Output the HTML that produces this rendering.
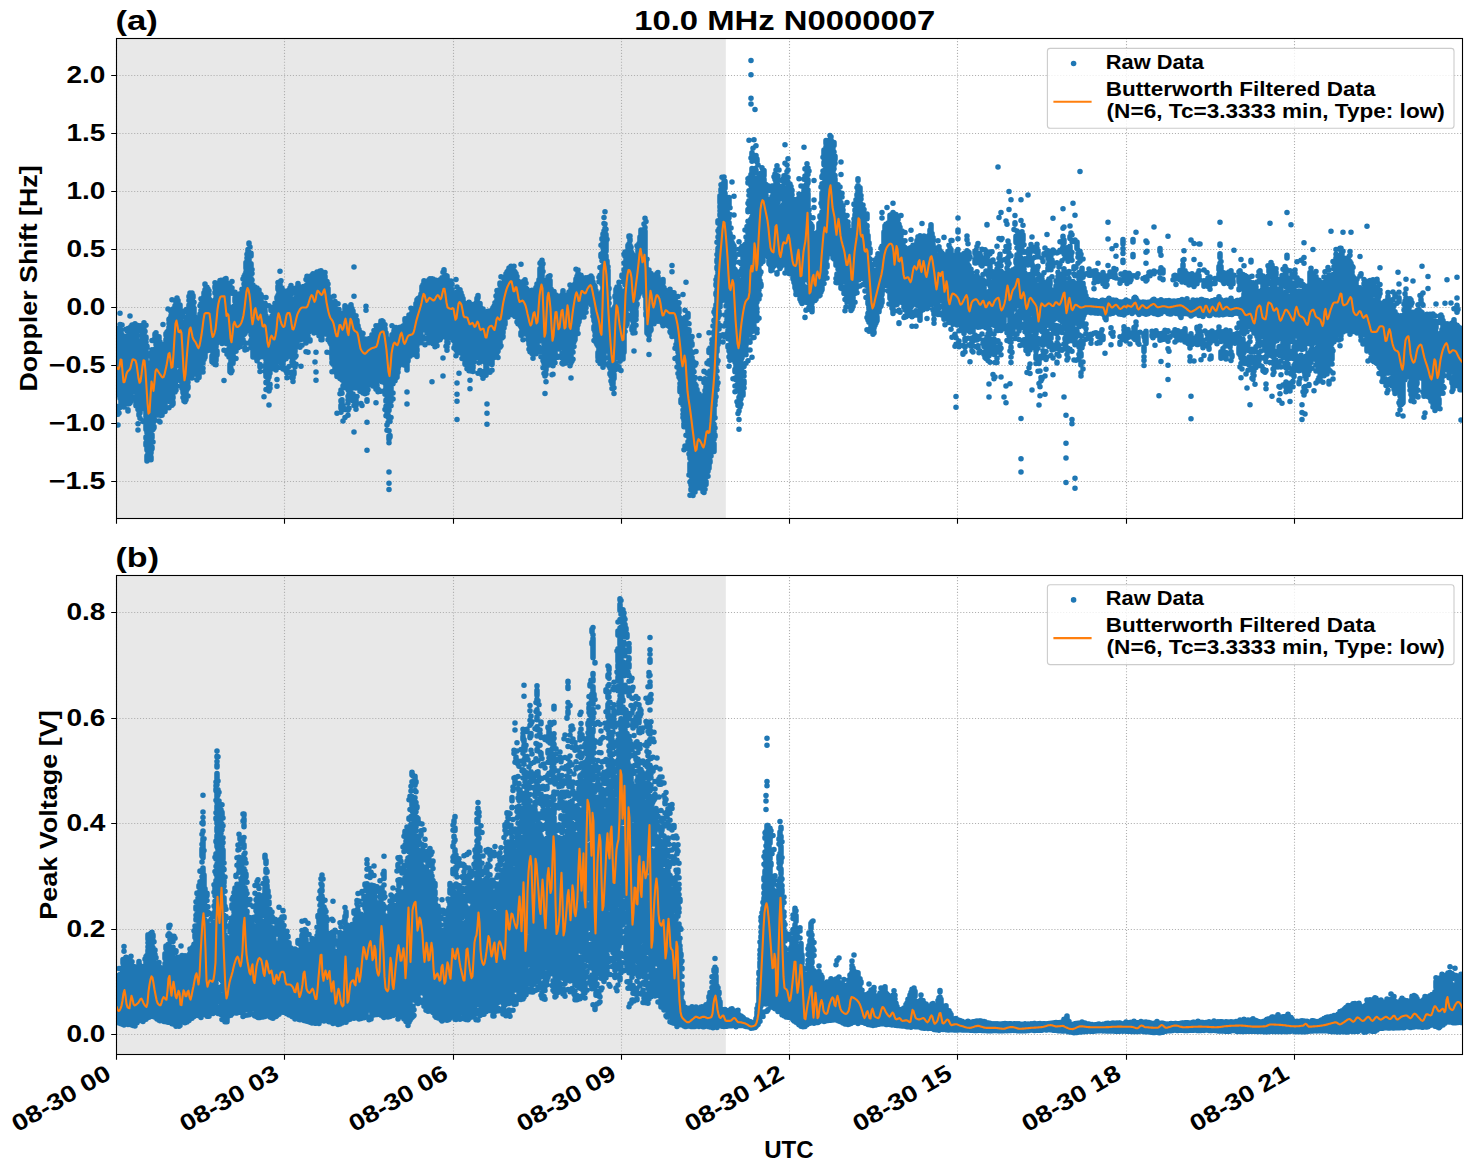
<!DOCTYPE html>
<html><head><meta charset="utf-8"><title>10.0 MHz N0000007</title>
<style>html,body{margin:0;padding:0;background:#fff}svg{display:block}text{font-family:"Liberation Sans",sans-serif;font-weight:bold;fill:#000}</style></head>
<body>
<svg width="1472" height="1172" viewBox="0 0 1472 1172">
<rect width="1472" height="1172" fill="#fff"/>
<defs><clipPath id="c1"><rect x="116.5" y="38.5" width="1346.0" height="480.0"/></clipPath><clipPath id="c2"><rect x="116.5" y="575.5" width="1346.0" height="479.0"/></clipPath></defs>
<rect x="116.5" y="38.5" width="609.3" height="480.0" fill="#e8e8e8"/>
<path d="M116.5 518.5V38.5M284.5 518.5V38.5M453.5 518.5V38.5M621.5 518.5V38.5M789.5 518.5V38.5M957.5 518.5V38.5M1126.5 518.5V38.5M1294.5 518.5V38.5M116.5 75.5H1462.5M116.5 133.5H1462.5M116.5 191.5H1462.5M116.5 249.5H1462.5M116.5 307.5H1462.5M116.5 365.5H1462.5M116.5 423.5H1462.5M116.5 481.5H1462.5" stroke="#b0b0b0" stroke-width="1.1" stroke-dasharray="1.11 1.83" fill="none"/>
<g clip-path="url(#c1)"><path transform="scale(0.25)" d="M464 1464v0M468 1315v14m0 14v14m0 18v17m0 13v135m0 15v9M472 1369v0m0 13v13m0 21v139m0 14v7m0 50v16m0 15v0m0 43v0M476 1325v0m0 16v0m0 14v20m0 16v78m0 14v53m0 30v15m0 47v3m0 21v0M480 1253v0m0 45v0m0 18v5m0 20v5m0 13v91m0 15v47m0 23v29m0 16v0m0 13v0m0 37v0M484 1319v24m0 16v137m0 24v8m0 24v9m0 44v5M488 1300v0m0 39v2m0 15v11m0 20v31m0 13v138m0 40v14M492 1353v38m0 15v163m0 19v8m0 14v7M496 1349v0m0 19v0m0 50v32m0 15v51m0 24v72m0 16v0M500 1365v0m0 13v5m0 24v78m0 14v27m0 13v62M504 1317v0m0 49v193m0 23v33M508 1323v0m0 21v2m0 14v2m0 47v54m0 13v2m0 13v67m0 15v7m0 15v20M512 1314v4m0 45v4m0 36v176m0 14v1m0 22v0m0 23v5M516 1318v18m0 17v202m0 36v0m0 14v10M520 1264v0m0 81v6m0 26v51m0 18v135m0 14v17M524 1306v23m0 42v120m0 15v48m0 30v0m0 21v0M528 1300v24m0 13v148m0 22v0m0 32v4M532 1332v1m0 27v105m0 17v15m0 16v3m0 19v6m0 16v0M536 1304v0m0 19v0m0 24v148m0 13v0m0 43v0m0 16v1M540 1295v0m0 19v0m0 17v142m0 20v44m0 25v0m0 28v0M544 1320v2m0 21v3m0 16v37m0 13v83m0 15v35m0 14v3m0 38v0m0 16v7M548 1301v0m0 21v23m0 13v4m0 14v38m0 13v93m0 15v22m0 19v0m0 23v0M552 1322v0m0 56v202m0 21v4m0 16v0m0 14v3m0 57v0m0 25v0M556 1363v6m0 16v0m0 22v0m0 23v27m0 19v92m0 14v54m0 19v6M560 1303v0m0 63v13m0 19v2m0 24v41m0 13v2m0 15v118m0 26v13m0 21v0M564 1370v23m0 13v69m0 14v94m0 15v0m0 16v0M568 1312v13m0 16v4m0 27v0m0 15v5m0 13v7m0 14v67m0 22v11m0 15v44m0 17v8m0 25v0M572 1300v210m0 17v28m0 18v0m0 13v0m0 18v0m0 80v2M576 1291v12m0 13v126m0 22v3m0 15v13m0 21v0m0 23v9m0 28v0m0 50v0M580 1303v0m0 22v1m0 41v87m0 15v48m0 14v24m0 16v41m0 19v0M584 1301v0m0 47v8m0 13v0m0 33v0m0 13v36m0 17v96m0 18v85m0 32v19m0 30v5m0 18v10M588 1385v5m0 74v27m0 18v5m0 18v7m0 15v0m0 26v89m0 15v22m0 22v3m0 20v49m0 23v21M592 1424v0m0 49v33m0 42v80m0 13v22m0 13v42m0 14v11m0 26v12m0 22v12M596 1512v0m0 14v0m0 14v2m0 22v2m0 16v8m0 14v159m0 72v0M600 1487v0m0 38v16m0 54v143m0 18v51m0 14v15M604 1412v0m0 38v0m0 24v173m0 19v18m0 68v0m0 41v19m0 16v11M608 1362v0m0 37v0m0 29v147m0 26v39m0 14v26m0 26v0m0 33v12m0 17v2m0 18v7M612 1409v37m0 14v7m0 14v40m0 15v119m0 17v3m0 19v3m0 21v0m0 50v0M616 1358v5m0 60v18m0 25v165m0 16v0m0 23v14m0 22v5M620 1336v7m0 55v176m0 14v53m0 40v0M624 1331v0m0 14v0m0 33v0m0 15v5m0 15v9m0 15v96m0 13v0m0 20v19m0 36v0m0 24v0m0 16v0M628 1355v13m0 15v139m0 16v42m0 28v0m0 38v0M632 1355v5m0 27v0m0 31v1m0 13v3m0 15v182m0 14v0m0 13v1M636 1347v11m0 62v0m0 26v155m0 17v10m0 20v0m0 36v0M640 1368v185m0 15v20m0 14v0m0 52v0m0 34v0M644 1376v0m0 54v165m0 18v20m0 29v0M648 1403v0m0 26v32m0 15v143m0 17v12m0 13v0M652 1298v0m0 91v2m0 51v14m0 19v81m0 14v38m0 19v22M656 1398v10m0 13v144m0 21v0m0 46v0M660 1403v39m0 17v139m0 14v6m0 19v9M664 1334v7m0 16v28m0 17v133m0 14v11m0 32v0M668 1328v20m0 17v0m0 29v141m0 17v24m0 13v6M672 1236v0m0 88v0m0 16v2m0 23v158m0 15v0m0 20v14M676 1277v4m0 13v0m0 15v109m0 16v70m0 22v0m0 20v1m0 20v0m0 64v0M680 1273v4m0 18v20m0 14v181m0 16v13m0 24v17m0 19v8M684 1247v0m0 16v2m0 20v0m0 48v11m0 15v1m0 14v17m0 13v140m0 14v7m0 14v7M688 1199v0m0 51v0m0 30v1m0 14v0m0 34v12m0 21v6m0 24v163m0 20v6m0 40v0M692 1236v5m0 53v0m0 19v0m0 23v120m0 13v6m0 13v32m0 15v13m0 13v2m0 24v5m0 16v8M696 1236v0m0 13v0m0 26v0m0 16v0m0 17v173m0 14v10m0 19v0M700 1223v4m0 16v0m0 15v160m0 13v4m0 29v5m0 33v0m0 66v0M704 1207v53m0 15v0m0 13v4m0 16v33m0 22v32m0 61v0m0 36v7m0 16v11m0 34v1M708 1192v99m0 14v2m0 16v23m0 14v17m0 25v29m0 13v19m0 24v9m0 18v0m0 31v0M712 1202v5m0 22v8m0 13v116m0 28v0m0 16v11m0 24v1m0 55v0M716 1226v0m0 15v153m0 22v3M720 1220v117m0 16v0m0 15v24m0 26v0m0 29v9M724 1243v115m0 14v5m0 14v0m0 14v2m0 16v0m0 15v4m0 18v24m0 28v12M728 1259v0m0 40v13m0 14v141m0 24v0m0 14v0m0 18v16m0 14v0M732 1312v0m0 19v0m0 23v66m0 18v103m0 14v16m0 19v0M736 1355v2m0 14v6m0 17v0m0 14v12m0 15v144m0 16v9M740 1244v2m0 78v11m0 18v62m0 15v29m0 14v2m0 14v118M744 1239v0m0 29v0m0 17v0m0 19v20m0 22v14m0 32v0m0 14v22m0 17v10m0 18v59m0 17v50M748 1237v0m0 36v33m0 24v4m0 17v11m0 13v32m0 14v0m0 21v66m0 22v0m0 24v4M752 1240v7m0 57v28m0 14v94m0 13v28m0 28v3m0 17v0m0 15v8m0 32v0M756 1185v2m0 15v0m0 18v5m0 28v99m0 14v48m0 13v6M760 1172v4m0 39v4m0 14v140m0 14v12m0 22v0m0 14v0m0 18v0m0 23v0M764 1185v0m0 27v195m0 43v0m0 42v0m0 19v0M768 1172v0m0 37v183m0 16v15m0 21v0m0 38v15m0 15v0M772 1182v8m0 26v25m0 25v30m0 16v89m0 14v29m0 14v0m0 15v7m0 13v0M776 1209v0m0 24v29m0 14v40m0 13v86m0 13v14m0 14v17m0 18v0M780 1271v17m0 14v15m0 18v80m0 13v19m0 45v0M784 1313v129m0 14v41M788 1287v0m0 24v182m0 27v0M792 1271v6m0 25v38m0 13v1m0 13v18m0 15v60m0 19v30M796 1295v0m0 14v0m0 13v0m0 18v0m0 13v123m0 13v21M800 1223v0m0 33v7m0 20v182m0 18v0M804 1195v0m0 20v0m0 27v2m0 23v42m0 20v114m0 25v3M808 1199v0m0 20v13m0 14v23m0 13v160M812 1191v0m0 14v0m0 27v159m0 39v3m0 20v0m0 20v0m0 15v0M816 1171v6m0 13v152m0 13v21m0 17v10m0 23v12M820 1136v2m0 21v171m0 23v36m0 23v17M824 1147v8m0 22v25m0 14v74m0 13v62M828 1149v29m0 15v58m0 14v15m0 13v27m0 16v17M832 1156v0m0 25v107m0 29v2m0 41v8m0 14v4m0 16v0M836 1163v0m0 14v0m0 17v82m0 16v22m0 16v2m0 43v0M840 1200v135m0 16v0m0 13v16M844 1226v18m0 13v134M848 1219v7m0 22v6m0 14v134m0 22v23M852 1214v11m0 19v0m0 18v169m0 17v2M856 1222v0m0 26v0m0 13v38m0 13v141M860 1131v0m0 15v6m0 17v4m0 27v15m0 28v175m0 40v0M864 1163v7m0 20v3m0 20v0m0 23v152m0 13v12m0 17v12m0 15v2M868 1197v174m0 33v16M872 1143v130m0 16v20m0 15v21M876 1151v63m0 13v64m0 28v16m0 17v12M880 1122v100m0 17v23m0 13v11m0 13v9m0 31v3m0 15v0M884 1121v120m0 14v4m0 13v12m0 36v0M888 1126v66m0 14v10m0 16v35m0 23v0m0 31v0m0 16v0m0 23v0m0 14v0M892 1122v199m0 23v0M896 1122v100m0 27v45m0 21v8m0 42v7m0 29v0m0 121v0M900 1116v107m0 17v55m0 43v0m0 15v11M904 1114v13m0 28v9m0 19v140m0 21v12M908 1132v0m0 26v0m0 15v172m0 17v13m0 27v0m0 15v0M912 1169v163M916 1226v149m0 20v1m0 32v0M920 1142v0m0 117v166m0 32v30M924 1161v0m0 99v20m0 15v37m0 19v109m0 15v16M928 1126v0m0 26v0m0 15v6m0 113v6m0 14v123m0 54v0M932 1239v0m0 15v178m0 13v8M936 1225v171M940 1169v6m0 16v15m0 16v137m0 46v0M944 1193v192m0 17v3m0 29v0M948 1200v174M952 1183v4m0 26v33m0 14v117m0 14v0M956 1186v0m0 31v153m0 17v0M960 1175v0m0 21v0m0 18v7m0 15v151M964 1177v8m0 24v31m0 14v9m0 17v78M968 1157v0m0 13v0m0 13v2m0 14v22m0 13v17m0 14v83M972 1116v0m0 80v144m0 18v2M976 1106v9m0 21v0m0 16v48m0 16v107m0 15v0m0 35v0M980 1098v0m0 42v19m0 14v128m0 19v14m0 59v7M984 1050v23m0 14v156m0 20v16m0 17v8m0 13v0m0 56v0M988 1017v0m0 15v0m0 13v184m0 24v40m0 24v0m0 80v0M992 998v27m0 14v95m0 16v45m0 24v10m0 14v0M996 972v4m0 32v3m0 13v190m0 25v15m0 15v0m0 36v0m0 19v0M1000 988v0m0 24v0m0 75v7m0 20v181m0 20v11m0 43v0M1004 1013v11m0 31v12m0 45v25m0 15v12m0 13v137m0 25v0m0 22v2m0 19v0M1008 1078v0m0 16v0m0 26v0m0 27v0m0 20v153m0 18v54M1012 1140v0m0 40v12m0 15v221M1016 1173v20m0 17v108m0 13v30m0 14v0m0 13v0m0 40v0M1020 1148v4m0 14v23m0 14v106m0 18v0m0 13v17m0 51v0M1024 1153v171m0 19v23M1028 1152v1m0 26v33m0 19v131m0 18v9m0 14v3m0 21v16M1032 1172v0m0 24v0m0 20v167m0 17v5m0 27v0M1036 1160v0m0 18v199m0 15v7M1040 1175v187m0 22v0m0 13v31m0 30v10m0 18v0M1044 1179v0m0 25v160m0 20v0m0 18v6M1048 1187v3m0 20v165m0 13v0m0 32v1M1052 1236v0m0 27v128m0 14v13M1056 1225v0m0 16v113m0 16v14m0 19v25m0 37v0m0 122v0M1060 1213v16m0 13v132m0 14v21m0 19v0m0 57v0M1064 1190v0m0 74v176m0 14v0m0 17v35m0 23v2m0 27v0M1068 1273v0m0 15v94m0 15v81m0 30v0M1072 1313v68m0 13v95m0 15v0m0 14v0m0 39v0M1076 1223v0m0 78v0m0 13v0m0 13v116m0 13v29m0 13v10m0 30v26m0 56v0M1080 1290v162m0 16v0m0 25v0m0 44v3m0 13v0M1084 1230v12m0 29v25m0 14v130M1088 1235v0m0 29v0m0 15v150m0 18v11m0 15v0M1092 1258v0m0 20v138m0 21v22m0 16v0M1096 1235v0m0 20v14m0 13v32m0 13v119m0 24v0M1100 1213v3m0 18v0m0 18v135m0 14v45M1104 1235v0m0 21v171m0 14v23m0 16v0M1108 1189v6m0 16v72m0 16v50m0 13v20m0 17v0m0 49v0m0 70v0m0 27v0M1112 1130v0m0 15v12m0 24v116m0 14v28m0 14v0m0 15v0m0 27v0m0 27v21m0 27v0M1116 1166v154m0 25v0m0 34v0m0 16v0M1120 1085v0m0 50v145m0 15v72M1124 1123v0m0 102v194m0 24v8m0 19v0M1128 1152v0m0 22v34m0 14v112m0 15v52m0 26v0m0 14v3M1132 1162v5m0 30v1m0 18v25m0 15v137m0 22v0m0 25v21m0 13v2M1136 1169v12m0 14v6m0 17v20m0 21v85m0 13v40m0 17v0m0 18v7M1140 1201v204M1144 1199v199m0 27v10m0 49v0M1148 1164v0m0 29v93m0 18v49m0 13v2m0 27v0m0 19v0m0 14v0m0 46v19m0 18v0M1152 1172v159m0 21v17m0 13v7M1156 1162v81m0 28v23m0 14v10m0 13v12m0 18v14m0 14v7m0 70v0M1160 1152v13m0 16v171m0 20v8m0 15v0m0 15v6M1164 1142v22m0 37v115m0 18v72m0 83v0M1168 1174v0m0 23v10m0 14v23m0 14v136m0 27v11m0 16v0m0 50v13M1172 1156v0m0 41v0m0 53v143m0 15v7m0 17v0m0 14v2m0 13v0m0 45v5m0 15v0M1176 1231v6m0 15v25m0 15v77m0 18v44m0 31v0m0 25v9M1180 1206v100m0 15v13m0 14v58m0 23v0m0 33v6M1184 1152v0m0 18v0m0 21v0m0 20v81m0 14v81m0 36v0m0 34v0M1188 1158v0m0 23v199M1192 1134v27m0 20v149m0 27v2M1196 1173v153m0 16v19M1200 1160v151m0 29v15m0 33v1M1204 1161v5m0 20v139m0 28v1m0 111v0M1208 1148v7m0 17v104m0 17v6m0 17v12m0 20v9m0 24v0M1212 1172v135m0 36v6M1216 1146v169m0 13v0M1220 1176v8m0 16v111m0 15v22M1224 1118v0m0 34v118m0 35v13m0 15v3m0 23v13m0 35v0M1228 1105v15m0 18v71m0 13v10m0 13v69m0 15v6m0 24v4M1232 1144v139m0 14v27m0 20v0m0 65v0M1236 1134v125m0 16v19m0 16v0m0 17v0M1240 1105v16m0 40v121m0 29v0m0 48v5M1244 1134v74m0 18v69m0 21v0M1248 1130v130m0 37v0M1252 1095v0m0 43v104m0 15v31m0 27v9M1256 1115v0m0 13v3m0 17v132m0 25v0m0 22v5M1260 1149v1m0 15v132m0 17v0m0 14v2m0 118v0M1264 1102v5m0 21v135m0 27v0m0 20v14m0 85v0m0 79v0m0 33v0M1268 1088v14m0 20v111m0 21v22M1272 1089v110m0 21v5m0 18v17m0 33v7m0 14v15M1276 1096v133m0 13v39m0 20v0m0 19v0m0 23v0M1280 1084v108m0 14v13m0 15v14m0 14v0m0 25v0m0 35v6M1284 1083v13m0 18v163m0 14v8m0 21v0m0 18v0m0 21v0M1288 1106v0m0 13v128m0 13v27m0 51v2m0 15v4M1292 1117v140m0 17v0m0 20v0m0 16v0m0 16v0M1296 1099v150m0 14v34m0 20v0M1300 1090v0m0 15v181m0 32v0m0 14v4M1304 1127v156m0 22v0m0 19v5M1308 1126v0m0 19v111m0 14v25m0 23v18m0 73v0M1312 1136v0m0 18v20m0 25v120m0 40v0M1316 1203v143m0 16v0M1320 1188v19m0 15v148M1324 1210v10m0 15v110m0 16v0m0 16v0m0 32v4M1328 1210v160m0 14v16m0 19v16m0 13v4m0 35v0M1332 1217v5m0 23v143m0 15v0m0 26v2m0 26v0M1336 1185v0m0 36v20m0 13v100m0 19v1m0 15v8m0 24v5m0 22v0M1340 1206v1m0 18v3m0 39v83m0 14v10m0 19v24m0 40v20M1344 1242v142m0 18v1m0 15v20m0 52v0M1348 1274v141m0 16v30m0 15v4m0 19v7m0 147v0M1352 1215v0m0 39v13m0 17v126m0 17v27m0 17v6M1356 1238v2m0 14v117m0 18v47m0 13v18M1360 1261v108m0 13v4m0 34v0m0 18v4m0 14v21m0 37v0m0 61v0M1364 1257v81m0 13v2m0 15v24m0 36v51m0 17v11m0 53v0m0 42v3m0 16v12m0 16v0M1368 1259v113m0 19v17m0 15v14m0 33v3m0 47v0m0 53v0m0 26v28M1372 1254v73m0 14v5m0 14v44m0 23v10m0 29v0m0 24v0m0 54v0m0 78v0m0 62v0M1376 1254v107m0 30v34m0 16v0m0 22v11m0 17v13m0 22v5m0 20v0M1380 1223v69m0 15v35m0 16v43m0 20v3m0 16v0m0 13v20m0 76v0m0 86v3m0 32v0M1384 1244v189m0 25v0m0 34v6M1388 1232v112m0 13v8m0 19v6m0 16v0m0 14v0m0 21v17m0 51v9m0 22v0M1392 1250v5m0 26v154m0 24v3m0 36v14m0 13v13m0 18v3m0 26v0m0 15v0m0 13v0m0 28v0m0 20v0M1396 1259v107m0 20v78m0 14v0m0 15v9m0 19v17m0 34v16m0 45v0M1400 1226v122m0 37v8m0 20v6m0 14v4m0 22v10m0 72v0m0 16v6M1404 1219v92m0 17v0m0 14v1m0 18v0m0 13v0m0 17v23m0 96v0m0 19v0M1408 1234v61m0 15v46m0 21v9m0 16v4m0 15v17m0 47v0m0 20v0m0 24v0m0 20v0m0 38v0M1412 1244v1m0 14v104m0 28v25m0 20v7m0 46v0m0 19v0m0 18v26m0 24v27M1416 1068v0m0 117v0m0 74v79m0 31v15m0 13v9m0 16v7m0 31v0m0 20v0m0 27v0m0 19v0m0 58v4m0 34v0m0 106v0M1420 1266v114m0 16v24m0 14v23m0 15v8m0 125v8M1424 1263v0m0 15v89m0 15v35m0 13v48m0 17v0m0 57v0m0 48v22m0 15v0M1428 1281v42m0 15v0m0 24v11m0 16v24m0 14v0m0 14v6m0 19v20m0 100v0M1432 1303v101m0 13v52m0 16v31m0 24v0M1436 1318v0m0 16v41m0 13v27m0 21v4m0 28v14m0 19v0m0 23v0m0 16v0M1440 1349v136m0 29v6m0 45v0M1444 1352v181m0 21v0m0 60v0M1448 1332v8m0 18v146m0 23v13m0 82v0M1452 1334v0m0 42v0m0 14v34m0 15v77m0 13v43M1456 1355v0m0 14v132m0 18v6m0 22v2M1460 1356v164m0 20v0m0 35v0M1464 1225v0m0 16v0m0 135v132m0 46v0M1468 1359v95m0 18v40m0 16v13m0 31v0m0 27v6m0 84v0m0 112v0M1472 1356v75m0 17v11m0 16v0m0 54v3m0 27v0M1476 1369v140m0 21v10M1480 1354v132m0 21v5M1484 1355v164M1488 1339v67m0 15v8m0 13v20m0 29v6m0 31v7M1492 1349v118m0 19v0m0 23v15m0 20v0M1496 1322v0m0 14v134m0 13v36M1500 1334v0m0 15v0m0 16v109m0 17v14m0 14v0m0 17v0M1504 1303v0m0 33v127m0 16v15m0 33v4m0 13v13m0 54v0M1508 1312v164m0 20v5m0 40v0M1512 1323v154m0 14v0m0 65v11M1516 1302v91m0 13v38m0 34v7M1520 1299v157m0 13v3m0 41v10M1524 1284v112m0 27v0m0 15v0m0 20v2m0 35v2m0 68v0M1528 1283v91m0 15v28m0 33v0m0 20v19m0 38v0M1532 1286v83m0 17v17m0 29v17m0 30v6m0 31v0M1536 1297v66m0 13v46m0 19v0m0 14v7m0 24v0M1540 1299v0m0 15v65m0 28v16m0 23v24m0 30v0m0 17v0m0 16v0m0 28v0m0 16v0m0 61v0M1544 1331v102m0 14v37m0 23v17m0 21v14m0 13v4m0 24v5m0 20v0m0 38v0M1548 1354v9m0 14v126m0 34v0m0 17v8m0 32v9m0 28v0m0 18v1m0 50v0m0 21v0M1552 1382v0m0 20v96m0 13v94m0 31v9m0 14v9m0 22v0M1556 1370v1m0 17v0m0 19v145m0 17v11m0 13v24m0 21v4m0 36v0m0 45v0m0 21v13m0 14v0m0 117v0m0 45v0m0 25v0M1560 1399v0m0 19v9m0 14v139m0 16v0m0 13v0m0 77v0m0 56v6M1564 1390v111m0 21v68m0 15v0m0 18v0m0 47v0M1568 1303v0m0 36v5m0 14v109m0 16v0m0 27v0M1572 1350v126m0 22v0m0 14v0m0 23v0m0 37v0m0 24v0M1576 1323v90m0 18v13m0 15v13m0 14v0M1580 1324v82m0 14v8m0 18v10m0 14v0m0 26v1m0 26v0M1584 1310v0m0 14v2m0 15v94m0 15v0m0 22v19m0 21v0M1588 1323v10m0 14v162M1592 1327v149m0 13v0M1596 1319v112m0 32v0M1600 1309v107m0 16v11M1604 1308v99m0 25v0m0 18v0M1608 1310v111m0 29v0M1612 1304v146M1616 1337v110m0 13v0M1620 1275v8m0 13v144m0 14v6M1624 1293v0m0 22v115m0 14v7M1628 1298v0m0 14v108m0 18v42m0 88v0m0 48v0M1632 1274v10m0 13v118m0 17v12M1636 1260v1m0 23v0m0 16v99m0 28v0M1640 1268v0m0 14v143M1644 1233v0m0 27v1m0 14v6m0 14v105m0 15v3M1648 1248v28m0 20v102m0 21v0M1652 1257v144M1656 1248v130m0 17v0m0 20v3M1660 1244v132m0 16v0M1664 1214v159m0 26v0M1668 1199v135m0 33v14m0 15v8m0 14v8M1672 1194v127m0 23v0M1676 1195v115m0 17v8m0 15v6M1680 1188v100m0 19v21m0 30v0M1684 1176v57m0 23v53m0 20v0m0 42v0M1688 1146v86m0 24v2m0 21v16m0 13v0m0 39v0M1692 1139v104m0 18v50m0 36v2M1696 1123v77m0 17v9m0 15v6m0 32v6m0 71v0M1700 1134v105m0 20v27m0 13v9m0 71v0M1704 1144v150m0 27v0M1708 1146v11m0 23v69m0 18v64m0 25v0M1712 1139v4m0 13v137m0 57v0M1716 1119v7m0 14v110m0 13v3m0 15v28m0 21v6m0 23v12M1720 1115v2m0 14v167m0 23v0m0 29v0M1724 1121v163m0 25v11m0 15v0M1728 1115v18m0 13v108m0 14v0m0 29v5m0 19v1m0 42v0m0 163v0M1732 1116v11m0 19v60m0 13v8m0 14v17m0 19v33m0 15v11m0 39v0M1736 1120v2m0 15v6m0 15v98m0 16v16m0 14v4m0 18v6m0 14v0M1740 1121v0m0 20v66m0 13v66m0 27v0m0 15v3m0 21v0m0 15v0m0 20v0M1744 1121v162m0 14v0m0 34v0M1748 1128v0m0 14v58m0 13v32m0 13v41m0 18v30m0 18v0m0 18v0M1752 1126v189m0 38v0M1756 1122v153m0 33v0M1760 1119v6m0 20v110m0 14v0m0 13v0m0 29v0m0 24v0m0 13v11M1764 1144v81m0 16v7m0 26v4m0 24v11m0 15v2m0 21v0M1768 1111v168m0 13v12M1772 1089v0m0 27v109m0 16v26m0 17v54m0 94v0m0 72v0M1776 1079v7m0 21v65m0 15v72m0 29v25m0 26v0M1780 1103v0m0 13v191m0 39v0M1784 1102v0m0 39v110m0 16v24m0 14v8m0 37v0m0 35v0M1788 1104v13m0 13v0m0 16v165m0 13v22m0 20v4m0 18v0m0 13v0M1792 1131v0m0 13v0m0 21v0m0 15v94m0 13v13m0 13v8m0 16v17m0 18v0M1796 1149v0m0 18v179M1800 1135v2m0 20v143m0 18v2m0 23v5M1804 1124v0m0 18v6m0 23v154m0 19v0M1808 1136v0m0 22v150m0 36v0M1812 1177v125m0 15v25m0 13v5M1816 1178v154m0 13v19m0 27v1M1820 1188v1m0 21v0m0 19v128m0 23v13M1824 1118v0m0 72v178m0 13v18m0 24v0M1828 1148v0m0 21v117m0 14v46m0 30v0m0 15v0m0 14v0m0 127v0m0 45v0m0 28v0m0 73v0M1832 1183v137m0 21v11m0 30v5M1836 1164v4m0 13v66m0 20v78m0 21v14m0 14v1m0 98v0M1840 1159v92m0 25v28m0 33v0m0 24v0m0 28v0m0 22v0M1844 1171v137m0 30v19M1848 1183v79m0 17v0m0 17v13m0 14v4m0 24v13m0 70v0M1852 1194v114m0 13v69m0 33v0M1856 1211v8m0 13v109m0 17v47M1860 1220v138m0 25v1m0 36v0m0 14v0m0 17v6M1864 1220v168M1868 1230v0m0 13v38m0 13v142m0 39v0M1872 1222v3m0 14v127m0 14v0m0 17v0m0 35v0m0 19v0m0 16v0M1876 1209v0m0 15v6m0 14v113m0 25v33m0 18v16m0 13v0m0 16v5M1880 1254v5m0 13v106m0 15v24m0 14v0m0 90v0m0 34v0M1884 1223v147m0 18v16m0 13v0m0 21v0m0 46v0M1888 1218v15m0 17v107m0 14v19m0 27v5M1892 1268v111m0 14v8m0 14v15m0 32v10m0 14v0M1896 1257v81m0 14v49m0 46v0M1900 1228v8m0 16v119m0 17v5m0 15v11m0 15v0M1904 1212v192m0 20v5M1908 1193v17m0 29v109m0 15v13m0 14v3m0 18v11M1912 1182v9m0 24v0m0 27v99m0 38v19m0 13v0m0 13v0m0 69v0M1916 1240v151m0 15v4m0 16v0m0 25v0M1920 1214v13m0 15v0m0 16v70m0 16v66m0 24v0m0 15v0m0 33v0M1924 1236v176m0 13v1m0 18v0M1928 1238v110m0 21v0m0 15v5m0 18v22m0 71v0M1932 1236v84m0 16v77m0 27v0m0 47v10m0 16v0M1936 1253v6m0 14v115m0 14v9m0 17v17m0 49v10M1940 1277v157m0 15v0M1944 1286v98m0 13v104M1948 1293v159m0 23v8m0 133v0m0 37v0m0 44v0M1952 1245v20m0 16v94m0 24v0m0 16v17m0 23v0m0 28v0M1956 1245v160m0 49v0M1960 1244v108m0 13v13m0 77v0m0 34v0M1964 1246v105m0 13v25m0 15v12M1968 1258v124m0 18v4m0 16v38m0 23v0M1972 1231v0m0 19v131m0 14v5M1976 1225v8m0 20v145M1980 1211v1m0 27v0m0 29v121m0 40v0M1984 1184v0m0 25v22m0 14v136m0 24v0M1988 1162v1m0 17v3m0 14v125m0 15v17m0 13v1m0 35v8M1992 1161v0m0 49v176m0 13v6m0 25v0M1996 1169v12m0 13v141m0 13v10M2000 1132v7m0 36v0m0 38v89m0 16v71M2004 1107v0m0 28v10m0 33v152m0 53v0M2008 1135v0m0 23v0m0 17v71m0 13v35m0 16v3m0 20v19M2012 1146v125m0 20v2m0 32v6m0 13v4M2016 1115v0m0 16v128m0 19v0m0 18v0m0 16v0M2020 1115v135m0 17v2m0 16v12M2024 1095v124m0 13v0m0 23v4M2028 1088v124m0 16v0m0 23v0M2032 1083v87m0 14v34m0 50v0M2036 1072v135m0 18v0M2040 1070v121m0 20v0m0 26v0M2044 1065v139m0 50v0M2048 1078v130m0 18v0M2052 1109v119m0 31v1M2056 1065v0m0 18v2m0 32v0m0 14v118M2060 1088v0m0 24v109m0 16v7m0 13v9M2064 1094v137M2068 1106v0m0 14v112m0 18v3m0 35v0M2072 1124v126m0 25v20M2076 1152v1m0 15v124M2080 1151v121m0 14v0m0 15v0M2084 1057v0m0 76v0m0 21v153m0 23v11M2088 1128v133m0 13v46M2092 1149v132m0 13v0m0 13v0m0 26v4m0 22v0M2096 1157v123m0 27v0M2100 1119v13m0 25v138m0 18v17M2104 1133v0m0 20v132m0 18v0m0 13v0M2108 1157v150m0 19v10M2112 1178v16m0 14v0m0 14v102m0 13v8m0 13v0M2116 1163v0m0 22v0m0 46v0m0 16v130m0 20v0M2120 1167v5m0 15v0m0 27v2m0 21v152m0 18v0M2124 1166v22m0 22v0m0 16v131m0 18v16M2128 1161v16m0 15v31m0 23v168M2132 1165v0m0 53v116m0 49v6m0 44v0M2136 1164v0m0 26v118m0 21v17m0 22v5M2140 1183v10m0 15v113m0 13v24m0 13v17M2144 1150v1m0 28v64m0 13v96m0 33v6m0 15v9M2148 1136v0m0 55v20m0 38v161M2152 1146v0m0 15v201m0 39v0M2156 1119v98m0 13v70m0 42v0m0 23v0m0 23v0M2160 1053v0m0 22v126m0 28v13m0 16v11m0 16v0m0 36v0m0 13v0m0 72v0M2164 1048v9m0 21v109m0 26v33m0 18v7m0 23v2m0 13v5m0 113v0M2168 1041v104m0 19v26m0 39v4m0 20v12m0 25v0m0 14v0m0 15v8m0 29v0m0 41v2M2172 1055v0m0 31v0m0 34v50m0 16v132m0 26v0m0 15v0m0 42v5m0 37v0m0 28v0M2176 1153v0m0 15v30m0 15v46m0 13v103m0 14v7m0 15v3m0 23v16m0 41v0M2180 1161v28m0 15v5m0 17v0m0 13v27m0 14v19m0 15v108m0 20v0m0 62v0m0 70v0M2184 1122v0m0 43v0m0 15v0m0 26v85m0 26v50m0 14v2m0 19v6m0 20v3m0 14v0m0 26v9m0 17v0m0 30v0M2188 1140v0m0 15v8m0 15v155m0 15v21m0 14v0m0 14v0m0 23v18m0 15v0M2192 1108v98m0 16v47m0 17v42m0 16v8m0 95v1M2196 1105v112m0 23v12m0 25v0m0 19v0m0 21v9m0 16v0m0 16v17m0 23v0m0 24v7m0 31v0M2200 1103v0m0 19v24m0 15v120m0 17v29m0 19v0m0 15v0M2204 1156v91m0 18v86m0 13v45M2208 1221v10m0 14v0m0 15v86m0 14v97m0 42v0M2212 1220v4m0 18v2m0 15v72m0 20v112m0 34v0M2216 1166v16m0 26v0m0 31v9m0 38v136m0 16v14M2220 1219v119m0 14v17m0 13v36m0 13v0m0 20v0M2224 1180v146m0 19v5m0 20v13m0 45v0M2228 1183v150m0 19v9m0 28v0m0 35v0M2232 1191v0m0 21v0m0 20v99m0 13v20m0 65v0M2236 1209v35m0 14v123m0 14v1M2240 1207v24m0 15v107m0 15v6m0 13v0M2244 1207v0m0 13v137m0 17v10M2248 1179v131m0 13v28m0 31v0m0 32v5m0 13v0m0 21v0M2252 1163v201m0 28v0m0 35v9m0 19v1M2256 1199v163m0 14v22m0 21v9M2260 1242v0m0 29v0m0 13v144m0 25v0M2264 1202v125m0 15v32m0 20v6m0 17v5m0 25v0M2268 1187v164m0 32v13M2272 1179v170m0 14v0m0 18v2m0 29v12M2276 1168v12m0 16v12m0 18v109m0 13v47m0 27v7M2280 1140v0m0 32v0m0 73v180m0 14v6m0 18v0M2284 1156v10m0 16v11m0 19v153m0 15v26m0 16v29m0 61v0M2288 1161v13m0 24v6m0 14v64m0 14v44m0 14v33m0 13v4m0 40v0M2292 1155v129m0 13v53m0 17v9m0 33v0m0 28v0M2296 1149v163m0 23v0m0 32v0m0 19v0M2300 1135v86m0 13v15m0 15v95M2304 1077v0m0 39v160m0 51v0M2308 1105v155m0 19v5m0 23v12M2312 1080v0m0 13v11m0 29v153m0 13v0m0 35v0M2316 1120v0m0 21v0m0 15v131M2320 1107v136m0 20v9M2324 1101v122M2328 1109v8m0 13v101m0 13v4M2332 1132v74m0 13v0m0 15v12m0 14v0M2336 1122v83m0 33v1m0 29v0M2340 1122v0m0 15v98M2344 1111v91m0 13v0m0 16v0m0 18v0M2348 1115v97M2352 1121v88M2356 1109v72m0 19v6M2360 1114v80M2364 1104v85m0 13v3m0 13v0M2368 1110v103M2372 1128v122m0 15v0M2376 1140v116m0 17v10m0 23v12m0 44v0M2380 1145v114m0 17v25m0 18v9m0 15v0m0 17v0M2384 1163v0m0 14v147m0 13v9m0 22v2M2388 1174v13m0 16v133m0 14v5m0 19v4M2392 1192v0m0 22v124m0 13v33m0 26v20m0 13v0M2396 1109v0m0 18v0m0 56v11m0 37v20m0 20v136m0 24v10M2400 1070v0m0 31v0m0 84v0m0 34v56m0 17v7m0 22v85m0 14v6m0 13v2m0 13v0M2404 981v0m0 36v10m0 146v6m0 14v0m0 15v13m0 13v0m0 34v7m0 17v12m0 23v114M2408 954v3m0 21v0m0 65v0m0 24v0m0 16v22m0 19v13m0 29v19m0 13v10m0 15v171m0 25v7M2412 936v2m0 34v20m0 17v11m0 16v9m0 24v5m0 14v107m0 18v30m0 14v0m0 26v7m0 30v20m0 72v11m0 25v5m0 16v0M2416 870v0m0 24v0m0 30v0m0 15v28m0 19v21m0 14v45m0 13v21m0 29v12m0 13v10m0 16v35m0 39v0m0 13v0m0 66v0m0 38v0m0 19v0m0 31v0m0 18v0m0 16v0M2420 847v0m0 49v0m0 17v146m0 16v0m0 14v39m0 13v21m0 21v17m0 13v2m0 16v0m0 15v2m0 15v0m0 17v0m0 21v9m0 24v1m0 17v7m0 73v0M2424 917v0m0 21v67m0 18v85m0 17v52m0 37v19m0 14v29m0 13v4m0 31v0m0 14v10m0 41v0m0 16v0m0 51v0M2428 957v1m0 86v62m0 17v108m0 15v26m0 23v0m0 58v0M2432 1067v0m0 13v206m0 13v0m0 16v5M2436 1153v2m0 37v0m0 21v0m0 26v9m0 13v140m0 29v1m0 32v1M2440 1280v149m0 16v27m0 21v4M2444 1277v14m0 19v134m0 19v19m0 22v0m0 20v0M2448 1262v0m0 34v222m0 13v5m0 18v0M2452 1332v0m0 46v4m0 17v0m0 16v121m0 13v6M2456 1233v14m0 27v8m0 41v64m0 18v79m0 13v17m0 37v0m0 23v0M2460 1184v4m0 38v18m0 21v162m0 25v27M2464 1157v130m0 14v18m0 14v4m0 13v0m0 20v0m0 15v6m0 21v0m0 17v0m0 24v0M2468 1148v70m0 20v55m0 19v0m0 14v10m0 33v6m0 25v0m0 15v0M2472 1150v0m0 13v167m0 18v12m0 39v8M2476 1129v0m0 16v213m0 22v0m0 21v4m0 26v0m0 36v10M2480 1154v0m0 23v0m0 39v153m0 18v41m0 13v4M2484 1178v0m0 14v132m0 13v61m0 33v6m0 45v0M2488 1100v6m0 92v0m0 35v0m0 15v0m0 14v14m0 14v126M2492 1126v0m0 43v0m0 32v11m0 27v10m0 22v13m0 15v137M2496 1017v0m0 35v0m0 27v0m0 35v0m0 62v1m0 14v0m0 15v63m0 16v124M2500 1008v0m0 17v0m0 32v0m0 19v32m0 17v14m0 25v111m0 14v13m0 24v0M2504 1039v97m0 22v54m0 16v35m0 41v0M2508 1010v22m0 15v44m0 13v1m0 13v29m0 14v30m0 17v27m0 46v15M2512 981v10m0 13v92m0 39v14m0 37v17m0 58v1M2516 944v4m0 27v100m0 14v54m0 15v10m0 15v0m0 23v0m0 57v0M2520 944v0m0 13v6m0 18v135m0 14v5m0 32v0M2524 989v0m0 15v131m0 18v34m0 13v0m0 14v2M2528 1013v0m0 22v3m0 16v136m0 19v34m0 27v8m0 31v11M2532 1054v2m0 16v7m0 20v5m0 13v35m0 19v99m0 15v0m0 17v0m0 30v0M2536 1093v0m0 30v20m0 28v28m0 14v102m0 16v0m0 73v0M2540 1081v11m0 15v0m0 14v116m0 22v19m0 53v0M2544 1023v0m0 14v10m0 15v136m0 13v20m0 13v21m0 13v0m0 23v0M2548 983v0m0 39v0m0 23v100m0 13v36m0 21v4M2552 992v17m0 15v119m0 13v13m0 15v5M2556 974v112m0 13v0m0 14v33m0 14v0m0 17v0M2560 948v148m0 15v0m0 17v19M2564 920v174M2568 926v137m0 19v7m0 17v5m0 19v0m0 33v0M2572 928v0m0 16v127m0 18v5m0 18v0m0 39v17M2576 896v0m0 22v136m0 13v10m0 15v21m0 15v0M2580 873v0m0 37v0m0 14v175m0 19v66M2584 886v0m0 158v28m0 13v152m0 15v10M2588 1037v0m0 61v11m0 15v0m0 14v24m0 27v39m0 14v90M2592 1165v4m0 23v145M2596 1080v0m0 68v13m0 15v149m0 15v2m0 17v0m0 59v0M2600 1134v146m0 17v4m0 25v0M2604 1094v147m0 20v7m0 22v8m0 17v5M2608 1109v0m0 13v155m0 18v0M2612 1101v2m0 13v1m0 13v158M2616 1116v10m0 16v138m0 15v0M2620 1110v0m0 23v130M2624 1101v11m0 19v96m0 19v0M2628 1094v119m0 14v0m0 25v6m0 19v0M2632 1090v0m0 17v157m0 21v0M2636 1128v86m0 16v37m0 13v0M2640 1129v4m0 20v111M2644 1130v0m0 17v132M2648 1128v0m0 33v21m0 17v0m0 17v75M2652 1118v14m0 14v9m0 23v20m0 14v39m0 13v39M2656 1151v4m0 20v125M2660 1160v134M2664 1163v114m0 13v0M2668 1186v115M2672 1178v116M2676 1178v127M2680 1157v8m0 18v0m0 20v106m0 18v0M2684 1180v2m0 16v5m0 13v117M2688 1062v0m0 25v0m0 95v136m0 28v0M2692 1171v0m0 21v127M2696 1171v0m0 13v0m0 15v114M2700 1184v0m0 13v120m0 76v0m0 41v0M2704 1190v0m0 18v11m0 14v115m0 30v0M2708 1187v0m0 24v118m0 13v32m0 14v8m0 72v0M2712 1186v0m0 25v0m0 15v137m0 13v16m0 16v0m0 18v0m0 17v4m0 22v0m0 25v0M2716 1211v0m0 25v14m0 17v126m0 13v71m0 17v0m0 14v0M2720 1272v0m0 16v46m0 15v36m0 17v31m0 22v6m0 14v40m0 19v0m0 13v20M2724 1278v14m0 29v14m0 13v141m0 13v24m0 20v12m0 40v13M2728 1320v32m0 17v132m0 14v30m0 16v5m0 14v0m0 13v0M2732 1178v0m0 113v0m0 21v5m0 30v10m0 18v190m0 20v11m0 25v0m0 19v0m0 17v0m0 13v0M2736 1281v3m0 29v7m0 16v75m0 18v140m0 51v4m0 48v10m0 13v12m0 92v0M2740 1241v0m0 29v164m0 15v23m0 20v0m0 15v0m0 17v19m0 21v0m0 16v0m0 35v0m0 21v0m0 18v0m0 130v0M2744 1129v0m0 147v2m0 19v0m0 30v30m0 13v20m0 14v124m0 26v72m0 23v4m0 18v17m0 53v0M2748 1335v0m0 30v0m0 20v7m0 16v7m0 18v14m0 20v15m0 20v106m0 16v5m0 13v14m0 13v9m0 32v0M2752 1254v15m0 24v0m0 26v31m0 23v0m0 20v16m0 26v36m0 18v9m0 25v79m0 14v5m0 15v0m0 18v4m0 19v14m0 14v23m0 39v0M2756 1295v0m0 24v8m0 27v5m0 24v0m0 15v0m0 18v0m0 19v9m0 13v0m0 13v0m0 15v9m0 23v2m0 18v10m0 16v53m0 14v13m0 24v21m0 17v0m0 13v6m0 20v8m0 45v0m0 19v0m0 84v0M2760 1373v0m0 25v0m0 27v28m0 27v8m0 27v0m0 18v3m0 14v9m0 38v104m0 13v19m0 15v50m0 21v15m0 20v36m0 38v0m0 53v0M2764 1362v0m0 99v0m0 25v0m0 19v6m0 17v0m0 21v119m0 16v103m0 32v18m0 47v19m0 20v17m0 16v4M2768 1346v1m0 27v7m0 49v11m0 24v0m0 24v42m0 44v40m0 20v22m0 26v1m0 14v62m0 14v30m0 31v38m0 25v11m0 22v0m0 21v0M2772 1410v0m0 35v0m0 35v0m0 33v25m0 31v26m0 18v0m0 37v200m0 18v52m0 23v0m0 22v17M2776 1487v0m0 32v0m0 32v2m0 32v0m0 20v3m0 16v52m0 13v0m0 20v14m0 15v50m0 13v6m0 14v16m0 13v0m0 16v21m0 24v7m0 14v8M2780 1461v0m0 49v0m0 26v0m0 13v0m0 13v16m0 17v0m0 20v5m0 15v4m0 18v0m0 38v22m0 17v37m0 18v101m0 14v12m0 17v0m0 35v0M2784 1406v0m0 47v0m0 89v0m0 23v6m0 36v23m0 34v1m0 14v0m0 14v96m0 19v127M2788 1558v19m0 16v20m0 46v9m0 14v9m0 24v47m0 16v111m0 13v26m0 16v9M2792 1637v0m0 18v171m0 15v43m0 46v0M2796 1342v0m0 234v0m0 34v5m0 31v50m0 13v128m0 16v0m0 42v22M2800 1514v0m0 73v0m0 29v6m0 60v167m0 17v0m0 15v11m0 22v0m0 24v3M2804 1644v4m0 17v3m0 19v20m0 17v12m0 18v148m0 51v0M2808 1586v0m0 18v0m0 21v0m0 13v3m0 17v0m0 18v62m0 15v49m0 13v72m0 40v0M2812 1629v4m0 23v2m0 21v4m0 14v13m0 15v162m0 16v0m0 15v0m0 20v15m0 14v0M2816 1485v1m0 37v7m0 126v11m0 23v36m0 15v92m0 16v102m0 19v0M2820 1515v1m0 46v0m0 14v3m0 23v0m0 15v8m0 20v154m0 23v21m0 27v1m0 17v42m0 27v0M2824 1535v24m0 64v14m0 25v107m0 13v4m0 19v37m0 18v4m0 15v15m0 32v12M2828 1452v0m0 41v0m0 34v0m0 26v10m0 21v40m0 28v2m0 15v19m0 16v18m0 13v114m0 13v4m0 27v0M2832 1455v0m0 69v5m0 17v0m0 20v0m0 19v11m0 15v24m0 47v42m0 13v83m0 16v6m0 26v0m0 17v0m0 20v0M2836 1331v0m0 67v12m0 33v0m0 13v0m0 58v7m0 51v7m0 32v0m0 22v27m0 14v0m0 15v15m0 17v4m0 17v131M2840 1392v0m0 92v16m0 34v0m0 46v16m0 19v33m0 20v10m0 27v123m0 15v6M2844 1483v11m0 24v9m0 33v12m0 14v15m0 19v15m0 24v31m0 18v94m0 22v0M2848 1359v0m0 14v0m0 17v12m0 18v30m0 14v0m0 29v4m0 26v71m0 13v6m0 19v10m0 13v50m0 14v18m0 16v0m0 18v0m0 31v1M2852 1304v0m0 75v0m0 39v0m0 25v84m0 16v123m0 14v0m0 15v25M2856 1248v0m0 33v2m0 44v10m0 15v0m0 13v0m0 16v7m0 20v2m0 21v33m0 13v0m0 16v15m0 16v34m0 13v24m0 13v9m0 15v35m0 30v10m0 19v3m0 28v0m0 18v31M2860 1236v20m0 32v0m0 14v0m0 13v93m0 16v37m0 13v23m0 25v32m0 19v11m0 13v9m0 14v0m0 51v0m0 41v0m0 28v6M2864 1119v0m0 17v6m0 30v7m0 40v4m0 13v10m0 14v74m0 14v12m0 15v14m0 17v43m0 22v12m0 21v14m0 14v6m0 18v0m0 31v0M2868 969v0m0 49v0m0 21v9m0 20v7m0 31v42m0 13v105m0 26v9m0 13v6m0 19v67m0 33v0m0 15v0m0 30v0m0 27v0m0 31v0m0 16v0M2872 883v9m0 31v0m0 25v0m0 45v35m0 21v24m0 14v5m0 15v164m0 20v0m0 27v0m0 29v31m0 65v0m0 88v0M2876 916v0m0 18v2m0 18v21m0 13v55m0 18v77m0 25v14m0 22v19m0 28v0m0 15v1m0 50v4m0 25v10M2880 783v28m0 13v6m0 13v0m0 13v6m0 16v6m0 24v3m0 18v106m0 22v37m0 17v7m0 16v20m0 55v18m0 31v0m0 44v0M2884 739v0m0 18v9m0 28v135m0 14v19m0 16v87m0 22v9m0 14v24m0 40v0m0 23v0M2888 709v0m0 40v2m0 23v0m0 28v1m0 20v10m0 17v87m0 14v30m0 15v14m0 13v7m0 13v44m0 39v26m0 35v15M2892 772v25m0 16v98m0 27v31m0 19v0m0 13v17m0 13v0m0 15v15m0 13v0m0 25v26m0 214v5m0 24v0M2896 708v0m0 19v9m0 24v12m0 17v73m0 30v14m0 13v40m0 14v12m0 13v16m0 15v0m0 19v0m0 24v0m0 18v0m0 22v0m0 48v6m0 17v0m0 121v0M2900 725v28m0 19v89m0 13v31m0 16v18m0 28v17m0 18v13m0 14v2m0 53v0m0 19v2m0 25v12m0 19v9m0 16v8m0 66v0m0 87v0M2904 807v12m0 13v0m0 16v1m0 18v25m0 13v95m0 18v3m0 22v29m0 15v8m0 16v38m0 13v0m0 18v0m0 44v0m0 68v0M2908 835v54m0 16v49m0 13v15m0 14v2m0 37v43m0 13v0m0 22v6m0 13v0m0 30v48m0 15v0m0 22v0m0 31v0m0 56v11M2912 803v0m0 84v9m0 36v0m0 16v61m0 17v56m0 17v36m0 15v25m0 14v0m0 13v19m0 31v12m0 14v0m0 20v5m0 18v0m0 34v0m0 27v7M2916 790v36m0 45v0m0 19v7m0 18v30m0 19v0m0 27v12m0 19v0m0 24v37m0 19v1m0 14v17m0 15v23m0 25v93m0 13v8m0 73v0m0 19v1m0 23v1m0 37v0M2920 831v0m0 27v0m0 76v1m0 23v0m0 14v39m0 15v0m0 15v0m0 13v0m0 19v28m0 22v15m0 16v2m0 14v65m0 20v33m0 14v0m0 15v0m0 67v8m0 20v0m0 13v0m0 16v0M2924 912v0m0 36v31m0 14v0m0 27v40m0 23v58m0 13v109m0 15v4m0 24v7m0 19v1m0 18v0m0 14v0m0 44v0m0 14v2M2928 728v0m0 221v1m0 19v28m0 16v71m0 19v14m0 30v8m0 13v27m0 32v0m0 20v0m0 26v11m0 21v6m0 13v22m0 42v0m0 21v0m0 16v0M2932 949v0m0 28v10m0 18v88m0 16v26m0 19v29m0 20v22m0 13v56m0 20v20m0 23v0m0 35v0m0 37v0m0 86v0M2936 785v0m0 75v0m0 124v68m0 22v5m0 14v67m0 15v73m0 23v2m0 18v4m0 15v14m0 20v10m0 16v0m0 144v0M2940 1030v0m0 48v0m0 16v0m0 33v30m0 23v3m0 14v96m0 16v48m0 14v0m0 16v0m0 33v10m0 14v5m0 28v10m0 57v0m0 23v0M2944 1130v0m0 53v0m0 26v5m0 33v1m0 13v9m0 16v17m0 13v107m0 15v29m0 52v0M2948 1115v0m0 48v0m0 16v4m0 13v4m0 13v0m0 29v0m0 20v138m0 32v0m0 16v31m0 28v14m0 86v0M2952 1163v0m0 32v2m0 13v0m0 13v0m0 31v31m0 31v31m0 13v91m0 28v50m0 15v10m0 62v6m0 32v0M2956 967v0m0 30v0m0 20v0m0 32v0m0 39v12m0 54v11m0 14v2m0 19v27m0 38v17m0 24v8m0 18v19m0 15v8m0 27v80m0 16v0m0 13v21m0 15v19m0 24v2m0 16v0m0 37v0m0 34v0m0 39v0M2960 1120v1m0 25v21m0 24v7m0 18v10m0 15v0m0 22v0m0 14v0m0 17v76m0 27v58m0 22v10m0 31v22m0 27v0m0 13v0m0 21v27M2964 1055v0m0 73v17m0 50v28m0 13v0m0 13v82m0 23v19m0 14v55m0 17v20m0 14v0m0 30v0m0 27v16m0 29v0m0 22v0M2968 986v29m0 60v0m0 18v4m0 37v0m0 21v21m0 16v123m0 17v48m0 14v0m0 21v16m0 26v6M2972 1027v8m0 22v27m0 13v3m0 29v93m0 21v12m0 25v22m0 23v0m0 27v3m0 18v0m0 17v27m0 44v0m0 75v7m0 26v12M2976 1003v0m0 21v0m0 31v0m0 21v0m0 33v0m0 25v120m0 20v35m0 17v3m0 17v19m0 20v0m0 19v0m0 62v0m0 23v0m0 15v0m0 20v11m0 17v0M2980 920v0m0 58v3m0 35v3m0 18v11m0 18v27m0 31v100m0 16v9m0 20v10m0 19v12m0 14v27m0 15v0m0 13v9m0 18v0M2984 948v0m0 70v0m0 28v5m0 20v11m0 23v13m0 19v100m0 14v34m0 15v0m0 20v0m0 15v10m0 24v12m0 23v2m0 13v0m0 34v0M2988 906v0m0 41v0m0 17v0m0 20v41m0 30v31m0 19v5m0 15v17m0 16v2m0 14v8m0 14v93m0 17v25m0 15v3m0 49v0M2992 715v0m0 14v3m0 81v0m0 25v9m0 38v0m0 18v0m0 26v2m0 14v0m0 37v8m0 24v0m0 13v0m0 16v0m0 20v20m0 13v7m0 14v8m0 18v85m0 14v30m0 17v51m0 103v0M2996 561v0m0 151v10m0 41v0m0 18v0m0 22v0m0 16v0m0 101v0m0 31v12m0 17v14m0 30v29m0 19v0m0 14v12m0 29v130m0 13v0m0 19v33m0 14v4m0 23v0M3000 887v67m0 19v0m0 18v0m0 14v16m0 22v12m0 22v0m0 16v66m0 18v17m0 14v26m0 26v13m0 20v17m0 25v0m0 34v0m0 31v0M3004 242v0m0 57v0m0 94v0m0 23v0m0 216v0m0 66v2m0 43v0m0 35v6m0 14v11m0 28v9m0 30v8m0 18v3m0 18v1m0 21v41m0 17v0m0 20v36m0 21v5m0 13v12m0 21v73m0 19v0M3008 611v20m0 14v0m0 29v15m0 14v44m0 22v11m0 23v10m0 15v0m0 21v0m0 18v16m0 23v14m0 17v38m0 14v0m0 14v13m0 18v10m0 23v1m0 17v18m0 17v0m0 26v30m0 43v2m0 29v0m0 18v0m0 20v0m0 33v5m0 103v0M3012 593v0m0 31v10m0 66v0m0 30v0m0 33v9m0 21v5m0 13v0m0 13v5m0 31v4m0 37v0m0 25v10m0 27v85m0 22v39m0 18v31m0 15v0m0 23v0m0 17v0m0 27v30m0 34v0m0 47v0M3016 559v0m0 151v0m0 48v6m0 30v0m0 32v18m0 17v72m0 18v49m0 29v27m0 34v52m0 43v8m0 50v0m0 16v0m0 43v0m0 48v0M3020 438v0m0 195v0m0 41v0m0 16v0m0 23v0m0 35v27m0 15v0m0 31v15m0 21v6m0 25v0m0 16v22m0 20v99m0 15v11m0 17v15m0 13v16m0 27v5m0 26v0m0 13v22m0 26v21M3024 583v0m0 39v7m0 51v5m0 33v1m0 29v0m0 40v47m0 28v25m0 18v8m0 13v5m0 27v49m0 13v1m0 19v30m0 13v21m0 14v31m0 15v6m0 46v41m0 26v0M3028 636v12m0 69v0m0 68v1m0 14v26m0 34v0m0 28v30m0 17v4m0 16v11m0 19v31m0 19v36m0 13v74m0 13v37m0 26v0m0 14v0m0 16v0m0 18v0m0 35v0m0 14v0M3032 660v0m0 76v0m0 76v0m0 26v67m0 20v87m0 22v23m0 13v85m0 14v8m0 17v0M3036 699v21m0 13v6m0 15v89m0 15v3m0 30v17m0 13v8m0 25v53m0 21v3m0 23v9m0 13v46m0 24v0m0 14v0m0 15v0m0 21v0m0 77v0M3040 704v0m0 37v13m0 14v11m0 26v92m0 22v15m0 16v7m0 14v0m0 28v32m0 14v9m0 31v12m0 26v0m0 58v0M3044 693v87m0 13v121m0 14v15m0 27v0m0 23v0m0 19v0m0 42v0m0 34v0m0 48v10M3048 671v0m0 19v90m0 27v69m0 15v11m0 23v11m0 55v0m0 27v0M3052 694v0m0 15v102m0 23v50m0 28v43m0 25v17m0 25v4m0 14v6M3056 682v21m0 14v150m0 20v48M3060 739v152m0 31v5m0 16v8m0 58v0M3064 738v22m0 22v12m0 15v133m0 25v3m0 20v0m0 28v3M3068 744v0m0 52v7m0 24v140m0 18v12m0 18v6M3072 743v20m0 37v41m0 22v81m0 13v54m0 16v0M3076 834v32m0 17v19m0 15v110m0 13v15M3080 798v0m0 27v0m0 25v210M3084 834v3m0 16v0m0 18v0m0 22v0m0 22v168M3088 744v20m0 22v37m0 29v13m0 18v93m0 23v82M3092 759v11m0 24v23m0 14v1m0 36v84m0 26v0m0 13v76M3096 707v0m0 36v8m0 14v0m0 46v0m0 14v208m0 14v17M3100 696v6m0 13v3m0 33v0m0 13v9m0 13v6m0 15v64m0 18v117M3104 680v0m0 42v8m0 14v9m0 16v94m0 14v74m0 18v15m0 27v0M3108 663v0m0 39v48m0 32v29m0 16v11m0 14v13m0 14v103m0 20v0m0 89v5M3112 679v0m0 25v0m0 36v1m0 36v30m0 20v7m0 21v64m0 13v73m0 28v0M3116 680v0m0 73v9m0 31v0m0 54v24m0 21v9m0 17v29m0 17v99M3120 767v0m0 64v0m0 21v0m0 19v4m0 58v35m0 14v92M3124 721v0m0 26v4m0 43v0m0 32v0m0 35v6m0 30v86m0 13v7m0 17v46M3128 756v0m0 28v6m0 48v0m0 29v47m0 14v24m0 13v95M3132 756v2m0 15v0m0 17v0m0 29v0m0 31v8m0 14v86m0 15v81M3136 703v28m0 18v0m0 16v36m0 17v0m0 20v40m0 21v143M3140 579v0m0 74v0m0 100v0m0 51v0m0 34v15m0 13v7m0 17v142m0 28v0m0 32v0M3144 723v0m0 28v28m0 24v40m0 22v7m0 15v0m0 25v134M3148 660v0m0 26v0m0 21v2m0 17v0m0 26v0m0 29v0m0 18v10m0 14v21m0 31v159m0 43v0M3152 635v0m0 45v0m0 30v0m0 18v0m0 19v10m0 19v22m0 37v39m0 13v125m0 20v8m0 17v7M3156 801v59m0 15v111m0 16v0m0 80v12M3160 736v0m0 34v0m0 18v17m0 26v4m0 18v16m0 13v24m0 13v11m0 23v61m0 15v3m0 21v0m0 28v0M3164 746v0m0 32v3m0 25v123m0 19v141M3168 761v3m0 15v0m0 14v29m0 16v23m0 19v0m0 15v22m0 18v8m0 14v18m0 13v95M3172 848v0m0 14v0m0 17v10m0 20v16m0 20v0m0 21v10m0 15v125M3176 798v6m0 13v0m0 75v10m0 15v117m0 22v74M3180 811v0m0 68v0m0 14v4m0 16v20m0 34v14m0 21v149M3184 854v5m0 40v0m0 34v9m0 14v11m0 13v165m0 14v3m0 13v3M3188 828v22m0 32v0m0 13v84m0 14v116m0 20v12M3192 795v1m0 77v50m0 18v19m0 18v92m0 14v8m0 19v0M3196 715v0m0 61v0m0 27v13m0 28v1m0 20v7m0 15v161m0 15v49m0 13v0m0 44v0M3200 810v0m0 13v44m0 15v38m0 19v28m0 18v21m0 16v0m0 13v0m0 17v124m0 17v4M3204 744v0m0 51v0m0 15v0m0 24v0m0 15v0m0 15v0m0 58v4m0 14v0m0 27v25m0 17v34m0 14v5m0 13v11m0 13v50m0 18v39M3208 893v0m0 95v33m0 14v147m0 32v0M3212 745v0m0 41v0m0 24v0m0 16v0m0 29v0m0 13v0m0 18v94m0 16v40m0 17v56m0 14v3m0 14v0m0 20v14m0 13v0M3216 589v0m0 127v1m0 28v0m0 15v20m0 13v15m0 33v20m0 14v9m0 29v0m0 19v110m0 13v32m0 17v7m0 44v7m0 36v0M3220 675v1m0 28v0m0 68v0m0 38v9m0 17v5m0 16v0m0 20v1m0 21v47m0 19v8m0 18v83m0 22v8m0 14v0m0 29v0m0 30v0m0 92v1M3224 774v7m0 13v14m0 15v53m0 16v26m0 15v95m0 16v14m0 13v11m0 13v0m0 98v16m0 32v0M3228 655v0m0 23v0m0 13v0m0 21v30m0 14v63m0 15v111m0 13v0m0 15v34m0 15v6m0 34v8M3232 672v0m0 25v1m0 22v12m0 28v0m0 14v59m0 15v46m0 15v4m0 19v4m0 16v5m0 23v28m0 16v29m0 32v0m0 18v2M3236 684v0m0 156v0m0 18v16m0 15v3m0 15v31m0 17v0m0 19v51m0 18v14m0 14v9m0 16v32m0 19v64m0 18v0M3240 893v9m0 36v4m0 21v0m0 20v23m0 26v0m0 25v0m0 19v0m0 30v72m0 16v44M3244 897v0m0 39v0m0 18v0m0 38v0m0 41v5m0 23v8m0 15v12m0 23v112M3248 904v10m0 40v4m0 24v0m0 33v6m0 16v14m0 14v54m0 15v79m0 16v18M3252 871v0m0 81v30m0 26v169M3256 722v0m0 78v0m0 30v0m0 103v11m0 22v0m0 15v18m0 16v33m0 17v99m0 14v11M3260 959v1m0 28v0m0 17v0m0 16v34m0 15v9m0 14v109M3264 940v0m0 77v11m0 15v8m0 18v0m0 14v114M3268 952v0m0 28v10m0 13v3m0 14v148M3272 927v0m0 46v8m0 42v146m0 13v0M3276 894v27m0 21v6m0 14v11m0 51v160M3280 863v6m0 47v0m0 25v0m0 13v0m0 22v10m0 17v5m0 32v15m0 19v90m0 17v0M3284 748v0m0 65v0m0 69v0m0 32v3m0 18v3m0 20v160m0 13v37M3288 705v5m0 25v0m0 38v53m0 22v3m0 18v13m0 13v7m0 21v104m0 13v33m0 18v30m0 26v12M3292 629v0m0 55v0m0 14v0m0 38v0m0 16v16m0 14v0m0 25v9m0 16v0m0 19v46m0 18v8m0 32v132m0 13v18M3296 600v32m0 16v11m0 83v2m0 14v27m0 30v12m0 28v39m0 13v11m0 13v92m0 31v16m0 14v0m0 32v0m0 18v0M3300 619v15m0 16v0m0 28v23m0 19v15m0 16v5m0 22v0m0 23v17m0 16v0m0 18v156m0 22v0m0 18v0m0 14v0m0 13v5m0 18v0M3304 562v12m0 13v17m0 44v26m0 19v0m0 32v0m0 38v0m0 17v65m0 13v39m0 13v7m0 13v116m0 23v0m0 21v0M3308 584v5m0 19v9m0 70v0m0 26v20m0 22v44m0 21v0m0 38v9m0 22v101m0 16v27m0 25v10m0 44v0M3312 579v0m0 43v0m0 13v4m0 28v2m0 14v53m0 19v89m0 17v0m0 14v34m0 16v0m0 17v12m0 24v11m0 23v0M3316 561v1m0 29v5m0 18v0m0 16v1m0 13v0m0 22v122m0 13v55m0 13v0m0 16v57m0 24v17m0 20v13M3320 542v0m0 38v16m0 19v2m0 15v162m0 15v15m0 16v10m0 13v9m0 17v0m0 16v0M3324 547v0m0 13v32m0 20v0m0 24v98m0 25v7m0 25v2m0 17v57m0 15v0m0 16v0m0 25v0m0 36v0M3328 574v7m0 13v0m0 23v0m0 18v17m0 14v20m0 25v69m0 15v25m0 17v40m0 23v46m0 14v4M3332 574v8m0 15v0m0 31v38m0 17v33m0 14v124m0 13v7m0 14v17m0 29v17m0 23v0m0 23v0m0 34v1M3336 570v12m0 26v0m0 20v0m0 13v0m0 16v4m0 14v0m0 31v13m0 15v17m0 14v15m0 21v184m0 20v11m0 19v1M3340 625v12m0 15v1m0 49v0m0 13v39m0 19v1m0 45v9m0 17v0m0 16v131m0 20v26M3344 748v0m0 19v0m0 32v45m0 16v135m0 19v7m0 14v26m0 53v0m0 16v0M3348 774v2m0 27v0m0 17v0m0 13v19m0 16v0m0 16v9m0 13v0m0 15v112m0 16v14m0 33v7m0 28v0M3352 739v0m0 14v15m0 23v89m0 15v92m0 22v5m0 21v20m0 21v0M3356 768v7m0 20v0m0 14v22m0 16v57m0 15v52m0 22v0m0 13v59M3360 748v0m0 44v0m0 14v15m0 24v73m0 15v28m0 18v63m0 14v1m0 30v0m0 19v7m0 19v0M3364 648v0m0 50v0m0 74v17m0 22v0m0 17v27m0 28v6m0 13v184m0 16v0m0 24v0m0 20v7M3368 773v0m0 15v0m0 49v0m0 37v0m0 13v2m0 16v92m0 14v105m0 32v7M3372 823v0m0 17v0m0 13v29m0 14v94m0 15v47m0 17v13m0 28v0M3376 862v0m0 16v9m0 20v23m0 14v0m0 15v119m0 14v0m0 35v0m0 45v2M3380 865v11m0 22v44m0 19v85m0 16v35m0 32v0m0 69v0m0 45v0M3384 902v0m0 14v26m0 13v0m0 20v0m0 13v123m0 13v7m0 21v0m0 18v8m0 50v0M3388 810v0m0 52v0m0 56v14m0 13v38m0 13v72m0 13v15m0 13v34m0 21v6m0 17v3m0 19v0M3392 888v0m0 13v4m0 30v15m0 24v14m0 16v70m0 13v13m0 13v17m0 32v3m0 33v7M3396 920v8m0 23v147m0 50v3m0 20v3M3400 941v6m0 15v116m0 26v9m0 51v0M3404 980v49m0 20v66m0 16v64m0 21v2m0 15v9M3408 999v34m0 17v0m0 16v170M3412 992v0m0 31v173m0 24v6M3416 816v2m0 58v0m0 15v25m0 15v81m0 14v69m0 28v33m0 18v0M3420 816v0m0 23v4m0 16v15m0 21v0m0 14v157m0 14v11m0 19v0m0 19v20m0 16v9m0 35v0M3424 799v1m0 24v36m0 16v94m0 13v54m0 15v10m0 25v5m0 15v0m0 24v0m0 17v0m0 13v0M3428 750v0m0 28v4m0 18v13m0 16v119m0 13v16m0 13v14m0 16v0m0 13v21m0 13v6m0 28v0m0 48v0m0 22v0M3432 715v7m0 20v55m0 15v72m0 16v13m0 16v15m0 18v1m0 17v22m0 18v25m0 15v0m0 49v0M3436 749v12m0 26v72m0 14v23m0 13v25m0 14v40m0 15v38m0 40v3m0 24v11M3440 751v16m0 26v0m0 14v62m0 16v75m0 13v30m0 24v16m0 29v6m0 30v0m0 36v0M3444 782v0m0 14v0m0 27v7m0 25v131m0 14v5m0 14v2m0 18v0m0 13v23m0 16v0m0 14v9M3448 833v22m0 16v13m0 17v88m0 20v36m0 24v9M3452 820v0m0 20v37m0 14v172m0 28v10m0 37v0M3456 838v0m0 23v122m0 19v52m0 23v12m0 25v0M3460 896v0m0 14v105m0 13v46m0 15v11m0 21v0m0 13v5m0 25v0M3464 915v141m0 31v0m0 54v0m0 49v0M3468 856v19m0 27v5m0 14v129m0 16v7m0 13v8m0 22v9m0 18v0m0 127v0m0 49v0M3472 942v184m0 79v10m0 38v3m0 15v9M3476 971v6m0 22v5m0 29v172m0 18v15m0 35v0m0 16v0m0 36v0M3480 995v17m0 24v1m0 20v7m0 14v0m0 15v115m0 15v48m0 14v0M3484 1077v30m0 26v93m0 17v74M3488 1058v8m0 26v9m0 25v33m0 15v148M3492 1099v4m0 56v3m0 42v133M3496 1082v0m0 34v2m0 37v0m0 24v133m0 16v4M3500 1040v0m0 43v0m0 19v142m0 16v41M3504 1059v0m0 30v8m0 16v31m0 14v134M3508 1032v18m0 32v170m0 15v16M3512 1015v4m0 24v13m0 14v148M3516 1022v169m0 16v40M3520 1041v130m0 45v0m0 13v0M3524 993v0m0 32v19m0 20v160M3528 850v0m0 22v0m0 113v13m0 15v166m0 19v12M3532 1009v133m0 19v0M3536 928v121m0 13v22m0 38v11M3540 903v157m0 30v0M3544 897v2m0 29v127m0 17v39m0 26v5M3548 830v0m0 68v28m0 13v114m0 39v0m0 23v14M3552 892v12m0 14v86m0 14v15m0 13v63m0 21v0m0 33v1M3556 899v11m0 13v82m0 16v63m0 14v2m0 116v0M3560 861v28m0 14v66m0 18v2m0 19v0m0 21v56m0 14v0m0 14v11m0 16v15m0 13v26M3564 859v146m0 17v69m0 69v10M3568 859v13m0 15v0m0 38v90m0 20v40m0 39v35m0 22v0m0 36v0m0 26v0M3572 813v0m0 37v8m0 24v25m0 22v89m0 14v22m0 19v38m0 14v24m0 27v0m0 40v0m0 15v23M3576 867v20m0 31v0m0 41v0m0 30v172m0 19v11m0 18v0M3580 881v12m0 13v0m0 15v2m0 16v2m0 15v214m0 13v0m0 14v0M3584 858v10m0 15v15m0 19v91m0 13v36m0 19v51m0 19v51M3588 881v113m0 13v14m0 13v0m0 14v2m0 27v26m0 33v10m0 60v12M3592 873v6m0 32v18m0 15v44m0 14v123m0 15v3m0 15v6m0 15v9m0 22v0m0 34v0M3596 897v6m0 29v0m0 16v0m0 13v147m0 26v8m0 14v1m0 27v0m0 57v0m0 50v3M3600 909v0m0 16v11m0 20v160m0 37v3m0 20v0m0 73v0M3604 862v0m0 81v0m0 13v165m0 29v7m0 29v0m0 15v7M3608 924v5m0 34v147m0 26v14m0 60v0M3612 968v166m0 36v0M3616 991v2m0 33v150m0 15v16m0 18v4m0 41v0M3620 930v0m0 33v0m0 27v0m0 23v8m0 23v0m0 20v4m0 13v48m0 14v81m0 15v0m0 26v4M3624 998v0m0 17v46m0 13v130m0 18v14m0 31v0M3628 1020v209m0 20v0M3632 1010v0m0 13v87m0 13v90m0 17v0m0 13v19M3636 1024v0m0 18v133m0 24v0m0 13v0m0 15v0M3640 992v0m0 78v0m0 16v94m0 14v4m0 18v0m0 27v0M3644 921v0m0 37v0m0 32v0m0 33v0m0 29v105m0 16v22m0 17v16m0 19v0M3648 1006v0m0 25v145m0 26v5m0 14v0m0 30v16m0 38v0M3652 981v7m0 36v0m0 13v178m0 48v0M3656 986v33m0 16v129m0 19v10M3660 989v196m0 64v0M3664 982v177m0 34v0m0 50v17m0 45v0M3668 962v20m0 13v14m0 13v142m0 24v14m0 19v0M3672 947v0m0 16v0m0 14v169m0 16v0m0 14v0m0 13v0M3676 952v13m0 17v118m0 13v49m0 17v0m0 29v4m0 49v1M3680 943v0m0 19v170m0 16v6m0 26v0m0 58v43M3684 994v11m0 14v225M3688 894v0m0 98v8m0 13v104m0 13v75m0 30v4M3692 966v152m0 15v24m0 23v4m0 23v0m0 32v0M3696 944v98m0 15v95m0 16v13m0 16v0m0 22v0M3700 976v0m0 13v146m0 14v27m0 16v0m0 15v0m0 16v0M3704 982v0m0 14v1m0 20v0m0 16v154m0 20v14m0 13v0M3708 998v26m0 17v0m0 14v147m0 14v19m0 39v0M3712 952v2m0 20v0m0 16v0m0 17v142m0 16v33m0 18v0m0 16v0M3716 942v0m0 18v197m0 42v1M3720 920v8m0 14v146m0 14v61m0 33v0M3724 899v110m0 24v130m0 30v6m0 16v3M3728 934v16m0 15v90m0 15v36m0 23v52m0 24v1M3732 950v13m0 14v145m0 13v0m0 15v11m0 25v26m0 28v0M3736 990v0m0 14v162m0 23v6m0 18v0m0 23v22m0 19v0m0 16v0M3740 1012v0m0 33v166m0 30v0M3744 1057v2m0 22v141m0 18v3M3748 1059v9m0 15v19m0 13v50m0 13v55m0 15v2M3752 963v0m0 31v0m0 66v121m0 22v0m0 13v0m0 16v0m0 26v0M3756 987v0m0 40v0m0 15v131m0 14v11m0 28v6m0 19v0M3760 1002v0m0 14v1m0 18v0m0 20v130m0 16v0m0 24v1m0 28v0M3764 1008v138m0 32v12m0 69v0M3768 1012v162m0 27v0M3772 1021v129m0 13v22M3776 949v1m0 79v21m0 15v165m0 15v2m0 20v10M3780 1075v137m0 13v18m0 14v0m0 13v0m0 29v0M3784 1019v0m0 13v0m0 25v151M3788 1019v0m0 18v159m0 20v10m0 43v8M3792 1006v0m0 33v0m0 35v123m0 14v21m0 26v0m0 15v4M3796 981v0m0 52v0m0 98v0m0 21v138M3800 992v0m0 51v0m0 13v1m0 26v17m0 27v59m0 18v66m0 13v5M3804 962v0m0 36v12m0 13v12m0 18v7m0 14v0m0 19v5m0 16v136m0 13v10m0 44v0M3808 962v0m0 62v4m0 22v26m0 14v160m0 99v0M3812 1021v0m0 17v3m0 29v0m0 18v15m0 16v131m0 22v0m0 15v10M3816 1034v36m0 14v0m0 13v21m0 14v117M3820 1034v0m0 27v7m0 13v11m0 19v5m0 19v115m0 15v7m0 18v0m0 47v0m0 48v0M3824 1050v0m0 32v11m0 18v102m0 13v50m0 75v0m0 26v0m0 209v0m0 43v0M3828 1004v4m0 18v20m0 14v39m0 17v29m0 16v37m0 13v55m0 27v7M3832 872v0m0 48v8m0 27v0m0 43v0m0 16v19m0 21v0m0 20v0m0 26v188M3836 1019v0m0 20v0m0 27v0m0 15v0m0 21v0m0 17v173m0 31v0m0 41v0m0 15v8M3840 1032v0m0 31v10m0 31v12m0 18v140m0 15v0M3844 1094v170m0 15v4m0 13v7m0 19v0M3848 1050v6m0 21v118m0 14v54M3852 1018v0m0 25v0m0 26v1m0 23v0m0 35v166m0 14v8m0 66v0m0 31v4M3856 1014v2m0 30v25m0 16v132m0 18v6m0 13v13m0 13v0m0 17v0m0 31v4M3860 1012v0m0 15v0m0 16v177m0 16v9m0 48v0m0 15v7m0 39v10m0 22v3m0 19v0M3864 1013v0m0 32v118m0 14v118M3868 944v0m0 15v0m0 44v0m0 16v40m0 14v156m0 19v2m0 14v0M3872 975v0m0 33v3m0 26v0m0 22v0m0 14v33m0 13v7m0 15v18m0 14v95m0 32v0m0 53v0M3876 1010v26m0 28v26m0 25v30m0 14v0m0 14v150m0 57v0M3880 1028v0m0 64v138m0 17v50m0 31v0m0 119v0M3884 1077v0m0 17v0m0 14v0m0 22v23m0 13v96m0 15v3m0 16v13m0 76v0M3888 1092v0m0 30v175m0 26v0m0 29v20m0 31v0M3892 1138v144m0 25v19m0 38v0m0 44v0M3896 1125v140m0 14v0M3900 1005v9m0 24v14m0 54v118m0 13v0m0 19v17m0 67v20M3904 1001v0m0 17v16m0 17v1m0 54v0m0 14v99m0 21v0m0 59v0m0 53v0m0 34v0M3908 986v0m0 44v0m0 57v0m0 16v139m0 20v0m0 20v23m0 40v0m0 15v0M3912 974v0m0 43v14m0 102v121m0 15v8m0 32v0m0 48v0m0 26v9M3916 1152v126m0 13v1m0 55v1m0 63v0M3920 1014v0m0 35v0m0 65v0m0 28v24m0 13v114m0 15v0m0 96v0M3924 1026v0m0 34v0m0 93v141M3928 997v0m0 45v22m0 65v0m0 14v123m0 16v0m0 54v0M3932 1098v0m0 21v147m0 95v0m0 13v0M3936 1126v132m0 49v0m0 79v0m0 24v8M3940 999v0m0 169v0m0 18v101m0 143v0M3944 1014v0m0 15v7m0 18v0m0 30v0m0 44v0m0 47v98m0 15v0m0 23v0m0 81v25m0 17v0M3948 898v2m0 193v0m0 92v103m0 59v27m0 25v5m0 25v3M3952 1023v0m0 18v0m0 13v0m0 33v13m0 71v98m0 19v0m0 48v0m0 41v16m0 49v0M3956 1008v8m0 35v0m0 46v15m0 18v6m0 30v95m0 14v10m0 15v2m0 19v72m0 18v12m0 113v0m0 52v0M3960 1015v0m0 49v8m0 16v9m0 45v1m0 20v100m0 14v7m0 37v9m0 32v7m0 80v0M3964 1141v18m0 14v96m0 27v3m0 61v11M3968 1007v0m0 36v5m0 38v0m0 22v0m0 22v0m0 32v0m0 20v114M3972 1040v2m0 52v0m0 38v0m0 33v120m0 93v20m0 14v0m0 86v0M3976 1122v35m0 21v107m0 16v0m0 35v0m0 20v0m0 62v0m0 97v0M3980 1113v13m0 19v114m0 145v13m0 33v0m0 58v0M3984 1124v1m0 15v0m0 14v116m0 15v0m0 20v0m0 18v0m0 46v0m0 21v8M3988 985v0m0 72v0m0 19v160m0 24v0m0 17v0m0 117v0m0 40v0m0 16v0M3992 668v0m0 436v0m0 19v112m0 87v0m0 41v0m0 44v0M3996 870v0m0 84v0m0 79v0m0 30v0m0 52v126m0 20v12m0 28v5M4000 1017v6m0 24v0m0 45v0m0 86v112m0 13v0m0 73v0m0 23v0M4004 850v0m0 109v0m0 80v6m0 18v0m0 22v8m0 19v0m0 41v6m0 16v147m0 71v0m0 26v0m0 89v0M4008 954v0m0 167v0m0 23v0m0 22v141M4012 1174v133M4016 1093v19m0 31v15m0 14v116m0 300v0M4020 1005v0m0 33v0m0 62v0m0 25v130m0 49v11M4024 884v0m0 102v0m0 106v11m0 15v127m0 60v7m0 232v0m0 67v0M4028 897v0m0 95v0m0 56v0m0 24v0m0 31v99m0 14v0m0 115v0m0 31v0M4032 964v0m0 40v0m0 26v2m0 13v14m0 22v108m0 14v10M4036 766v0m0 72v0m0 141v0m0 13v0m0 20v3m0 39v0m0 40v5m0 14v149m0 38v0m0 44v0M4040 1112v0m0 14v161m0 15v49m0 17v0m0 36v0m0 131v0M4044 799v0m0 224v0m0 103v122m0 15v12m0 94v0m0 19v3m0 37v0m0 22v0M4048 1098v148m0 163v1M4052 1079v3m0 19v11m0 16v105m0 91v0M4056 918v0m0 168v15m0 15v93m0 15v0m0 42v0m0 14v0m0 30v0M4060 862v0m0 29v6m0 178v0m0 14v9m0 13v88m0 22v0m0 14v0m0 60v0m0 41v0m0 18v0M4064 945v25m0 69v12m0 26v105m0 34v4m0 67v0M4068 924v0m0 67v0m0 28v12m0 23v11m0 20v87m0 27v0m0 14v0m0 47v0m0 77v0M4072 935v0m0 100v124m0 28v0m0 62v0m0 22v0m0 29v10M4076 939v0m0 37v0m0 28v0m0 39v22m0 20v100m0 139v0m0 34v0M4080 938v25m0 18v0m0 22v0m0 17v0m0 34v0m0 29v142m0 51v0m0 16v21m0 69v0M4084 799v0m0 83v0m0 67v10m0 24v0m0 18v4m0 28v0m0 108v105m0 57v4m0 367v0m0 161v0m0 53v0M4088 927v0m0 33v4m0 23v0m0 59v14m0 15v0m0 14v0m0 43v130M4092 901v0m0 38v22m0 43v0m0 36v0m0 51v0m0 13v126m0 20v0m0 59v0m0 59v0M4096 979v0m0 30v0m0 35v0m0 13v4m0 15v2m0 14v21m0 14v76m0 21v26m0 47v0m0 62v0m0 22v0M4100 1035v0m0 58v8m0 20v153m0 53v0M4104 1160v0m0 21v133m0 50v0m0 35v3M4108 1035v0m0 21v0m0 103v0m0 18v37m0 14v94m0 14v0m0 17v0m0 14v14m0 109v0M4112 780v0m0 223v11m0 19v3m0 24v0m0 43v8m0 16v158m0 15v2m0 45v0m0 59v9M4116 996v0m0 103v7m0 18v125m0 52v21m0 13v0m0 136v0M4120 1012v0m0 16v0m0 14v0m0 58v0m0 14v136m0 31v0m0 20v2m0 19v0m0 45v0m0 32v1m0 56v0m0 38v0M4124 978v0m0 59v0m0 60v150m0 34v0m0 22v10m0 40v0m0 22v7M4128 948v0m0 40v0m0 52v0m0 16v0m0 59v0m0 26v113m0 21v2m0 29v0m0 18v0m0 23v13m0 29v0m0 171v0M4132 989v0m0 78v0m0 14v21m0 17v0m0 16v0m0 14v101m0 23v20m0 84v0m0 13v0M4136 1004v0m0 63v0m0 52v124m0 25v3M4140 1005v0m0 24v0m0 102v148m0 51v0M4144 1140v127m0 36v12m0 13v8m0 18v51m0 15v14m0 20v0M4148 977v0m0 15v0m0 75v13m0 41v0m0 28v0m0 15v118m0 15v13m0 67v5m0 15v0m0 29v8M4152 1003v24m0 38v2m0 29v0m0 18v0m0 34v1m0 22v0m0 18v28m0 14v88m0 35v0m0 38v0m0 56v0m0 37v0M4156 1145v0m0 19v0m0 38v0m0 17v96m0 55v4m0 63v17m0 80v0m0 86v0M4160 1156v8m0 35v30m0 14v58m0 13v6m0 46v0m0 118v0m0 63v0m0 36v0M4164 1135v0m0 15v7m0 13v116m0 80v1m0 58v0m0 85v0m0 13v0M4168 1033v0m0 70v0m0 14v22m0 13v116m0 16v3m0 21v0m0 18v0m0 105v0m0 84v0M4172 1046v0m0 82v0m0 15v115m0 21v0m0 19v0m0 25v0m0 29v0m0 16v0m0 13v0m0 22v0m0 17v0M4176 1015v2m0 74v0m0 41v15m0 14v0m0 13v100m0 67v9M4180 992v0m0 22v5m0 135v0m0 23v72m0 19v15m0 23v0m0 19v0m0 51v0m0 49v4m0 75v0m0 73v0M4184 1151v86m0 17v25m0 50v0m0 17v0m0 18v11m0 31v0m0 32v0m0 39v0M4188 938v0m0 216v0m0 16v131m0 25v0m0 36v14m0 52v0M4192 1003v12m0 19v0m0 25v0m0 13v7m0 45v12m0 24v99M4196 1012v0m0 37v0m0 18v0m0 49v160m0 110v0M4200 1123v16m0 14v106m0 28v0m0 53v0m0 18v0M4204 1022v0m0 13v11m0 33v0m0 81v102m0 25v12m0 14v0m0 35v6m0 19v0m0 49v0M4208 1040v1m0 66v0m0 56v0m0 13v90m0 19v2m0 92v0m0 21v0M4212 873v0m0 127v0m0 13v0m0 37v0m0 15v0m0 103v108m0 35v0m0 22v0m0 99v0m0 67v0M4216 1004v0m0 174v100m0 29v0m0 22v0m0 68v0M4220 1159v0m0 14v85m0 17v0m0 26v0m0 30v0M4224 1123v0m0 20v125M4228 1012v0m0 39v0m0 77v116m0 26v0m0 33v16m0 17v0m0 35v22m0 24v0m0 32v3M4232 1089v0m0 17v0m0 26v15m0 15v6m0 13v83m0 43v13m0 33v0m0 24v0m0 41v0M4236 1008v0m0 60v0m0 53v8m0 13v2m0 19v96m0 14v0m0 32v0m0 77v0m0 42v0M4240 967v0m0 34v0m0 56v0m0 44v2m0 34v12m0 14v103m0 14v0m0 120v0M4244 1006v0m0 131v120m0 13v0m0 43v0m0 85v0M4248 1043v0m0 76v118m0 49v0m0 44v0m0 71v0M4252 835v0m0 78v0m0 32v4m0 16v9m0 13v18m0 90v140M4256 908v0m0 52v12m0 20v1m0 16v6m0 60v148m0 73v0m0 80v0m0 212v0M4260 993v0m0 18v0m0 21v0m0 100v112m0 18v27m0 13v11m0 40v4m0 26v0M4264 1164v133m0 48v0m0 27v0m0 14v10m0 265v0m0 112v0m0 59v0m0 98v0M4268 991v0m0 22v7m0 162v2m0 13v118m0 17v5m0 19v0m0 37v2m0 23v0m0 22v0M4272 1045v0m0 51v0m0 59v13m0 14v98m0 17v9m0 17v7m0 30v0m0 33v11m0 28v0M4276 1006v6m0 21v5m0 48v4m0 24v0m0 22v126m0 49v0m0 37v0m0 16v0m0 37v2M4280 904v0m0 42v8m0 31v11m0 20v0m0 109v129m0 15v7m0 77v0m0 44v0M4284 932v0m0 88v11m0 105v9m0 16v119m0 59v0M4288 939v0m0 27v0m0 44v0m0 31v0m0 137v132m0 39v0m0 14v0m0 42v0m0 273v0m0 17v0M4292 813v0m0 153v0m0 160v10m0 14v0m0 22v21m0 17v82m0 15v0m0 20v3m0 17v0M4296 1067v9m0 21v0m0 49v0m0 15v131m0 54v6m0 88v0M4300 861v0m0 99v0m0 143v0m0 35v0m0 14v100m0 13v0m0 13v15m0 47v0m0 17v1m0 15v6m0 534v0m0 40v0M4304 1070v0m0 64v0m0 23v119m0 44v0m0 13v0m0 15v0m0 93v0M4308 968v26m0 159v0m0 18v104m0 51v0m0 45v0M4312 1013v0m0 16v0m0 24v0m0 86v6m0 20v111M4316 1090v26m0 22v8m0 13v148m0 32v2m0 47v0m0 29v0m0 17v0M4320 686v0m0 319v0m0 35v5m0 80v0m0 23v15m0 15v107m0 17v0m0 77v0m0 24v2M4324 1017v0m0 142v0m0 13v127m0 64v6m0 45v11m0 25v10m0 31v0m0 13v0M4328 1073v14m0 74v124m0 13v2m0 45v0m0 46v0M4332 1036v0m0 67v6m0 24v33m0 13v94m0 31v0m0 63v11m0 70v0m0 28v0M4336 1099v0m0 53v109M4340 1167v85M4344 1183v58m0 55v0m0 19v0m0 18v1m0 23v0M4348 1094v0m0 106v48M4352 1197v50m0 100v0M4356 1076v0m0 21v4m0 105v42M4360 1201v41M4364 1101v0m0 105v45m0 86v0m0 21v0m0 15v0M4368 1091v0m0 112v47m0 87v1M4372 1201v49M4376 1084v0m0 14v4m0 30v0m0 23v0m0 49v43m0 86v0M4380 1085v0m0 13v0m0 16v6m0 86v46M4384 1083v0m0 15v0m0 15v6m0 84v49m0 79v0M4388 1206v41m0 87v0m0 39v0M4392 1053v0m0 45v28m0 83v44m0 91v2M4396 1207v42m0 119v0M4400 1121v1m0 85v42m0 122v0M4404 1121v0m0 90v42m0 77v2M4408 1201v51m0 67v0m0 30v11M4412 1090v24m0 21v0m0 66v50m0 94v13M4416 1107v0m0 95v58M4420 1111v8m0 21v5m0 63v0m0 18v46m0 141v0M4424 1112v34m0 65v68M4428 1104v15m0 21v0m0 72v45M4432 889v0m0 67v0m0 106v0m0 136v54M4436 1193v53M4440 1088v0m0 18v0m0 92v58M4444 1204v38m0 69v0m0 22v0m0 46v0M4448 995v0m0 212v45m0 85v0M4452 1200v53m0 76v0m0 16v0M4456 1074v1m0 17v17m0 97v44M4460 1083v0m0 15v11m0 95v38M4464 982v0m0 43v0m0 52v0m0 35v0m0 89v46M4468 1204v32M4472 1207v44M4476 1207v49M4480 1119v0m0 14v0m0 78v43m0 93v0m0 22v8M4484 1096v0m0 112v0m0 13v36M4488 1098v0m0 25v0m0 87v44M4492 958v18m0 18v2m0 16v2m0 27v9m0 161v33m0 113v0M4496 1105v0m0 101v54m0 47v0m0 13v0m0 16v17M4500 1090v30m0 85v43M4504 1092v22m0 86v46m0 118v0M4508 1134v0m0 76v41m0 80v0M4512 1109v0m0 14v0m0 81v44m0 70v0m0 14v0m0 18v0M4516 1093v0m0 16v0m0 97v39M4520 1098v29m0 85v35m0 84v0m0 16v0m0 29v0M4524 1119v0m0 95v34m0 91v6M4528 1208v46m0 80v11M4532 958v10m0 50v9m0 179v42M4536 1103v0m0 90v55m0 62v6m0 15v23M4540 1189v58m0 68v2m0 17v0m0 21v3M4544 929v0m0 264v54m0 41v0m0 14v0m0 28v25M4548 1109v0m0 92v45M4552 1095v0m0 117v39m0 96v25M4556 1208v50m0 119v0M4560 1218v33m0 78v0M4564 1213v39M4568 1209v38M4572 1114v0m0 94v41M4576 1209v45m0 85v8m0 41v18m0 21v0m0 15v0m0 20v0M4580 1110v0m0 99v38m0 85v0m0 18v15M4584 964v0m0 45v0m0 44v0m0 71v0m0 94v39m0 68v49M4588 970v0m0 35v0m0 114v0m0 98v39M4592 1105v0m0 104v46M4596 1090v0m0 126v34M4600 1088v15m0 105v43M4604 1207v34M4608 1203v46m0 76v0m0 14v6M4612 1199v47m0 98v7M4616 908v0m0 176v11m0 102v57m0 82v0M4620 1087v0m0 115v51m0 76v14m0 38v0M4624 1203v35m0 13v4m0 68v18M4628 1206v51M4632 1204v54M4636 1211v46m0 326v0M4640 994v12m0 78v8m0 20v0m0 94v45m0 84v26M4644 1021v0m0 50v0m0 18v0m0 110v55m0 85v2m0 19v0m0 86v0M4648 1203v44M4652 1079v13m0 25v2m0 84v37m0 92v0M4656 1204v40m0 105v8M4660 1205v41m0 75v10m0 14v6M4664 1203v35M4668 1205v42m0 101v0M4672 945v0m0 265v44m0 69v3m0 39v0m0 30v0m0 66v0m0 57v0M4676 1202v53m0 150v0M4680 1205v51m0 91v2M4684 1205v51M4688 1205v48M4692 1119v0m0 92v39m0 81v0M4696 1103v0m0 101v43M4700 1101v0m0 14v2m0 89v44m0 69v23m0 26v0M4704 1116v0m0 22v0m0 67v49m0 85v1M4708 1204v49m0 83v25M4712 1203v43m0 77v11m0 18v0M4716 1203v50m0 95v0M4720 1082v37m0 83v60M4724 1096v6m0 105v63m0 69v21M4728 1128v0m0 70v56m0 73v0m0 29v0M4732 1041v0m0 17v8m0 25v21m0 92v50M4736 1003v0m0 35v0m0 85v0m0 81v50m0 72v0m0 15v17M4740 1083v0m0 117v54m0 61v53M4744 1092v39m0 69v52M4748 1195v57m0 112v0M4752 1121v0m0 94v41m0 93v7m0 18v0M4756 1098v1m0 16v10m0 13v2m0 75v41m0 89v8m0 20v0M4760 1126v7m0 80v44m0 106v0m0 18v11m0 35v0m0 17v0M4764 960v0m0 255v49m0 71v7m0 25v0m0 218v0m0 90v0M4768 1095v39m0 81v46m0 97v7m0 13v0M4772 1113v0m0 14v0m0 73v56m0 105v10M4776 974v0m0 64v0m0 108v0m0 58v53m0 187v0M4780 1204v50M4784 1103v21m0 82v48m0 96v0M4788 1099v36m0 66v52m0 56v6m0 29v17m0 15v2M4792 1093v0m0 119v42m0 61v11m0 13v10m0 29v0M4796 976v0m0 107v0m0 19v7m0 97v56m0 56v0m0 31v2m0 18v0M4800 976v0m0 82v0m0 62v0m0 91v29m0 65v0m0 20v24m0 20v0M4804 1198v55m0 88v7m0 17v3m0 71v0M4808 1198v58M4812 1213v53m0 95v30M4816 1080v0m0 43v0m0 13v9m0 71v41m0 120v0m0 45v0M4820 1202v54m0 68v0M4824 1204v32M4828 1090v0m0 113v40m0 92v0m0 22v0M4832 1112v0m0 34v0m0 72v34m0 88v19m0 16v11M4836 1114v28m0 78v42m0 69v46m0 15v5M4840 1108v5m0 15v13m0 16v0m0 53v0m0 13v39m0 88v0m0 22v0m0 64v0M4844 1215v40m0 84v0m0 85v10M4848 1203v44m0 77v0m0 15v19M4852 1209v40m0 81v0m0 20v13M4856 1133v1m0 75v46M4860 1114v0m0 14v6m0 65v53m0 93v14M4864 1216v43m0 72v0m0 16v9M4868 1206v50m0 89v0m0 30v0M4872 1111v0m0 87v56m0 79v12M4876 1066v13m0 17v9m0 82v73m0 48v0m0 13v17M4880 889v0m0 87v5m0 34v15m0 23v0m0 26v20m0 18v1m0 83v56m0 92v0M4884 1046v0m0 20v52m0 81v54m0 78v0m0 21v0m0 14v0m0 41v26M4888 1208v49m0 83v0M4892 1090v1m0 13v22m0 88v45m0 68v0m0 35v0m0 32v0M4896 1092v22m0 20v0m0 77v47m0 107v0M4900 1203v52m0 78v34m0 18v0M4904 1094v0m0 21v2m0 84v55m0 64v19m0 27v2m0 42v26M4908 1115v13m0 73v47M4912 1097v11m0 17v0m0 81v47m0 162v0M4916 1088v0m0 25v3m0 19v0m0 69v0m0 14v39M4920 1100v1m0 16v4m0 93v43m0 66v66M4924 1083v2m0 20v4m0 15v0m0 24v0m0 45v64m0 80v19m0 14v4m0 33v0m0 35v0M4928 1106v0m0 105v47m0 162v7M4932 1109v0m0 14v12m0 70v45M4936 1001v0m0 100v0m0 118v33m0 101v0M4940 1208v45m0 84v18m0 13v5M4944 1212v34m0 91v4M4948 1202v49m0 60v0m0 23v10m0 14v13M4952 1202v52m0 78v11m0 13v0M4956 1087v2m0 18v21m0 27v4m0 47v49m0 38v0m0 61v1m0 13v1m0 21v24M4960 1083v0m0 17v24m0 16v1m0 13v0m0 48v55m0 49v0m0 27v1m0 19v38m0 14v14m0 49v0M4964 1038v0m0 58v0m0 15v12m0 28v0m0 48v69m0 88v17m0 15v10m0 33v0m0 23v0m0 57v0M4968 1121v0m0 87v68m0 46v4m0 36v0m0 31v0m0 16v0m0 37v7m0 23v0M4972 1098v2m0 36v0m0 58v92m0 71v6m0 45v10m0 21v0M4976 1063v0m0 41v23m0 34v0m0 14v119m0 42v0m0 43v0m0 17v14m0 23v0M4980 1102v0m0 67v0m0 21v116m0 132v16M4984 1105v0m0 16v0m0 27v24m0 38v104m0 182v0M4988 1121v47m0 17v22m0 19v71m0 30v0m0 49v0m0 15v0m0 49v0m0 112v0M4992 1135v0m0 13v0m0 36v0m0 17v98m0 80v0m0 14v0m0 88v0M4996 1192v99m0 14v0m0 91v7m0 25v0m0 13v19M5000 1108v0m0 21v11m0 33v0m0 13v9m0 17v71m0 65v0m0 18v0m0 81v0m0 172v0M5004 1041v7m0 87v19m0 15v23m0 35v71m0 109v0m0 20v0m0 17v0m0 34v0M5008 1105v0m0 31v0m0 25v0m0 50v107m0 79v8m0 108v0M5012 1131v48m0 13v0m0 22v97m0 162v0m0 23v0m0 21v0M5016 1136v56m0 19v0m0 18v1m0 18v84m0 67v9m0 28v0m0 17v0m0 31v0m0 18v0M5020 1160v0m0 52v8m0 17v83m0 78v0m0 32v5m0 102v0M5024 1132v0m0 16v0m0 30v11m0 17v102m0 19v0m0 60v0m0 19v0m0 45v0m0 19v0M5028 1128v1m0 35v151m0 21v10m0 38v0M5032 1104v0m0 64v115m0 13v12m0 20v30m0 15v11m0 43v7M5036 1087v0m0 86v113m0 13v9m0 33v13m0 14v0m0 15v0m0 29v0m0 16v0m0 14v0m0 15v0M5040 1083v44m0 38v90m0 21v1m0 20v0m0 17v0m0 64v0m0 51v0M5044 1116v0m0 49v114m0 33v0m0 17v16m0 23v0m0 36v0m0 60v0M5048 1185v12m0 17v131m0 121v0M5052 1104v0m0 16v0m0 19v22m0 15v10m0 25v5m0 14v113m0 31v7m0 51v0m0 49v2M5056 1183v11m0 15v120m0 39v4m0 58v0m0 48v8M5060 1132v0m0 21v0m0 25v4m0 38v21m0 17v94m0 13v0m0 21v15m0 88v0M5064 1144v0m0 38v0m0 23v133m0 52v0m0 41v0m0 16v0m0 34v2m0 53v0m0 19v0M5068 1174v107m0 19v14m0 25v13m0 34v0m0 33v0M5072 1063v0m0 42v12m0 17v0m0 27v128m0 33v31m0 13v24m0 15v10M5076 1067v21m0 15v4m0 50v54m0 15v67m0 32v1m0 52v17m0 14v7M5080 893v0m0 270v91m0 14v0m0 38v37m0 27v0m0 51v0m0 29v0M5084 1050v0m0 29v0m0 16v0m0 79v130m0 28v12m0 13v0m0 18v0m0 35v0M5088 1060v10m0 18v18m0 20v0m0 13v0m0 16v3m0 19v130m0 13v15m0 19v0m0 53v0m0 17v0m0 161v0M5092 1086v1m0 81v116m0 16v28m0 50v10m0 60v0m0 28v0m0 22v0M5096 1093v0m0 28v0m0 13v0m0 38v5m0 16v65m0 13v3m0 15v25m0 19v0m0 23v13m0 34v0m0 14v0m0 14v0m0 28v0m0 14v0m0 16v0M5100 1090v39m0 16v6m0 14v122m0 14v21m0 20v0m0 73v0m0 29v0M5104 1075v0m0 13v11m0 25v5m0 29v143m0 35v0m0 74v0m0 31v0M5108 1175v119m0 17v15m0 37v0m0 53v0M5112 1117v10m0 40v0m0 32v140m0 65v0m0 64v0M5116 1119v12m0 55v147m0 21v0m0 33v3m0 14v0m0 16v0m0 30v7m0 89v0m0 55v0M5120 1156v0m0 37v1m0 13v117m0 15v10m0 36v8m0 30v0m0 126v0m0 26v0M5124 1138v7m0 16v13m0 18v163m0 29v18m0 15v0m0 28v0m0 23v0m0 31v0M5128 1102v0m0 77v7m0 27v124m0 13v0m0 46v0m0 217v0M5132 1077v0m0 43v0m0 17v3m0 48v1m0 14v120m0 48v0m0 56v0m0 113v0M5136 1111v0m0 80v107m0 17v0m0 31v0m0 13v0m0 23v0m0 20v0m0 19v8M5140 1066v0m0 30v22m0 17v0m0 54v116m0 13v15m0 78v0m0 43v0M5144 1075v43m0 31v0m0 20v4m0 19v117m0 17v13m0 51v0m0 27v1m0 38v16m0 56v22m0 17v0M5148 850v0m0 171v11m0 167v125m0 18v6m0 18v5m0 13v0m0 16v10m0 28v0m0 35v0m0 18v0M5152 1155v0m0 35v78m0 20v31m0 16v0m0 20v73m0 28v12m0 74v0M5156 1117v0m0 70v122m0 22v0m0 29v0m0 45v0m0 19v5m0 120v0M5160 1083v0m0 30v49m0 22v0m0 22v117m0 17v14m0 66v0m0 13v0m0 100v0m0 31v0m0 42v0M5164 899v0m0 304v5m0 14v100m0 18v25m0 57v6m0 68v0M5168 1099v0m0 35v0m0 17v10m0 18v8m0 21v0m0 23v122m0 13v0m0 109v12M5172 1155v0m0 14v8m0 49v141m0 36v6m0 25v0m0 91v2m0 20v0M5176 1156v11m0 47v114m0 17v0m0 43v0m0 21v20m0 33v0m0 40v4M5180 1080v0m0 14v0m0 16v0m0 21v5m0 30v0m0 29v122m0 17v0m0 35v15m0 17v34m0 21v0m0 17v9M5184 1188v105m0 15v14m0 121v0m0 23v0M5188 1047v0m0 64v1m0 30v0m0 48v129m0 17v0M5192 1118v0m0 22v0m0 37v9m0 13v133m0 13v0m0 34v0m0 14v3m0 51v8M5196 1122v3m0 15v0m0 24v143m0 15v6m0 26v0m0 19v0m0 52v0m0 45v0m0 13v0m0 45v7M5200 1126v6m0 33v12m0 21v129m0 22v0m0 117v11m0 37v0M5204 1041v0m0 83v0m0 16v2m0 32v14m0 17v123m0 66v0m0 27v2m0 16v0m0 25v0m0 14v0M5208 1177v5m0 18v99m0 13v11m0 39v0m0 21v15m0 50v0m0 171v0m0 31v0m0 28v0M5212 1138v4m0 38v5m0 26v120m0 236v0M5216 971v0m0 59v0m0 23v0m0 108v0m0 42v2m0 13v123m0 25v0m0 74v28m0 17v1m0 63v0m0 31v0M5220 1176v37m0 15v98m0 14v9m0 30v0m0 16v0m0 41v3m0 32v0m0 23v10m0 42v0m0 22v0m0 88v0M5224 1145v0m0 34v0m0 42v133m0 71v0m0 16v0m0 30v2m0 35v8m0 47v0M5228 1163v0m0 53v132m0 78v35M5232 1147v0m0 34v0m0 23v170m0 39v2m0 24v2m0 36v9m0 13v0M5236 1151v1m0 28v144m0 13v32m0 60v0m0 34v0m0 22v0m0 53v4M5240 1090v63m0 17v12m0 19v135m0 18v3m0 56v0m0 15v0m0 49v0M5244 1073v0m0 16v0m0 19v7m0 13v61m0 13v83m0 19v14m0 24v0m0 19v16m0 23v0m0 14v0m0 36v0M5248 1093v0m0 22v25m0 37v115m0 13v0m0 33v13m0 20v6m0 15v0m0 20v5m0 56v0M5252 998v0m0 175v113m0 24v0m0 16v0m0 19v1m0 28v0m0 63v0M5256 1093v0m0 24v9m0 25v2m0 33v118m0 21v0m0 32v0m0 206v0M5260 1196v114m0 14v3m0 16v28m0 29v0m0 15v6M5264 1086v0m0 20v0m0 14v12m0 16v6m0 17v16m0 31v126m0 15v0m0 101v0m0 24v0m0 48v0M5268 1149v0m0 14v0m0 34v0m0 15v119m0 23v0m0 39v4m0 19v2m0 26v0M5272 1132v8m0 14v4m0 37v8m0 17v146m0 22v0m0 17v0m0 18v0m0 15v42m0 40v0M5276 1121v0m0 16v0m0 23v23m0 14v139m0 14v17m0 19v7m0 18v12m0 25v0m0 62v0m0 14v0M5280 1127v0m0 16v0m0 70v130m0 20v0m0 88v0m0 30v12m0 22v0M5284 1215v9m0 15v103m0 22v0m0 18v7m0 13v0m0 21v5m0 29v5m0 14v0m0 19v0M5288 1170v18m0 19v0m0 16v8m0 23v112m0 43v0m0 15v0M5292 1146v0m0 37v21m0 13v29m0 13v111m0 77v8m0 22v4m0 48v0M5296 1108v0m0 22v0m0 17v12m0 13v16m0 19v129m0 16v0m0 36v50m0 21v2m0 15v0m0 27v0M5300 1087v0m0 72v159m0 15v77m0 20v13m0 17v0M5304 1143v0m0 16v216m0 31v0m0 23v15m0 14v0m0 31v8M5308 1123v8m0 18v41m0 15v118m0 16v23m0 14v0m0 19v0m0 17v0m0 15v19m0 18v32M5312 1070v0m0 72v16m0 14v10m0 28v5m0 17v112m0 14v14m0 19v6m0 14v20m0 17v2m0 22v2M5316 1080v0m0 20v6m0 25v53m0 14v192m0 21v3m0 34v8m0 69v11M5320 1102v0m0 49v38m0 14v121m0 28v7m0 38v25m0 17v0m0 44v0M5324 925v0m0 196v11m0 20v129m0 17v82m0 40v0M5328 1108v8m0 17v0m0 14v227m0 22v41m0 19v0M5332 1046v0m0 52v203m0 23v11m0 68v0m0 89v0m0 24v0M5336 1046v0m0 20v9m0 34v168m0 17v0m0 25v32m0 16v0M5340 1098v0m0 14v0m0 18v0m0 17v143m0 15v15m0 22v14M5344 998v0m0 19v0m0 14v0m0 49v203m0 15v35m0 22v0M5348 1029v0m0 13v18m0 17v29m0 13v69m0 17v65m0 14v12M5352 1058v0m0 30v0m0 17v11m0 38v121m0 38v19M5356 1023v0m0 33v10m0 28v30m0 14v103m0 15v0m0 24v0m0 18v3m0 16v0m0 20v1m0 22v0M5360 993v3m0 46v233m0 48v13m0 47v0M5364 993v10m0 26v43m0 18v17m0 16v6m0 14v8m0 16v98m0 35v0m0 18v8m0 17v0m0 13v0M5368 1017v0m0 21v9m0 14v242M5372 929v0m0 76v0m0 56v11m0 32v12m0 13v22m0 23v154M5376 1032v0m0 23v0m0 26v10m0 31v0m0 18v21m0 15v117m0 22v10M5380 1083v0m0 32v6m0 13v158m0 16v6M5384 1044v9m0 33v2m0 14v0m0 14v9m0 17v116m0 17v32m0 16v0M5388 1046v7m0 31v195m0 14v0M5392 1035v10m0 21v15m0 17v0m0 20v133m0 14v35M5396 1026v0m0 52v0m0 22v0m0 14v12m0 17v137m0 19v0M5400 1006v0m0 15v0m0 25v0m0 39v15m0 18v17m0 17v100m0 64v0m0 21v0M5404 929v0m0 124v3m0 19v39m0 13v127m0 19v0m0 15v0m0 35v0M5408 1064v1m0 19v8m0 15v26m0 19v93m0 33v0M5412 1069v1m0 36v28m0 16v137m0 14v19M5416 1134v1m0 17v161m0 13v0M5420 1128v2m0 29v155M5424 1116v41m0 13v7m0 16v126M5428 1117v0m0 37v156m0 13v9M5432 1172v5m0 22v116M5436 1166v132m0 19v9M5440 1026v0m0 78v0m0 47v17m0 14v136M5444 1095v4m0 77v0m0 15v126m0 26v3m0 15v0M5448 1157v0m0 43v113m0 14v13m0 22v0M5452 1164v5m0 19v146m0 31v11M5456 1118v0m0 16v1m0 26v25m0 19v129M5460 1151v152m0 13v18M5464 1125v6m0 19v33m0 15v88m0 13v21m0 14v0m0 24v0M5468 905v0m0 241v0m0 13v203m0 28v14M5472 1125v0m0 21v6m0 21v40m0 17v38m0 14v88m0 14v11m0 49v0M5476 1126v0m0 32v0m0 17v14m0 25v135M5480 1122v18m0 33v25m0 15v27m0 18v121m0 25v0M5484 1125v0m0 15v12m0 19v6m0 15v0m0 30v148m0 18v25m0 19v0M5488 1177v0m0 62v12m0 15v18m0 23v110m0 16v0M5492 1119v34m0 56v30m0 26v48m0 18v113M5496 1167v0m0 37v0m0 21v35m0 13v32m0 16v66m0 13v22m0 14v11M5500 1166v12m0 20v14m0 14v161m0 13v7m0 20v0m0 18v1M5504 1197v0m0 34v0m0 15v48m0 18v95m0 23v21M5508 1117v11m0 21v6m0 16v0m0 16v1m0 24v209m0 33v0M5512 1172v1m0 20v10m0 30v93m0 15v21m0 13v16m0 19v29M5516 1161v0m0 24v1m0 34v7m0 18v196m0 25v0m0 28v0M5520 1071v0m0 67v0m0 23v0m0 13v0m0 49v0m0 18v107m0 14v37m0 15v11m0 37v10M5524 1223v4m0 15v180m0 14v0m0 20v0M5528 1213v0m0 23v151m0 20v8m0 13v4m0 29v8m0 16v0m0 13v0m0 28v0M5532 1220v0m0 17v150m0 22v13m0 22v0m0 44v0m0 25v0M5536 1215v0m0 19v163m0 16v0m0 17v20M5540 1205v5m0 19v0m0 20v16m0 19v176m0 28v6m0 20v14M5544 1261v180m0 17v8m0 19v1m0 56v0M5548 1202v0m0 18v4m0 20v111m0 22v47m0 20v2m0 27v6m0 13v0m0 37v0m0 42v0M5552 1170v0m0 15v16m0 20v30m0 17v138m0 14v29m0 17v12m0 46v16m0 21v0M5556 1201v10m0 14v8m0 20v58m0 15v62m0 16v2m0 17v0m0 15v0m0 20v4m0 30v0m0 31v0M5560 1203v13m0 14v13m0 14v88m0 16v42m0 27v7m0 13v0m0 31v0m0 35v0M5564 1239v134m0 20v53m0 23v0m0 16v0m0 29v0M5568 1217v0m0 21v138m0 13v50m0 26v18m0 36v0m0 17v7M5572 1168v0m0 30v0m0 31v54m0 17v74m0 13v59m0 22v0m0 14v0m0 14v5M5576 1222v0m0 27v7m0 38v164m0 19v12m0 18v6m0 45v0M5580 1177v10m0 60v11m0 35v30m0 15v127m0 17v13m0 19v5m0 36v0m0 13v6M5584 1272v191m0 15v10m0 18v5m0 21v1m0 24v0M5588 1213v0m0 47v0m0 13v0m0 16v198m0 33v0m0 30v11M5592 1089v0m0 217v6m0 16v145m0 13v0m0 29v12m0 18v5m0 107v0M5596 1136v0m0 33v0m0 22v15m0 106v42m0 16v2m0 13v115m0 13v19m0 23v11m0 45v0M5600 1277v9m0 77v54m0 14v112m0 15v11m0 15v0m0 18v0m0 16v2m0 19v0M5604 1263v0m0 14v16m0 41v40m0 13v162m0 14v9m0 16v2m0 29v0M5608 1292v0m0 17v0m0 17v1m0 18v50m0 17v61m0 13v111m0 19v0M5612 1298v0m0 71v5m0 24v0m0 13v17m0 13v3m0 17v12m0 13v125m0 53v0M5616 1217v0m0 23v0m0 26v10m0 22v31m0 14v114m0 13v20m0 15v0M5620 1175v0m0 29v5m0 24v126m0 25v36m0 14v60m0 18v7M5624 1117v0m0 39v0m0 35v0m0 14v1m0 35v178m0 34v14m0 16v0m0 19v4M5628 1217v41m0 15v101m0 13v7m0 13v36m0 30v11M5632 1195v20m0 24v137m0 16v40m0 29v0m0 45v0M5636 1228v6m0 14v3m0 27v139m0 18v31m0 41v0M5640 1195v0m0 74v0m0 25v17m0 16v29m0 14v134m0 29v11m0 17v0M5644 1200v7m0 14v0m0 52v0m0 45v167m0 15v10m0 14v0m0 14v2m0 25v0m0 13v0m0 25v0M5648 1211v0m0 59v0m0 41v142m0 14v135M5652 1124v0m0 125v22m0 18v0m0 55v165m0 34v17m0 13v3m0 13v0M5656 1250v0m0 60v6m0 16v14m0 24v135m0 17v14m0 16v1m0 21v7m0 26v0M5660 1270v0m0 47v0m0 32v24m0 14v48m0 13v69m0 15v2m0 21v0m0 27v0M5664 1306v0m0 13v174m0 17v16m0 18v10m0 24v0M5668 1242v7m0 20v1m0 22v71m0 13v52m0 17v11m0 18v12m0 19v7m0 16v7M5672 1219v0m0 22v3m0 19v1m0 13v14m0 13v124m0 17v0m0 14v19m0 17v2m0 64v0m0 25v2M5676 1238v12m0 41v24m0 17v141m0 14v3m0 13v0M5680 1182v0m0 70v3m0 20v71m0 19v30m0 16v35m0 13v17m0 21v5M5684 1183v0m0 15v4m0 45v0m0 39v167m0 15v15m0 14v0m0 15v0M5688 1065v0m0 150v0m0 35v12m0 23v13m0 16v129m0 16v9m0 16v6M5692 1172v0m0 48v1m0 48v0m0 23v0m0 22v119m0 14v46m0 17v4m0 54v0M5696 1292v0m0 22v16m0 13v18m0 15v92m0 14v25m0 15v63m0 84v0M5700 1278v3m0 34v5m0 27v54m0 22v107m0 28v0m0 16v9m0 69v0M5704 1271v0m0 22v6m0 17v0m0 42v52m0 20v88m0 18v5M5708 1257v0m0 27v0m0 60v0m0 26v38m0 16v116m0 20v0m0 14v11M5712 1106v0m0 48v0m0 124v2m0 25v0m0 22v0m0 14v54m0 22v102m0 19v10m0 30v8M5716 1286v0m0 18v0m0 15v0m0 59v3m0 13v0m0 17v156M5720 1257v24m0 20v0m0 13v0m0 34v33m0 41v0m0 21v16m0 20v11m0 16v67m0 17v2M5724 1258v18m0 41v16m0 13v0m0 16v72m0 19v1m0 14v2m0 16v102m0 14v3M5728 1306v10m0 14v0m0 36v24m0 17v13m0 15v58m0 16v59m0 22v0M5732 1256v0m0 55v0m0 21v0m0 38v182m0 62v0m0 13v1M5736 1287v13m0 24v25m0 30v128m0 14v70M5740 1263v1m0 20v2m0 18v0m0 15v0m0 17v15m0 13v69m0 17v118m0 48v7m0 19v0M5744 1216v0m0 84v12m0 17v0m0 21v44m0 15v125m0 15v9m0 16v0m0 24v0M5748 1393v6m0 22v198M5752 1377v7m0 19v0m0 18v23m0 14v127m0 28v0m0 15v0M5756 1285v0m0 52v0m0 31v21m0 18v17m0 15v102m0 16v21m0 19v19M5760 1263v3m0 20v4m0 53v0m0 17v29m0 17v101m0 14v8m0 24v0m0 17v0m0 65v0M5764 1260v0m0 76v11m0 14v160m0 28v14M5768 1268v0m0 15v8m0 27v119m0 19v16m0 14v24m0 14v1m0 43v0M5772 1282v1m0 13v102m0 13v37m0 18v1m0 27v0m0 51v3m0 25v0M5776 1301v0m0 15v125m0 22v0m0 15v0m0 25v0m0 47v0M5780 1213v0m0 85v11m0 18v107m0 14v26M5784 1315v130m0 15v3M5788 1119v0m0 176v0m0 15v109m0 17v15M5792 1312v169M5796 1317v0m0 18v10m0 13v122m0 16v0m0 15v0M5800 1296v19m0 13v121m0 17v23M5804 1212v0m0 86v0m0 44v0m0 16v128M5808 1299v1m0 15v0m0 23v0m0 15v128m0 42v9m0 34v0M5812 1289v33m0 13v141m0 45v37M5816 1235v0m0 44v27m0 15v0m0 20v128m0 13v0m0 24v0m0 24v0M5820 1313v1m0 28v179m0 18v0M5824 1318v0m0 16v154m0 13v14M5828 1109v0m0 83v0m0 29v8m0 14v6m0 52v0m0 23v0m0 25v13m0 19v131m0 19v0M5832 1238v0m0 68v11m0 34v9m0 16v66m0 13v44m0 26v19M5836 1334v2m0 16v30m0 16v104m0 32v0M5840 1328v0m0 17v117m0 13v66m0 17v1M5844 1313v5m0 17v7m0 13v24m0 18v4m0 13v79m0 187v0M5848 1358v0m0 18v140m0 13v0m0 30v0M5852 1404v0m0 39v12m0 33v0m0 14v0m0 15v0" stroke="#1f77b4" stroke-width="22.24" stroke-linecap="round" fill="none"/>
<polyline points="116.5,366.8 117.5,368.7 118.5,369.1 119.5,366.5 120.5,359.6 121.5,359.8 122.5,371.4 123.5,382.1 124.5,382.1 125.5,378.2 126.5,373.8 127.5,371.5 128.5,370.6 129.5,369.8 130.5,367.7 131.5,363.2 132.5,359.6 133.5,359.4 134.5,359.9 135.5,360.6 136.5,363.9 137.5,370.9 138.5,378.3 139.5,382.8 140.5,381.3 141.5,374.5 142.5,366.2 143.5,360.2 144.5,360.9 145.5,371.4 146.5,387.2 147.5,403.0 148.5,413.6 149.5,412.6 150.5,396.4 151.5,381.6 152.5,385.6 153.5,390.9 154.5,381.8 155.5,371.2 156.5,369.3 157.5,370.4 158.5,372.0 159.5,373.5 160.5,374.9 161.5,376.4 162.5,377.4 163.5,377.1 164.5,374.4 165.5,370.1 166.5,365.8 167.5,359.8 168.5,353.9 169.5,352.9 170.5,360.0 171.5,367.8 172.5,367.0 173.5,354.4 174.5,337.3 175.5,323.5 176.5,320.6 177.5,325.9 178.5,331.8 179.5,332.2 180.5,330.3 181.5,333.2 182.5,350.0 183.5,369.8 184.5,380.3 185.5,374.3 186.5,360.4 187.5,348.3 188.5,337.8 189.5,329.2 190.5,327.5 191.5,331.6 192.5,336.8 193.5,339.4 194.5,340.8 195.5,342.1 196.5,344.2 197.5,346.7 198.5,348.1 199.5,345.9 200.5,340.5 201.5,334.8 202.5,327.6 203.5,319.6 204.5,314.0 205.5,313.1 206.5,313.1 207.5,313.1 208.5,313.1 209.5,313.7 210.5,321.1 211.5,331.3 212.5,336.9 213.5,335.9 214.5,333.1 215.5,329.3 216.5,320.4 217.5,309.5 218.5,303.2 219.5,299.2 220.5,296.7 221.5,296.4 222.5,296.4 223.5,296.4 224.5,296.4 225.5,305.1 226.5,315.9 227.5,313.8 228.5,315.2 229.5,326.1 230.5,338.2 231.5,342.3 232.5,334.4 233.5,324.1 234.5,321.8 235.5,324.3 236.5,326.8 237.5,327.0 238.5,326.5 239.5,325.6 240.5,324.4 241.5,322.4 242.5,319.2 243.5,315.2 244.5,308.3 245.5,299.3 246.5,291.5 247.5,288.0 248.5,290.0 249.5,294.8 250.5,303.1 251.5,316.4 252.5,324.3 253.5,319.3 254.5,309.9 255.5,308.1 256.5,313.0 257.5,318.6 258.5,319.8 259.5,316.6 260.5,314.6 261.5,319.5 262.5,326.1 263.5,326.6 264.5,324.6 265.5,326.0 266.5,333.6 267.5,342.3 268.5,346.7 269.5,343.6 270.5,337.9 271.5,335.6 272.5,337.1 273.5,339.2 274.5,339.4 275.5,335.7 276.5,329.6 277.5,318.2 278.5,313.2 279.5,315.8 280.5,320.3 281.5,323.9 282.5,325.8 283.5,327.0 284.5,326.1 285.5,320.8 286.5,315.1 287.5,313.1 288.5,313.1 289.5,313.1 290.5,316.6 291.5,323.7 292.5,329.3 293.5,329.4 294.5,326.5 295.5,322.3 296.5,317.8 297.5,314.1 298.5,312.0 299.5,310.2 300.5,308.7 301.5,307.7 302.5,307.5 303.5,307.5 304.5,307.5 305.5,307.5 306.5,307.5 307.5,306.1 308.5,303.3 309.5,300.0 310.5,297.0 311.5,295.2 312.5,295.7 313.5,299.1 314.5,301.8 315.5,299.8 316.5,294.1 317.5,290.8 318.5,291.3 319.5,292.7 320.5,294.1 321.5,294.9 322.5,293.9 323.5,291.0 324.5,289.4 325.5,294.5 326.5,302.1 327.5,307.3 328.5,312.0 329.5,315.7 330.5,318.1 331.5,319.5 332.5,320.8 333.5,323.3 334.5,327.8 335.5,332.7 336.5,336.2 337.5,336.2 338.5,330.7 339.5,325.0 340.5,325.0 341.5,327.7 342.5,329.9 343.5,327.7 344.5,322.0 345.5,318.7 346.5,323.7 347.5,332.2 348.5,335.1 349.5,326.2 350.5,318.8 351.5,320.7 352.5,325.1 353.5,329.1 354.5,330.6 355.5,331.3 356.5,331.9 357.5,333.2 358.5,337.6 359.5,343.6 360.5,348.5 361.5,350.5 362.5,351.9 363.5,353.0 364.5,353.6 365.5,353.6 366.5,352.6 367.5,351.3 368.5,350.4 369.5,349.7 370.5,349.0 371.5,348.4 372.5,348.0 373.5,347.7 374.5,347.4 375.5,347.1 376.5,346.5 377.5,343.7 378.5,339.3 379.5,335.1 380.5,332.7 381.5,332.0 382.5,331.5 383.5,331.5 384.5,335.5 385.5,342.6 386.5,350.1 387.5,361.2 388.5,371.8 389.5,376.1 390.5,366.6 391.5,353.6 392.5,348.1 393.5,344.1 394.5,342.5 395.5,343.4 396.5,344.8 397.5,345.2 398.5,342.7 399.5,338.5 400.5,334.5 401.5,332.7 402.5,336.1 403.5,341.8 404.5,343.9 405.5,342.3 406.5,339.7 407.5,337.0 408.5,335.5 409.5,335.1 410.5,334.9 411.5,334.6 412.5,334.2 413.5,332.7 414.5,329.1 415.5,324.6 416.5,320.1 417.5,316.6 418.5,313.3 419.5,310.1 420.5,306.8 421.5,302.9 422.5,297.7 423.5,293.9 424.5,294.7 425.5,298.8 426.5,301.9 427.5,301.0 428.5,298.9 429.5,297.8 430.5,298.2 431.5,299.1 432.5,300.0 433.5,300.5 434.5,300.0 435.5,298.3 436.5,296.3 437.5,295.1 438.5,295.5 439.5,297.6 440.5,299.1 441.5,297.4 442.5,292.7 443.5,288.7 444.5,288.9 445.5,294.8 446.5,302.5 447.5,307.4 448.5,308.0 449.5,308.5 450.5,308.8 451.5,308.9 452.5,308.1 453.5,308.6 454.5,314.5 455.5,319.7 456.5,318.1 457.5,310.9 458.5,303.8 459.5,302.0 460.5,303.1 461.5,305.0 462.5,309.9 463.5,315.6 464.5,317.3 465.5,317.3 466.5,317.3 467.5,317.9 468.5,321.2 469.5,324.1 470.5,324.1 471.5,323.4 472.5,322.9 473.5,324.5 474.5,326.9 475.5,326.3 476.5,323.5 477.5,321.6 478.5,323.5 479.5,327.8 480.5,329.9 481.5,329.5 482.5,328.8 483.5,328.8 484.5,332.8 485.5,337.4 486.5,337.5 487.5,332.6 488.5,327.8 489.5,326.6 490.5,326.0 491.5,325.7 492.5,326.7 493.5,328.9 494.5,329.9 495.5,325.8 496.5,319.4 497.5,317.4 498.5,318.6 499.5,319.9 500.5,319.4 501.5,314.3 502.5,307.1 503.5,301.4 504.5,297.1 505.5,293.0 506.5,289.4 507.5,286.7 508.5,284.6 509.5,282.6 510.5,281.3 511.5,281.3 512.5,285.9 513.5,291.2 514.5,291.3 515.5,287.4 516.5,287.4 517.5,292.4 518.5,298.5 519.5,301.9 520.5,301.6 521.5,300.9 522.5,300.6 523.5,301.4 524.5,303.2 525.5,305.5 526.5,309.3 527.5,313.9 528.5,318.0 529.5,322.5 530.5,325.5 531.5,324.2 532.5,318.6 533.5,313.2 534.5,312.2 535.5,317.6 536.5,323.4 537.5,321.9 538.5,309.0 539.5,295.6 540.5,289.0 541.5,284.5 542.5,288.3 543.5,314.0 544.5,336.6 545.5,333.1 546.5,314.8 547.5,296.8 548.5,292.7 549.5,299.1 550.5,308.6 551.5,326.6 552.5,340.8 553.5,336.1 554.5,323.2 555.5,312.2 556.5,312.0 557.5,321.3 558.5,329.3 559.5,327.5 560.5,319.2 561.5,311.0 562.5,309.8 563.5,318.9 564.5,328.5 565.5,327.4 566.5,315.3 567.5,305.3 568.5,311.3 569.5,326.9 570.5,328.9 571.5,322.4 572.5,313.7 573.5,306.7 574.5,300.7 575.5,295.2 576.5,292.3 577.5,295.0 578.5,300.9 579.5,300.8 580.5,295.4 581.5,291.0 582.5,291.1 583.5,292.3 584.5,293.3 585.5,293.3 586.5,291.2 587.5,288.7 588.5,287.1 589.5,285.9 590.5,285.2 591.5,286.7 592.5,291.3 593.5,296.4 594.5,301.3 595.5,306.5 596.5,311.2 597.5,315.1 598.5,318.9 599.5,324.1 600.5,332.1 601.5,334.8 602.5,307.7 603.5,271.0 604.5,261.8 605.5,267.0 606.5,275.2 607.5,291.7 608.5,313.0 609.5,328.7 610.5,342.4 611.5,354.4 612.5,362.1 613.5,361.4 614.5,343.9 615.5,320.3 616.5,305.4 617.5,307.5 618.5,316.1 619.5,324.2 620.5,330.2 621.5,336.1 622.5,340.2 623.5,339.4 624.5,319.6 625.5,295.0 626.5,282.8 627.5,274.5 628.5,270.0 629.5,270.3 630.5,272.5 631.5,277.8 632.5,292.7 633.5,301.9 634.5,296.7 635.5,287.8 636.5,280.4 637.5,272.8 638.5,263.8 639.5,253.7 640.5,248.8 641.5,254.5 642.5,262.3 643.5,260.1 644.5,254.7 645.5,267.8 646.5,303.4 647.5,324.3 648.5,316.2 649.5,300.5 650.5,290.8 651.5,294.9 652.5,303.5 653.5,307.5 654.5,304.3 655.5,298.9 656.5,295.2 657.5,295.4 658.5,296.9 659.5,299.0 660.5,303.5 661.5,310.3 662.5,315.4 663.5,315.3 664.5,312.6 665.5,310.4 666.5,310.6 667.5,311.4 668.5,312.4 669.5,313.1 670.5,313.1 671.5,313.1 672.5,313.1 673.5,313.1 674.5,313.4 675.5,315.7 676.5,319.8 677.5,324.5 678.5,331.2 679.5,340.0 680.5,349.0 681.5,360.2 682.5,366.3 683.5,361.6 684.5,355.5 685.5,360.4 686.5,376.5 687.5,391.2 688.5,399.0 689.5,405.4 690.5,412.3 691.5,420.4 692.5,428.7 693.5,436.3 694.5,444.8 695.5,450.9 696.5,449.7 697.5,441.8 698.5,439.2 699.5,440.1 700.5,441.6 701.5,443.6 702.5,446.2 703.5,447.5 704.5,444.3 705.5,437.8 706.5,432.0 707.5,431.0 708.5,432.9 709.5,432.3 710.5,421.9 711.5,407.6 712.5,396.0 713.5,385.2 714.5,372.1 715.5,351.2 716.5,324.9 717.5,301.8 718.5,280.6 719.5,265.0 720.5,252.7 721.5,241.7 722.5,229.9 723.5,221.8 724.5,222.6 725.5,231.6 726.5,243.5 727.5,257.0 728.5,274.6 729.5,288.1 730.5,290.1 731.5,285.0 732.5,280.1 733.5,283.6 734.5,300.9 735.5,319.3 736.5,331.9 737.5,343.3 738.5,348.1 739.5,342.5 740.5,331.5 741.5,322.8 742.5,316.2 743.5,310.2 744.5,305.2 745.5,301.9 746.5,300.3 747.5,299.3 748.5,297.9 749.5,292.4 750.5,271.0 751.5,265.8 752.5,271.5 753.5,264.0 754.5,243.3 755.5,249.5 756.5,270.1 757.5,263.8 758.5,240.9 759.5,223.8 760.5,209.3 761.5,203.0 762.5,200.2 763.5,201.3 764.5,205.9 765.5,210.9 766.5,215.5 767.5,220.7 768.5,228.4 769.5,239.0 770.5,247.7 771.5,250.6 772.5,251.8 773.5,252.3 774.5,242.3 775.5,226.7 776.5,225.2 777.5,234.6 778.5,244.9 779.5,253.9 780.5,257.0 781.5,252.3 782.5,245.6 783.5,242.3 784.5,242.8 785.5,243.5 786.5,242.6 787.5,237.8 788.5,234.9 789.5,239.0 790.5,246.7 791.5,253.6 792.5,260.9 793.5,264.8 794.5,265.6 795.5,266.0 796.5,263.9 797.5,254.9 798.5,249.9 799.5,261.1 800.5,276.3 801.5,275.7 802.5,263.1 803.5,251.7 804.5,245.9 805.5,240.5 806.5,228.4 807.5,212.9 808.5,244.5 809.5,293.4 810.5,292.0 811.5,284.8 812.5,277.5 813.5,274.9 814.5,283.5 815.5,285.7 816.5,274.7 817.5,271.5 818.5,275.3 819.5,278.4 820.5,272.2 821.5,257.5 822.5,245.5 823.5,233.8 824.5,227.4 825.5,229.5 826.5,232.3 827.5,219.1 828.5,200.5 829.5,189.2 830.5,185.3 831.5,195.1 832.5,207.0 833.5,212.2 834.5,217.0 835.5,227.0 836.5,234.8 837.5,225.8 838.5,218.9 839.5,225.9 840.5,235.4 841.5,240.7 842.5,244.6 843.5,248.1 844.5,252.2 845.5,258.6 846.5,264.9 847.5,264.9 848.5,258.9 849.5,254.8 850.5,264.3 851.5,279.3 852.5,279.8 853.5,266.0 854.5,252.3 855.5,244.9 856.5,238.5 857.5,229.5 858.5,218.2 859.5,219.7 860.5,234.3 861.5,236.7 862.5,234.9 863.5,241.3 864.5,250.7 865.5,251.6 866.5,249.1 867.5,251.0 868.5,263.9 869.5,277.8 870.5,290.9 871.5,303.3 872.5,308.4 873.5,306.4 874.5,302.3 875.5,297.8 876.5,294.0 877.5,290.0 878.5,285.9 879.5,281.9 880.5,278.2 881.5,274.2 882.5,268.5 883.5,260.5 884.5,254.4 885.5,250.7 886.5,248.0 887.5,246.4 888.5,245.0 889.5,244.0 890.5,243.6 891.5,244.0 892.5,245.7 893.5,251.7 894.5,264.6 895.5,256.2 896.5,246.0 897.5,249.1 898.5,260.8 899.5,261.4 900.5,258.6 901.5,257.5 902.5,264.3 903.5,274.4 904.5,278.5 905.5,278.2 906.5,277.7 907.5,277.3 908.5,277.6 909.5,280.3 910.5,282.2 911.5,279.7 912.5,273.7 913.5,267.9 914.5,266.1 915.5,267.8 916.5,269.6 917.5,267.8 918.5,262.1 919.5,260.2 920.5,268.0 921.5,271.9 922.5,265.9 923.5,261.0 924.5,265.7 925.5,274.1 926.5,277.0 927.5,272.3 928.5,266.0 929.5,261.4 930.5,257.3 931.5,256.2 932.5,260.3 933.5,267.2 934.5,274.1 935.5,283.0 936.5,289.4 937.5,283.9 938.5,272.9 939.5,273.8 940.5,276.0 941.5,272.8 942.5,271.8 943.5,282.1 944.5,291.8 945.5,288.2 946.5,281.3 947.5,286.7 948.5,300.2 949.5,304.3 950.5,300.5 951.5,295.5 952.5,293.6 953.5,293.8 954.5,294.3 955.5,295.1 956.5,296.1 957.5,297.2 958.5,299.0 959.5,302.3 960.5,304.6 961.5,304.2 962.5,302.5 963.5,300.6 964.5,298.6 965.5,296.5 966.5,295.1 967.5,298.1 968.5,308.6 969.5,311.3 970.5,307.4 971.5,302.9 972.5,301.3 973.5,300.3 974.5,299.6 975.5,299.2 976.5,299.3 977.5,300.6 978.5,302.5 979.5,304.2 980.5,304.7 981.5,303.1 982.5,301.1 983.5,300.9 984.5,304.0 985.5,307.1 986.5,307.1 987.5,305.0 988.5,302.7 989.5,302.0 990.5,303.7 991.5,305.7 992.5,305.9 993.5,303.7 994.5,301.1 995.5,299.8 996.5,298.8 997.5,298.0 998.5,297.8 999.5,301.4 1000.5,307.8 1001.5,310.3 1002.5,309.1 1003.5,306.7 1004.5,303.5 1005.5,299.0 1006.5,291.1 1007.5,285.5 1008.5,290.3 1009.5,300.1 1010.5,299.0 1011.5,294.5 1012.5,290.8 1013.5,289.1 1014.5,287.9 1015.5,286.1 1016.5,282.5 1017.5,279.0 1018.5,279.3 1019.5,288.7 1020.5,298.0 1021.5,298.3 1022.5,294.9 1023.5,292.3 1024.5,295.5 1025.5,304.1 1026.5,308.9 1027.5,306.9 1028.5,302.5 1029.5,298.7 1030.5,297.8 1031.5,298.8 1032.5,300.4 1033.5,302.0 1034.5,303.2 1035.5,304.6 1036.5,306.6 1037.5,312.9 1038.5,321.5 1039.5,316.5 1040.5,307.2 1041.5,303.4 1042.5,304.1 1043.5,305.3 1044.5,306.1 1045.5,305.9 1046.5,305.0 1047.5,304.1 1048.5,303.4 1049.5,303.5 1050.5,304.3 1051.5,305.3 1052.5,306.0 1053.5,305.9 1054.5,304.0 1055.5,302.2 1056.5,302.2 1057.5,303.3 1058.5,304.4 1059.5,304.7 1060.5,303.0 1061.5,300.5 1062.5,297.1 1063.5,293.4 1064.5,292.7 1065.5,304.1 1066.5,313.1 1067.5,308.8 1068.5,300.9 1069.5,297.9 1070.5,302.6 1071.5,308.8 1072.5,310.1 1073.5,308.3 1074.5,305.9 1075.5,304.7 1076.5,305.0 1077.5,305.6 1078.5,306.3 1079.5,307.0 1080.5,307.5 1081.5,307.5 1082.5,307.3 1083.5,307.0 1084.5,306.6 1085.5,306.3 1086.5,306.2 1087.5,306.2 1088.5,306.2 1089.5,306.2 1090.5,306.3 1091.5,306.4 1092.5,306.5 1093.5,306.6 1094.5,306.7 1095.5,306.8 1096.5,306.9 1097.5,307.0 1098.5,307.0 1099.5,307.1 1100.5,307.2 1101.5,307.2 1102.5,307.4 1103.5,307.6 1104.5,310.7 1105.5,314.4 1106.5,312.3 1107.5,306.6 1108.5,303.4 1109.5,304.2 1110.5,306.0 1111.5,307.4 1112.5,307.4 1113.5,306.6 1114.5,305.6 1115.5,304.9 1116.5,304.9 1117.5,305.9 1118.5,307.4 1119.5,308.6 1120.5,308.9 1121.5,308.4 1122.5,307.4 1123.5,306.5 1124.5,306.2 1125.5,306.7 1126.5,307.4 1127.5,305.4 1128.5,305.7 1129.5,306.2 1130.5,306.6 1131.5,306.7 1132.5,305.8 1133.5,304.3 1134.5,303.0 1135.5,302.6 1136.5,304.9 1137.5,308.4 1138.5,309.5 1139.5,308.6 1140.5,307.1 1141.5,305.8 1142.5,305.3 1143.5,305.8 1144.5,306.7 1145.5,307.7 1146.5,308.1 1147.5,307.9 1148.5,307.2 1149.5,306.3 1150.5,305.5 1151.5,304.9 1152.5,304.3 1153.5,303.9 1154.5,304.3 1155.5,305.4 1156.5,306.5 1157.5,307.2 1158.5,307.2 1159.5,307.0 1160.5,306.8 1161.5,306.5 1162.5,306.2 1163.5,306.2 1164.5,306.3 1165.5,306.5 1166.5,306.8 1167.5,307.1 1168.5,307.3 1169.5,307.3 1170.5,307.1 1171.5,306.9 1172.5,306.7 1173.5,306.4 1174.5,306.2 1175.5,306.0 1176.5,305.8 1177.5,305.6 1178.5,305.5 1179.5,305.4 1180.5,305.3 1181.5,305.6 1182.5,306.0 1183.5,306.6 1184.5,307.3 1185.5,308.0 1186.5,308.7 1187.5,309.6 1188.5,310.5 1189.5,311.3 1190.5,311.7 1191.5,311.7 1192.5,311.3 1193.5,310.8 1194.5,310.2 1195.5,309.6 1196.5,308.9 1197.5,308.2 1198.5,307.4 1199.5,306.9 1200.5,306.8 1201.5,308.9 1202.5,311.6 1203.5,312.0 1204.5,308.9 1205.5,305.8 1206.5,305.8 1207.5,308.1 1208.5,310.9 1209.5,312.3 1210.5,310.9 1211.5,308.0 1212.5,306.7 1213.5,307.7 1214.5,309.4 1215.5,310.7 1216.5,310.4 1217.5,307.4 1218.5,303.9 1219.5,302.6 1220.5,304.4 1221.5,307.4 1222.5,309.4 1223.5,309.2 1224.5,308.2 1225.5,307.1 1226.5,306.7 1227.5,307.2 1228.5,308.2 1229.5,309.1 1230.5,309.5 1231.5,309.4 1232.5,309.1 1233.5,308.8 1234.5,308.4 1235.5,308.2 1236.5,308.1 1237.5,308.2 1238.5,308.4 1239.5,308.7 1240.5,309.0 1241.5,309.4 1242.5,310.2 1243.5,311.9 1244.5,313.7 1245.5,315.0 1246.5,315.1 1247.5,314.7 1248.5,314.2 1249.5,313.8 1250.5,313.9 1251.5,316.1 1252.5,319.5 1253.5,322.5 1254.5,323.4 1255.5,318.3 1256.5,310.8 1257.5,307.5 1258.5,306.2 1259.5,305.4 1260.5,306.6 1261.5,312.4 1262.5,317.5 1263.5,318.5 1264.5,319.1 1265.5,319.3 1266.5,314.7 1267.5,306.1 1268.5,302.5 1269.5,302.8 1270.5,303.4 1271.5,304.5 1272.5,307.6 1273.5,310.5 1274.5,310.6 1275.5,309.3 1276.5,308.2 1277.5,309.6 1278.5,314.2 1279.5,318.9 1280.5,320.7 1281.5,319.3 1282.5,316.7 1283.5,314.4 1284.5,311.8 1285.5,309.8 1286.5,309.7 1287.5,310.8 1288.5,312.4 1289.5,314.0 1290.5,315.9 1291.5,318.1 1292.5,319.9 1293.5,320.7 1294.5,316.8 1295.5,309.7 1296.5,306.8 1297.5,309.6 1298.5,313.6 1299.5,315.5 1300.5,316.3 1301.5,316.8 1302.5,317.3 1303.5,318.1 1304.5,319.8 1305.5,322.1 1306.5,324.1 1307.5,324.9 1308.5,321.7 1309.5,315.6 1310.5,312.0 1311.5,310.6 1312.5,309.7 1313.5,309.8 1314.5,312.6 1315.5,315.8 1316.5,317.1 1317.5,317.7 1318.5,318.2 1319.5,318.8 1320.5,320.0 1321.5,323.2 1322.5,326.0 1323.5,323.2 1324.5,311.9 1325.5,308.9 1326.5,315.4 1327.5,319.3 1328.5,317.4 1329.5,313.8 1330.5,310.2 1331.5,307.5 1332.5,304.8 1333.5,302.9 1334.5,302.5 1335.5,302.5 1336.5,302.5 1337.5,302.5 1338.5,300.6 1339.5,296.8 1340.5,293.5 1341.5,294.1 1342.5,302.8 1343.5,305.3 1344.5,305.1 1345.5,304.6 1346.5,304.1 1347.5,302.9 1348.5,300.8 1349.5,298.6 1350.5,297.1 1351.5,298.6 1352.5,305.6 1353.5,311.8 1354.5,313.6 1355.5,314.7 1356.5,315.1 1357.5,314.2 1358.5,312.4 1359.5,311.1 1360.5,311.5 1361.5,313.9 1362.5,316.6 1363.5,317.9 1364.5,317.1 1365.5,315.7 1366.5,315.2 1367.5,317.6 1368.5,321.4 1369.5,324.9 1370.5,328.8 1371.5,331.6 1372.5,331.9 1373.5,331.9 1374.5,331.9 1375.5,331.9 1376.5,331.8 1377.5,330.5 1378.5,328.5 1379.5,326.8 1380.5,326.3 1381.5,326.3 1382.5,326.3 1383.5,327.2 1384.5,334.1 1385.5,340.9 1386.5,340.8 1387.5,336.5 1388.5,331.6 1389.5,329.1 1390.5,332.3 1391.5,338.8 1392.5,343.7 1393.5,346.9 1394.5,349.3 1395.5,350.4 1396.5,350.8 1397.5,351.2 1398.5,352.6 1399.5,356.8 1400.5,362.2 1401.5,367.1 1402.5,369.6 1403.5,364.0 1404.5,349.7 1405.5,340.3 1406.5,338.0 1407.5,336.5 1408.5,336.4 1409.5,343.7 1410.5,353.7 1411.5,358.4 1412.5,361.1 1413.5,362.6 1414.5,361.9 1415.5,358.2 1416.5,353.1 1417.5,348.7 1418.5,346.7 1419.5,345.4 1420.5,344.6 1421.5,345.4 1422.5,349.2 1423.5,354.1 1424.5,358.0 1425.5,361.2 1426.5,364.2 1427.5,367.2 1428.5,370.5 1429.5,374.6 1430.5,378.0 1431.5,379.5 1432.5,375.1 1433.5,366.1 1434.5,359.2 1435.5,361.1 1436.5,370.8 1437.5,377.9 1438.5,375.1 1439.5,366.9 1440.5,359.7 1441.5,355.0 1442.5,351.0 1443.5,348.1 1444.5,345.8 1445.5,344.0 1446.5,343.1 1447.5,345.4 1448.5,350.4 1449.5,352.9 1450.5,352.3 1451.5,351.2 1452.5,350.3 1453.5,350.2 1454.5,350.6 1455.5,351.2 1456.5,352.4 1457.5,354.6 1458.5,356.8 1459.5,358.4 1460.5,359.9 1461.5,361.2 1462.5,362.4" fill="none" stroke="#ff7f0e" stroke-width="2.1" stroke-linejoin="round"/></g>
<path d="M116.5 518.5v5.3M284.5 518.5v5.3M453.5 518.5v5.3M621.5 518.5v5.3M789.5 518.5v5.3M957.5 518.5v5.3M1126.5 518.5v5.3M1294.5 518.5v5.3M116.5 75.5h-5.3M116.5 133.5h-5.3M116.5 191.5h-5.3M116.5 249.5h-5.3M116.5 307.5h-5.3M116.5 365.5h-5.3M116.5 423.5h-5.3M116.5 481.5h-5.3" stroke="#000" stroke-width="1.1" fill="none"/>
<rect x="116.5" y="38.5" width="1346.0" height="480.0" fill="none" stroke="#000" stroke-width="1.1"/>
<text x="105.4" y="83.1" font-size="23.4" text-anchor="end" textLength="39.0" lengthAdjust="spacingAndGlyphs">2.0</text>
<text x="105.4" y="141.1" font-size="23.4" text-anchor="end" textLength="39.0" lengthAdjust="spacingAndGlyphs">1.5</text>
<text x="105.4" y="199.1" font-size="23.4" text-anchor="end" textLength="39.0" lengthAdjust="spacingAndGlyphs">1.0</text>
<text x="105.4" y="257.1" font-size="23.4" text-anchor="end" textLength="39.0" lengthAdjust="spacingAndGlyphs">0.5</text>
<text x="105.4" y="315.1" font-size="23.4" text-anchor="end" textLength="39.0" lengthAdjust="spacingAndGlyphs">0.0</text>
<text x="105.4" y="373.1" font-size="23.4" text-anchor="end" textLength="56.6" lengthAdjust="spacingAndGlyphs">−0.5</text>
<text x="105.4" y="431.1" font-size="23.4" text-anchor="end" textLength="56.6" lengthAdjust="spacingAndGlyphs">−1.0</text>
<text x="105.4" y="489.1" font-size="23.4" text-anchor="end" textLength="56.6" lengthAdjust="spacingAndGlyphs">−1.5</text>
<text transform="translate(37.3,278.5) rotate(-90)" font-size="23.4" text-anchor="middle" textLength="226.2" lengthAdjust="spacingAndGlyphs">Doppler Shift [Hz]</text>
<text x="115.5" y="29.9" font-size="28.2" textLength="42.4" lengthAdjust="spacingAndGlyphs">(a)</text>
<rect x="116.5" y="575.5" width="609.3" height="479.0" fill="#e8e8e8"/>
<path d="M116.5 1054.5V575.5M284.5 1054.5V575.5M453.5 1054.5V575.5M621.5 1054.5V575.5M789.5 1054.5V575.5M957.5 1054.5V575.5M1126.5 1054.5V575.5M1294.5 1054.5V575.5M116.5 1034.5H1462.5M116.5 929.5H1462.5M116.5 823.5H1462.5M116.5 718.5H1462.5M116.5 612.5H1462.5" stroke="#b0b0b0" stroke-width="1.1" stroke-dasharray="1.11 1.83" fill="none"/>
<g clip-path="url(#c2)"><path transform="scale(0.25)" d="M464 3952v0M468 3912v26m0 30v107M472 3908v8m0 44v39m0 14v69M476 3874v0m0 27v0m0 26v3m0 16v36m0 18v92M480 3898v0m0 20v0m0 15v9m0 22v116M484 3930v9m0 21v0m0 17v118M488 3872v5m0 23v32m0 13v6m0 17v120M492 3838v15m0 19v32m0 13v138m0 25v18M496 3786v0m0 19v0m0 44v9m0 16v50m0 13v92m0 16v9m0 17v0m0 29v0M500 3838v0m0 14v20m0 22v1m0 13v42m0 13v0m0 15v108M504 3829v22m0 27v16m0 23v34m0 18v118M508 3843v19m0 23v12m0 18v177M512 3922v0m0 23v45m0 15v79m0 14v0M516 3857v0m0 30v0m0 17v0m0 21v45m0 13v97m0 15v0M520 3836v0m0 42v0m0 14v0m0 20v31m0 14v40m0 13v71m0 16v0M524 3825v0m0 45v0m0 20v7m0 23v141m0 13v25M528 3847v0m0 25v210M532 3873v5m0 28v36m0 15v145M536 3866v4m0 53v0m0 18v161M540 3909v23m0 27v49m0 13v83M544 3877v0m0 44v144m0 15v0M548 3873v52m0 16v135m0 15v0M552 3882v11m0 34v147M556 3846v21m0 25v41m0 17v45m0 14v45m0 19v6M560 3893v14m0 21v135m0 16v3M564 3891v31m0 17v127M568 3866v39m0 18v17m0 17v28m0 14v60m0 17v0M572 3876v0m0 15v0m0 34v22m0 19v9m0 15v96M576 3875v69m0 16v105M580 3836v1m0 56v0m0 15v0m0 19v144M584 3826v6m0 16v7m0 29v3m0 14v10m0 15v151M588 3821v47m0 22v20m0 30v54m0 17v54M592 3739v18m0 14v0m0 16v1m0 13v8m0 15v7m0 20v81m0 13v3m0 16v106M596 3743v11m0 45v0m0 31v3m0 13v19m0 15v140m0 27v0m0 22v0M600 3736v11m0 35v0m0 16v0m0 24v3m0 18v11m0 17v37m0 15v130M604 3733v0m0 16v38m0 17v122m0 13v6m0 13v43m0 16v2m0 18v4M608 3729v4m0 18v7m0 16v8m0 15v25m0 13v68m0 23v74m0 20v45M612 3740v8m0 13v0m0 30v203m0 24v6m0 33v0M616 3767v0m0 32v0m0 25v3m0 28v15m0 15v36m0 29v117M620 3800v1m0 17v1m0 30v0m0 14v28m0 17v136m0 19v6M624 3830v1m0 23v8m0 35v1m0 14v148M628 3896v0m0 17v9m0 18v136M632 3861v1m0 31v0m0 33v151M636 3850v0m0 16v0m0 35v11m0 24v0m0 15v130M640 3882v0m0 13v29m0 15v8m0 13v123M644 3895v0m0 26v141m0 18v0M648 3886v10m0 13v162M652 3871v3m0 21v164m0 15v0M656 3874v0m0 21v31m0 14v146M660 3815v19m0 20v0m0 17v192M664 3784v11m0 45v4m0 49v20m0 23v140M668 3804v0m0 17v11m0 15v0m0 17v8m0 16v17m0 13v24m0 16v113m0 17v0M672 3741v2m0 35v180m0 13v18m0 13v17m0 14v0m0 19v9m0 28v0M676 3703v8m0 24v0m0 41v3m0 18v5m0 17v20m0 13v67m0 16v54m0 17v43m0 34v0M680 3701v0m0 38v2m0 15v2m0 33v12m0 18v117m0 14v70m0 16v18m0 33v0M684 3746v0m0 43v14m0 15v4m0 20v42m0 27v139m0 15v0M688 3792v13m0 29v126m0 13v56m0 29v13m0 24v0M692 3766v0m0 23v0m0 23v0m0 17v54m0 24v150m0 39v0M696 3745v0m0 93v0m0 18v17m0 13v196M700 3753v0m0 58v0m0 23v124m0 15v125M704 3803v4m0 39v0m0 14v0m0 13v0m0 19v169m0 18v4m0 15v7M708 3870v111m0 13v92m0 14v1M712 3829v8m0 29v0m0 26v90m0 13v38m0 22v28M716 3836v0m0 22v0m0 37v152m0 29v29M720 3830v0m0 31v0m0 14v9m0 15v1m0 21v74m0 17v72m0 18v0M724 3784v0m0 60v21m0 21v0m0 35v24m0 16v122M728 3822v0m0 21v0m0 28v0m0 24v13m0 17v140m0 14v0M732 3843v0m0 20v26m0 21v148m0 19v9M736 3859v176m0 13v8M740 3823v4m0 35v95m0 16v75m0 14v7m0 22v0M744 3844v0m0 14v10m0 15v0m0 13v144m0 17v3M748 3842v0m0 32v6m0 21v45m0 14v128M752 3828v0m0 18v22m0 22v187M756 3819v0m0 35v0m0 16v4m0 16v30m0 19v0m0 13v130M760 3796v0m0 17v19m0 13v0m0 26v83m0 13v6m0 15v76M764 3839v18m0 15v188M768 3841v0m0 15v63m0 14v1m0 15v85m0 14v4m0 18v3M772 3787v8m0 17v11m0 17v3m0 13v4m0 18v26m0 14v117m0 25v4M776 3723v0m0 54v14m0 25v66m0 13v0m0 13v109m0 15v3m0 30v1M780 3704v0m0 34v12m0 28v7m0 22v0m0 20v32m0 13v24m0 18v8m0 14v126M784 3607v0m0 20v10m0 24v0m0 14v5m0 24v8m0 18v19m0 13v12m0 27v20m0 13v65m0 21v49m0 16v8m0 14v15m0 18v0m0 21v0M788 3572v2m0 56v0m0 25v3m0 45v1m0 17v49m0 27v6m0 19v36m0 16v0m0 18v0m0 15v0m0 21v88m0 21v22M792 3592v0m0 60v0m0 22v0m0 58v0m0 15v13m0 21v2m0 16v18m0 22v15m0 13v13m0 14v32m0 15v107m0 14v0M796 3542v7m0 70v4m0 38v0m0 26v1m0 18v0m0 26v11m0 15v0m0 36v8m0 15v6m0 26v162m0 23v0m0 27v0M800 3484v1m0 42v0m0 14v7m0 18v10m0 59v2m0 16v23m0 21v0m0 19v0m0 16v3m0 17v10m0 15v62m0 18v66m0 19v18m0 15v3m0 26v5m0 41v0M804 3528v0m0 17v0m0 28v0m0 14v1m0 16v23m0 16v38m0 24v16m0 22v3m0 18v36m0 13v47m0 13v26m0 13v14m0 21v6m0 19v0m0 25v0m0 28v0m0 25v0m0 20v0M808 3292v0m0 45v0m0 40v0m0 18v29m0 24v0m0 59v0m0 25v12m0 33v29m0 22v10m0 18v0m0 15v34m0 19v39m0 13v19m0 23v55m0 23v0m0 17v0m0 14v3m0 38v0m0 28v1m0 15v12m0 37v0M812 3181v0m0 67v0m0 22v0m0 19v7m0 28v2m0 29v76m0 41v36m0 17v6m0 13v17m0 28v3m0 23v0m0 18v11m0 13v22m0 25v26m0 19v25m0 30v5m0 34v9m0 14v34m0 17v7m0 114v0M816 3355v0m0 47v0m0 98v65m0 23v1m0 18v18m0 15v20m0 18v46m0 13v15m0 15v6m0 16v40m0 13v81m0 54v0m0 48v0M820 3555v22m0 26v0m0 18v7m0 23v9m0 20v9m0 18v119m0 15v10m0 17v13m0 13v25m0 18v3m0 17v13m0 18v0m0 17v0m0 38v0M824 3634v4m0 20v1m0 30v0m0 21v40m0 14v0m0 15v20m0 14v24m0 23v9m0 23v3m0 14v41m0 17v28m0 27v0m0 24v0M828 3573v10m0 19v0m0 53v3m0 29v0m0 13v0m0 14v7m0 33v0m0 19v5m0 19v22m0 19v13m0 15v0m0 18v10m0 17v84m0 25v45M832 3627v0m0 21v0m0 69v4m0 34v0m0 15v4m0 15v3m0 22v23m0 37v17m0 22v0m0 13v76m0 13v33M836 3653v0m0 50v0m0 41v50m0 16v10m0 26v100m0 14v53m0 21v7m0 19v5M840 3715v10m0 29v0m0 36v50m0 36v116m0 17v28M844 3677v0m0 23v0m0 39v8m0 44v2m0 14v71m0 14v110m0 18v32M848 3660v0m0 44v12m0 18v13m0 25v0m0 15v0m0 26v0m0 16v7m0 24v0m0 14v54m0 13v45m0 13v5m0 14v13m0 16v3M852 3738v22m0 13v0m0 24v0m0 18v60m0 13v139m0 26v1M856 3539v0m0 30v0m0 55v0m0 26v9m0 32v6m0 13v4m0 14v36m0 14v2m0 19v26m0 17v30m0 14v11m0 14v46m0 17v0m0 13v0m0 19v0m0 22v0M860 3429v0m0 57v0m0 62v14m0 21v0m0 22v0m0 13v0m0 15v0m0 24v10m0 26v0m0 22v21m0 16v11m0 18v14m0 17v34m0 13v6m0 17v97m0 17v0m0 19v0m0 34v0M864 3128v0m0 15v0m0 13v7m0 38v0m0 50v0m0 21v4m0 88v3m0 48v21m0 29v0m0 18v13m0 26v7m0 26v2m0 14v7m0 24v0m0 30v10m0 55v0m0 18v0m0 18v0m0 24v12m0 19v0m0 14v3m0 20v37m0 14v7m0 18v17m0 15v0m0 21v9m0 14v22m0 19v0m0 18v11M868 3004v0m0 21v3m0 18v0m0 14v8m0 26v32m0 13v0m0 27v24m0 16v3m0 15v13m0 31v26m0 17v14m0 17v12m0 16v17m0 34v0m0 17v0m0 18v1m0 37v12m0 21v5m0 13v17m0 16v7m0 17v12m0 14v0m0 18v67m0 24v21m0 42v17m0 44v0m0 21v0m0 83v0m0 22v0M872 3027v0m0 97v0m0 35v4m0 16v0m0 68v24m0 30v13m0 26v13m0 28v19m0 30v44m0 20v0m0 14v23m0 18v0m0 34v12m0 39v0m0 27v24m0 24v2m0 17v12m0 14v0m0 13v1m0 42v29m0 27v10m0 27v1m0 61v13m0 76v0M876 3169v0m0 35v0m0 23v9m0 51v12m0 17v8m0 17v14m0 32v0m0 30v12m0 21v15m0 20v0m0 15v11m0 15v15m0 13v8m0 22v21m0 13v1m0 16v0m0 33v0m0 15v16m0 45v1m0 18v22m0 15v8m0 35v22m0 22v6m0 76v0m0 59v3m0 21v0M880 3227v0m0 67v0m0 84v0m0 14v0m0 35v39m0 14v29m0 35v19m0 25v8m0 16v11m0 21v35m0 59v0m0 30v49m0 23v0m0 19v0m0 16v0m0 30v0m0 44v0m0 31v7m0 17v0m0 46v0M884 3221v0m0 18v0m0 19v21m0 13v9m0 32v0m0 34v7m0 22v0m0 13v6m0 26v0m0 17v16m0 16v39m0 16v12m0 18v12m0 58v1m0 35v0m0 35v26m0 18v15m0 15v18m0 16v5m0 22v10m0 18v0m0 21v1m0 18v0m0 37v4m0 37v12m0 49v0M888 3219v0m0 30v15m0 32v3m0 20v0m0 35v3m0 27v3m0 18v0m0 17v100m0 13v0m0 23v9m0 13v6m0 16v2m0 30v18m0 63v88m0 32v17m0 30v0m0 17v24m0 24v10m0 31v9m0 23v5m0 35v0m0 18v0M892 3272v0m0 31v0m0 48v0m0 19v1m0 29v37m0 17v0m0 18v3m0 28v0m0 40v10m0 16v0m0 37v26m0 28v3m0 17v25m0 16v14m0 13v4m0 18v7m0 14v13m0 14v60m0 26v15m0 18v4m0 46v0m0 48v11M896 3452v0m0 25v2m0 42v11m0 13v0m0 46v46m0 24v64m0 18v46m0 13v4m0 14v18m0 14v0m0 13v13m0 16v10m0 13v0m0 15v30m0 19v26m0 48v0M900 3508v0m0 57v0m0 60v5m0 49v4m0 16v8m0 33v28m0 21v4m0 14v0m0 16v105m0 36v60m0 14v4m0 16v29M904 3637v0m0 29v7m0 30v0m0 59v3m0 18v20m0 14v16m0 17v6m0 15v69m0 24v86m0 13v24M908 3704v0m0 53v1m0 35v12m0 21v0m0 41v5m0 21v39m0 14v10m0 14v0m0 18v99M912 3752v0m0 25v0m0 19v2m0 13v0m0 16v17m0 26v11m0 14v150M916 3757v0m0 15v23m0 18v55m0 15v150m0 15v14M920 3714v14m0 23v27m0 25v19m0 19v19m0 14v153m0 35v0M924 3673v1m0 16v18m0 50v0m0 23v26m0 19v41m0 13v29m0 16v82m0 16v12m0 23v3M928 3597v0m0 22v14m0 53v0m0 38v0m0 16v0m0 23v9m0 20v24m0 33v68m0 15v60m0 13v0m0 25v0m0 17v8M932 3589v6m0 78v0m0 17v7m0 27v2m0 19v0m0 29v64m0 19v6m0 13v56m0 15v52m0 43v8M936 3570v0m0 19v0m0 22v0m0 14v0m0 22v0m0 13v0m0 32v0m0 22v0m0 16v19m0 16v9m0 26v0m0 18v17m0 18v84m0 14v18m0 17v12m0 22v3M940 3552v7m0 78v0m0 20v0m0 26v0m0 15v0m0 20v13m0 14v58m0 19v136m0 30v4m0 18v0m0 34v0M944 3501v5m0 99v0m0 18v0m0 19v0m0 59v20m0 15v1m0 21v40m0 18v52m0 24v41m0 13v18m0 29v0m0 22v0m0 19v0m0 13v5M948 3431v0m0 30v0m0 76v0m0 33v0m0 13v11m0 30v0m0 37v38m0 19v0m0 19v18m0 17v7m0 21v121m0 56v3m0 13v10m0 44v5M952 3380v0m0 20v0m0 139v0m0 61v0m0 39v21m0 28v3m0 16v32m0 20v88m0 20v50m0 15v45m0 14v26m0 33v0M956 3337v0m0 58v3m0 31v0m0 21v8m0 15v0m0 14v2m0 51v14m0 31v8m0 15v0m0 33v46m0 24v2m0 14v4m0 32v25m0 17v15m0 41v25m0 17v57m0 22v0m0 13v0m0 38v0M960 3351v6m0 19v0m0 67v5m0 15v0m0 72v0m0 23v7m0 46v4m0 29v0m0 15v4m0 17v13m0 36v0m0 13v36m0 16v25m0 31v0m0 38v0m0 13v29m0 15v26m0 14v21m0 24v0m0 19v0M964 3434v0m0 50v0m0 32v0m0 24v0m0 33v9m0 19v0m0 20v9m0 60v0m0 22v0m0 24v54m0 18v3m0 18v0m0 15v21m0 13v35m0 22v26m0 16v8m0 13v8M968 3438v0m0 21v0m0 51v0m0 26v21m0 42v18m0 16v0m0 20v16m0 17v8m0 21v8m0 20v27m0 17v12m0 13v0m0 14v11m0 15v103m0 21v16m0 26v0M972 3256v0m0 28v0m0 79v0m0 135v0m0 39v0m0 32v21m0 33v0m0 26v35m0 14v0m0 32v17m0 22v2m0 13v2m0 19v12m0 13v3m0 13v67m0 13v12m0 16v25m0 14v7m0 32v17m0 17v0M976 3256v5m0 15v10m0 15v6m0 43v0m0 29v11m0 28v2m0 14v10m0 31v19m0 25v11m0 20v34m0 18v50m0 16v36m0 36v21m0 18v11m0 13v43m0 24v22m0 16v10m0 23v30M980 3412v0m0 25v0m0 47v0m0 17v0m0 22v0m0 28v19m0 29v1m0 14v0m0 21v0m0 27v34m0 22v15m0 21v4m0 19v7m0 18v38m0 15v0m0 16v2m0 18v40m0 21v1m0 19v6m0 62v0M984 3452v0m0 44v11m0 18v0m0 37v0m0 17v0m0 29v14m0 26v15m0 16v9m0 13v55m0 16v23m0 18v11m0 14v13m0 27v11m0 14v40m0 13v0m0 19v3m0 25v25m0 33v0M988 3529v0m0 45v0m0 71v4m0 15v8m0 44v41m0 15v51m0 14v4m0 33v32m0 13v4m0 14v22m0 19v41M992 3598v0m0 16v0m0 53v3m0 42v15m0 19v0m0 16v4m0 14v48m0 15v23m0 15v105m0 21v0m0 53v0M996 3681v12m0 40v61m0 18v11m0 14v16m0 18v97m0 24v9m0 15v2m0 41v0M1000 3598v0m0 20v0m0 52v3m0 24v17m0 17v0m0 22v35m0 17v15m0 20v0m0 17v11m0 16v9m0 13v73m0 13v43m0 13v2M1004 3696v5m0 34v27m0 20v60m0 15v125m0 14v0m0 24v0M1008 3689v0m0 40v0m0 24v22m0 15v8m0 13v161m0 13v17M1012 3626v0m0 82v1m0 16v0m0 28v0m0 17v68m0 20v5m0 13v98m0 15v25M1016 3627v0m0 42v0m0 80v37m0 22v19m0 15v10m0 22v25m0 22v2m0 13v98m0 21v6M1020 3542v0m0 31v0m0 51v0m0 95v8m0 13v46m0 30v22m0 19v86m0 13v47m0 23v7m0 29v2M1024 3599v0m0 44v0m0 38v0m0 22v0m0 47v9m0 25v1m0 20v70m0 30v14m0 13v63m0 23v22m0 15v0M1028 3526v1m0 66v2m0 18v10m0 31v0m0 29v0m0 25v0m0 40v31m0 18v9m0 19v9m0 15v6m0 16v3m0 17v12m0 20v4m0 14v43m0 22v38m0 23v0M1032 3519v0m0 24v0m0 42v0m0 16v3m0 16v0m0 15v12m0 16v17m0 18v102m0 17v0m0 41v4m0 15v11m0 28v4m0 22v0m0 16v0m0 13v1m0 28v0m0 16v1m0 37v16M1036 3554v0m0 25v14m0 70v0m0 14v13m0 18v3m0 28v65m0 27v20m0 13v31m0 17v46m0 13v2m0 14v5m0 24v12m0 16v0m0 17v8M1040 3616v0m0 42v0m0 33v25m0 37v38m0 14v8m0 16v14m0 23v4m0 14v9m0 17v52m0 14v26m0 27v0m0 41v0M1044 3594v0m0 16v3m0 44v0m0 24v0m0 13v21m0 31v0m0 15v26m0 13v85m0 17v72m0 30v0m0 25v0m0 13v0m0 13v0M1048 3590v0m0 39v9m0 23v2m0 24v22m0 17v38m0 21v103m0 16v31m0 20v38m0 17v0m0 27v12M1052 3534v0m0 61v0m0 38v0m0 20v2m0 30v2m0 27v0m0 22v0m0 18v4m0 22v32m0 20v15m0 24v7m0 16v53m0 13v54m0 18v4m0 32v0M1056 3579v0m0 24v11m0 24v8m0 52v0m0 17v33m0 14v0m0 23v0m0 25v0m0 37v8m0 13v0m0 20v0m0 13v138m0 16v0M1060 3421v11m0 83v0m0 35v18m0 29v0m0 104v12m0 15v14m0 15v2m0 17v9m0 16v22m0 19v10m0 19v0m0 16v10m0 13v53m0 15v14m0 15v21m0 16v22M1064 3442v12m0 23v12m0 23v0m0 30v27m0 25v9m0 13v50m0 31v31m0 17v7m0 22v12m0 19v11m0 17v18m0 20v0m0 24v22m0 24v12m0 17v0m0 15v6m0 36v2m0 22v0M1068 3485v4m0 34v4m0 15v11m0 23v0m0 59v0m0 29v22m0 18v3m0 13v46m0 20v13m0 22v23m0 19v58m0 16v31m0 20v0m0 18v3m0 16v12m0 25v0M1072 3563v8m0 70v12m0 19v0m0 47v0m0 25v12m0 14v57m0 24v125m0 27v0m0 13v9M1076 3586v1m0 20v9m0 32v8m0 19v22m0 21v0m0 16v1m0 20v13m0 16v15m0 14v2m0 22v0m0 13v33m0 18v26m0 18v42m0 17v9M1080 3638v0m0 42v5m0 37v0m0 17v0m0 42v17m0 17v0m0 16v20m0 15v25m0 13v107m0 15v0m0 16v9m0 16v1M1084 3686v2m0 47v0m0 42v6m0 32v68m0 14v114m0 13v19m0 27v0M1088 3648v0m0 18v22m0 23v11m0 15v64m0 17v29m0 14v41m0 25v61m0 36v0m0 34v14M1092 3722v0m0 26v1m0 48v113m0 13v106m0 44v0M1096 3717v0m0 27v0m0 14v0m0 20v0m0 33v4m0 43v12m0 25v130m0 18v25M1100 3677v0m0 43v4m0 51v8m0 15v69m0 15v20m0 23v75m0 14v36m0 17v0M1104 3713v0m0 22v2m0 55v29m0 18v26m0 14v29m0 13v111m0 20v14M1108 3693v17m0 21v0m0 42v26m0 25v83m0 13v114m0 28v0M1112 3804v0m0 21v189m0 13v19M1116 3629v0m0 51v9m0 45v0m0 41v164m0 15v57m0 15v0m0 19v12M1120 3699v25m0 19v0m0 14v0m0 22v19m0 17v66m0 13v100m0 42v0M1124 3692v0m0 13v79m0 14v0m0 13v43m0 16v112m0 17v3m0 13v0m0 30v0M1128 3668v3m0 20v0m0 46v5m0 16v124m0 15v5m0 18v30m0 16v23m0 14v2m0 16v0M1132 3642v1m0 30v0m0 39v18m0 25v0m0 26v11m0 13v35m0 15v16m0 19v0m0 17v142M1136 3667v5m0 30v0m0 43v39m0 28v41m0 19v20m0 16v11m0 16v93M1140 3757v3m0 21v51m0 14v160m0 18v0m0 25v0M1144 3753v53m0 15v5m0 21v127m0 14v51m0 13v0M1148 3725v0m0 17v6m0 26v0m0 13v9m0 14v0m0 14v231M1152 3745v3m0 32v4m0 40v26m0 15v0m0 13v163M1156 3771v14m0 23v3m0 23v0m0 17v14m0 14v117m0 15v9m0 23v0m0 17v0M1160 3803v1m0 14v48m0 14v57m0 14v39m0 13v25m0 22v9M1164 3792v11m0 19v1m0 30v0m0 14v27m0 20v15m0 13v120M1168 3816v0m0 14v0m0 18v13m0 19v51m0 13v1m0 17v45m0 13v46M1172 3843v6m0 21v12m0 15v156m0 15v0M1176 3798v0m0 41v1m0 30v144m0 13v6M1180 3796v3m0 28v7m0 17v65m0 14v1m0 17v5m0 15v108M1184 3799v0m0 13v27m0 17v2m0 13v170m0 17v0M1188 3817v127m0 15v65m0 13v12M1192 3762v11m0 44v68m0 13v146m0 15v1M1196 3826v47m0 19v186M1200 3800v0m0 20v0m0 40v19m0 49v38m0 13v85m0 15v0M1204 3782v0m0 31v8m0 19v136m0 13v58M1208 3685v0m0 37v0m0 19v12m0 30v0m0 13v2m0 14v19m0 21v91m0 16v108M1212 3737v0m0 32v0m0 16v0m0 27v0m0 15v17m0 14v146m0 16v0m0 50v0M1216 3740v0m0 54v0m0 13v67m0 20v29m0 18v24m0 14v71m0 18v0m0 14v0M1220 3682v0m0 36v0m0 13v0m0 16v0m0 15v0m0 13v6m0 13v21m0 13v49m0 17v26m0 17v88m0 14v30M1224 3722v10m0 25v18m0 16v0m0 13v18m0 13v17m0 17v10m0 19v74m0 13v41m0 14v17m0 27v0M1228 3793v27m0 14v14m0 15v5m0 20v152m0 19v0m0 17v9M1232 3693v0m0 94v10m0 15v8m0 13v42m0 18v42m0 27v78m0 13v10m0 23v0M1236 3738v0m0 79v2m0 31v0m0 37v0m0 29v152m0 14v5M1240 3783v0m0 17v8m0 14v0m0 15v12m0 17v208m0 15v0M1244 3775v3m0 17v0m0 15v38m0 30v14m0 15v14m0 21v118m0 21v0M1248 3754v4m0 36v0m0 16v32m0 13v210m0 27v0M1252 3758v0m0 72v0m0 23v0m0 36v196M1256 3758v0m0 13v0m0 47v0m0 13v17m0 14v11m0 14v149m0 15v12M1260 3796v0m0 21v0m0 15v3m0 20v11m0 14v0m0 34v0m0 15v147m0 17v0M1264 3788v16m0 21v24m0 19v0m0 24v46m0 13v33m0 17v61m0 31v0M1268 3709v0m0 34v0m0 16v11m0 15v2m0 48v6m0 14v8m0 15v0m0 13v39m0 14v7m0 24v98m0 19v0M1272 3662v7m0 59v0m0 19v0m0 16v0m0 18v178m0 13v50m0 19v12M1276 3593v2m0 79v17m0 15v8m0 13v27m0 20v0m0 30v0m0 18v0m0 15v1m0 16v11m0 18v0m0 15v0m0 16v129m0 20v7m0 17v7M1280 3565v0m0 56v0m0 21v50m0 38v16m0 27v8m0 18v41m0 15v16m0 14v76m0 14v6m0 38v17m0 13v0m0 25v0M1284 3515v0m0 20v0m0 25v0m0 21v0m0 13v0m0 16v0m0 42v42m0 14v14m0 25v83m0 21v88m0 13v23m0 14v18m0 39v0m0 36v0M1288 3500v0m0 40v4m0 16v4m0 20v50m0 24v62m0 20v7m0 18v16m0 18v10m0 18v26m0 15v0m0 17v5m0 14v6m0 14v23m0 15v1m0 13v13m0 13v7m0 20v19M1292 3516v0m0 125v0m0 20v0m0 32v0m0 49v9m0 18v31m0 27v64m0 19v17m0 13v98m0 13v11M1296 3628v0m0 26v0m0 18v0m0 68v12m0 33v14m0 15v33m0 13v32m0 20v91m0 13v53m0 15v0M1300 3601v0m0 37v0m0 55v25m0 14v4m0 19v9m0 17v0m0 20v16m0 18v74m0 17v69m0 32v6m0 16v11M1304 3646v0m0 21v0m0 31v18m0 29v0m0 13v37m0 18v112m0 15v70m0 20v10m0 42v0M1308 3675v9m0 46v10m0 24v0m0 21v5m0 19v0m0 36v153m0 13v14m0 20v0m0 13v9m0 16v0M1312 3749v0m0 28v0m0 16v0m0 25v174m0 16v4m0 22v0m0 28v7M1316 3744v93m0 13v74m0 21v2m0 16v16m0 22v22m0 51v13M1320 3737v4m0 17v0m0 20v37m0 19v205m0 48v0M1324 3739v11m0 28v17m0 13v0m0 20v222m0 38v0M1328 3677v0m0 53v4m0 19v0m0 14v9m0 24v19m0 19v2m0 14v102m0 14v70m0 13v0m0 28v0M1332 3605v0m0 77v0m0 66v0m0 37v8m0 21v38m0 14v23m0 15v119m0 16v11m0 19v0m0 25v0M1336 3732v0m0 14v2m0 26v0m0 43v0m0 13v15m0 15v25m0 15v106m0 14v44m0 18v0M1340 3721v0m0 41v15m0 35v14m0 39v0m0 29v3m0 28v145m0 13v9M1344 3728v0m0 79v3m0 54v37m0 22v53m0 19v63m0 13v21M1348 3848v0m0 35v166m0 17v4m0 16v0M1352 3773v0m0 32v5m0 24v12m0 17v23m0 14v178m0 20v0M1356 3770v1m0 17v0m0 15v19m0 44v93m0 17v36m0 13v48M1360 3691v0m0 39v35m0 55v10m0 17v8m0 17v24m0 17v0m0 21v162M1364 3707v0m0 50v0m0 15v0m0 85v81m0 15v0m0 16v93m0 31v0M1368 3750v0m0 57v0m0 58v0m0 20v13m0 15v7m0 24v14m0 16v118M1372 3737v0m0 32v0m0 33v0m0 46v0m0 15v0m0 14v9m0 16v0m0 16v0m0 16v6m0 16v13m0 20v99M1376 3684v0m0 69v0m0 17v21m0 15v0m0 18v25m0 37v0m0 17v25m0 15v134M1380 3630v0m0 35v26m0 19v0m0 20v0m0 15v25m0 13v29m0 15v32m0 13v11m0 24v59m0 14v44m0 44v2M1384 3647v19m0 45v7m0 18v16m0 13v64m0 23v132m0 14v27m0 19v11m0 34v0M1388 3700v12m0 54v0m0 35v0m0 16v12m0 13v10m0 32v15m0 19v135M1392 3742v0m0 48v0m0 68v0m0 19v9m0 19v79m0 13v56m0 27v0M1396 3730v0m0 13v5m0 38v0m0 27v5m0 20v11m0 43v15m0 16v9m0 19v127M1400 3729v0m0 33v0m0 19v0m0 31v12m0 20v18m0 13v0m0 13v189M1404 3717v18m0 39v0m0 33v0m0 21v1m0 20v10m0 23v9m0 16v23m0 19v99M1408 3698v7m0 39v0m0 18v0m0 27v0m0 17v8m0 22v5m0 13v168m0 34v0M1412 3727v0m0 43v12m0 15v0m0 17v16m0 24v14m0 14v72m0 13v53m0 19v25M1416 3644v9m0 43v0m0 45v40m0 22v39m0 19v3m0 25v114m0 14v43m0 13v0M1420 3678v0m0 21v0m0 23v0m0 37v0m0 15v71m0 23v21m0 14v30m0 13v95m0 24v0M1424 3654v6m0 37v4m0 44v13m0 21v10m0 14v7m0 20v2m0 16v17m0 15v45m0 30v94m0 22v0M1428 3602v0m0 13v0m0 25v0m0 76v4m0 28v21m0 16v23m0 15v157m0 15v2m0 16v33m0 23v1M1432 3574v0m0 29v4m0 18v0m0 17v0m0 32v0m0 14v11m0 31v1m0 13v1m0 17v7m0 13v13m0 14v14m0 16v119m0 14v50m0 46v0M1436 3604v2m0 57v8m0 15v0m0 18v10m0 14v35m0 24v6m0 24v17m0 15v0m0 41v10m0 16v110m0 27v4m0 19v0M1440 3664v0m0 19v12m0 91v0m0 17v20m0 18v56m0 13v44m0 16v73M1444 3657v0m0 25v5m0 15v0m0 19v0m0 15v0m0 14v10m0 13v106m0 19v100m0 43v33M1448 3566v7m0 94v30m0 26v12m0 13v1m0 13v83m0 18v49m0 17v11m0 15v41m0 17v12m0 35v10M1452 3619v0m0 41v0m0 19v1m0 19v0m0 14v6m0 23v2m0 23v5m0 16v149m0 17v7m0 18v5m0 15v9m0 54v0M1456 3586v11m0 67v31m0 14v4m0 16v34m0 13v44m0 15v29m0 17v29m0 15v13m0 13v0m0 15v12m0 13v5m0 28v2m0 21v0m0 24v0M1460 3536v5m0 50v1m0 21v20m0 36v27m0 18v0m0 14v52m0 13v4m0 16v1m0 29v0m0 13v54m0 15v34m0 47v0m0 62v0M1464 3555v0m0 33v0m0 41v13m0 19v0m0 17v6m0 14v3m0 13v56m0 23v15m0 15v12m0 15v0m0 14v0m0 15v73m0 18v30m0 19v3m0 30v11M1468 3439v0m0 16v0m0 22v0m0 28v0m0 30v29m0 82v0m0 35v49m0 18v4m0 13v10m0 34v7m0 23v0m0 17v68m0 17v21m0 20v11m0 18v0m0 13v5m0 38v0M1472 3551v0m0 29v17m0 25v0m0 14v18m0 28v0m0 13v0m0 25v31m0 16v12m0 16v31m0 13v80m0 15v29m0 15v12m0 80v0M1476 3473v0m0 103v0m0 37v0m0 23v9m0 22v11m0 29v0m0 16v15m0 14v35m0 14v20m0 23v0m0 20v53m0 14v0m0 21v16m0 14v0m0 19v0m0 22v17m0 31v8M1480 3510v0m0 34v0m0 25v0m0 27v13m0 16v6m0 28v12m0 17v23m0 17v28m0 13v85m0 21v32m0 28v0m0 14v0m0 27v11M1484 3489v16m0 36v12m0 16v20m0 21v7m0 18v34m0 27v4m0 23v0m0 14v35m0 31v8m0 23v26m0 14v13m0 23v3m0 20v0m0 16v21m0 31v0m0 23v0m0 18v0m0 30v4M1488 3541v0m0 40v0m0 23v0m0 30v6m0 58v0m0 24v26m0 15v3m0 13v16m0 21v95m0 17v66m0 15v8m0 35v9M1492 3595v11m0 24v0m0 32v0m0 31v0m0 15v12m0 21v8m0 16v69m0 17v120m0 23v13m0 33v0m0 20v0M1496 3464v0m0 38v0m0 41v34m0 37v17m0 29v0m0 23v0m0 35v2m0 13v76m0 21v5m0 13v18m0 16v41m0 14v46m0 17v19m0 32v9M1500 3556v12m0 17v0m0 16v0m0 24v34m0 15v49m0 16v30m0 13v0m0 21v6m0 13v144m0 16v0m0 21v0M1504 3615v5m0 16v0m0 24v10m0 35v0m0 15v36m0 24v72m0 14v7m0 19v44m0 19v41m0 14v0m0 17v7M1508 3547v0m0 14v0m0 87v14m0 26v19m0 16v50m0 21v9m0 21v29m0 14v21m0 17v121m0 32v0M1512 3694v22m0 50v0m0 14v12m0 14v32m0 13v0m0 13v1m0 13v135m0 25v6M1516 3556v4m0 52v0m0 14v0m0 19v0m0 22v2m0 22v0m0 13v35m0 13v22m0 13v20m0 14v31m0 13v19m0 15v26m0 13v29m0 17v4m0 18v22M1520 3523v0m0 48v0m0 17v0m0 44v20m0 14v7m0 32v31m0 14v21m0 15v18m0 20v10m0 13v66m0 14v35m0 31v6m0 17v7m0 13v0M1524 3564v0m0 33v5m0 15v21m0 15v46m0 13v54m0 19v10m0 14v36m0 16v26m0 15v27m0 64v0m0 67v1M1528 3551v20m0 53v0m0 35v116m0 15v0m0 14v16m0 27v0m0 14v14m0 18v7m0 24v27m0 25v12m0 31v0m0 37v1M1532 3496v0m0 97v0m0 24v11m0 13v87m0 21v48m0 22v0m0 16v77m0 34v0m0 29v18m0 22v13m0 37v1M1536 3425v0m0 60v29m0 26v0m0 31v0m0 21v0m0 32v12m0 33v7m0 22v7m0 32v0m0 13v16m0 30v88m0 13v38m0 13v25m0 15v28m0 13v0m0 13v1m0 26v1M1540 3587v0m0 76v10m0 49v0m0 29v0m0 35v41m0 13v5m0 19v7m0 19v9m0 13v130m0 14v12M1544 3631v0m0 56v0m0 28v0m0 30v17m0 21v71m0 30v29m0 23v131M1548 3754v0m0 36v10m0 13v31m0 24v8m0 14v156m0 18v0M1552 3726v0m0 26v5m0 20v0m0 18v21m0 19v27m0 15v141m0 21v15m0 14v0M1556 3633v2m0 50v18m0 31v36m0 20v2m0 14v2m0 30v39m0 17v11m0 15v39m0 17v71m0 20v0M1560 3604v0m0 21v35m0 15v10m0 29v4m0 15v0m0 53v4m0 19v49m0 13v8m0 14v14m0 14v8m0 13v82m0 42v0M1564 3580v0m0 23v5m0 34v0m0 29v0m0 35v18m0 28v40m0 23v4m0 14v98m0 23v18m0 14v13m0 30v0m0 34v0M1568 3585v0m0 25v0m0 23v20m0 23v0m0 40v9m0 15v17m0 19v14m0 13v22m0 22v21m0 13v23m0 15v53m0 13v23m0 14v15M1572 3552v0m0 40v0m0 44v0m0 24v0m0 23v10m0 16v0m0 25v0m0 26v0m0 21v5m0 23v20m0 33v41m0 21v111m0 13v14M1576 3598v0m0 23v0m0 81v20m0 18v0m0 13v8m0 19v7m0 22v11m0 19v183M1580 3589v0m0 34v6m0 24v0m0 30v0m0 15v14m0 22v5m0 25v8m0 14v122m0 13v40m0 15v3m0 13v4m0 21v0M1584 3621v12m0 41v10m0 15v0m0 16v17m0 28v28m0 13v143m0 27v15m0 57v0M1588 3484v0m0 98v10m0 81v21m0 18v0m0 26v1m0 16v11m0 13v55m0 18v25m0 17v39m0 15v40m0 15v5m0 24v0m0 19v0M1592 3431v0m0 27v7m0 56v1m0 38v0m0 19v0m0 24v0m0 46v6m0 24v12m0 21v38m0 19v0m0 20v6m0 17v5m0 26v20m0 14v61m0 28v0m0 17v19m0 22v38m0 14v0M1596 3437v0m0 82v25m0 18v9m0 52v0m0 24v0m0 35v5m0 17v1m0 34v48m0 32v95m0 18v32m0 18v15m0 17v6m0 14v0m0 30v0M1600 3430v0m0 44v0m0 45v0m0 48v0m0 28v11m0 13v0m0 17v64m0 17v20m0 18v15m0 14v74m0 22v7m0 13v45m0 21v15m0 87v0M1604 3445v1m0 76v0m0 74v5m0 24v14m0 34v0m0 45v46m0 23v1m0 13v50m0 14v10m0 14v2m0 17v83m0 15v48M1608 3492v0m0 31v6m0 53v0m0 13v0m0 23v70m0 15v26m0 13v42m0 16v28m0 18v4m0 24v103m0 62v0M1612 3388v0m0 85v0m0 14v0m0 44v0m0 38v10m0 58v3m0 16v0m0 24v0m0 15v25m0 17v4m0 22v28m0 21v102m0 15v41m0 24v16m0 20v9m0 25v0M1616 3345v0m0 61v0m0 57v18m0 45v0m0 71v7m0 17v57m0 15v32m0 14v4m0 14v15m0 23v0m0 18v43m0 16v0m0 23v9m0 28v0m0 27v0m0 25v40m0 52v0M1620 3325v19m0 36v0m0 14v1m0 68v0m0 30v0m0 18v0m0 13v0m0 13v0m0 27v22m0 44v0m0 21v10m0 29v10m0 30v0m0 20v2m0 18v0m0 40v34m0 26v152m0 22v0M1624 3364v1m0 177v7m0 20v0m0 14v3m0 15v6m0 32v0m0 20v10m0 44v0m0 13v10m0 23v10m0 28v0m0 19v31m0 19v11m0 27v22m0 13v19m0 20v32m0 18v6m0 26v1m0 13v12M1628 3308v0m0 72v0m0 64v3m0 14v0m0 38v0m0 25v0m0 47v25m0 38v3m0 37v32m0 25v15m0 15v0m0 23v13m0 18v16m0 15v7m0 15v28m0 15v15m0 14v48m0 13v31m0 52v0M1632 3309v1m0 73v0m0 20v0m0 29v0m0 31v0m0 30v7m0 24v22m0 25v0m0 13v4m0 19v1m0 16v12m0 16v3m0 19v2m0 16v4m0 35v33m0 24v0m0 21v26m0 16v16m0 21v0m0 26v14m0 20v0m0 38v10m0 19v0m0 14v1m0 16v16m0 40v0M1636 3199v0m0 73v5m0 37v7m0 20v0m0 13v12m0 17v24m0 23v22m0 13v1m0 16v38m0 16v0m0 13v9m0 17v4m0 50v31m0 19v5m0 13v35m0 45v20m0 14v18m0 25v2m0 31v0m0 20v10m0 21v0m0 38v0m0 29v11m0 23v0m0 50v0M1640 3185v0m0 53v0m0 90v12m0 34v7m0 99v0m0 17v0m0 22v0m0 65v0m0 48v0m0 31v2m0 14v19m0 17v0m0 23v6m0 24v28m0 15v27m0 13v103m0 13v2m0 32v8m0 18v3m0 24v0m0 25v2M1644 3145v0m0 19v0m0 73v0m0 29v0m0 31v0m0 50v0m0 21v11m0 21v32m0 29v0m0 13v3m0 24v19m0 17v0m0 45v0m0 14v38m0 35v0m0 19v9m0 19v0m0 15v5m0 25v0m0 13v0m0 23v14m0 24v14m0 26v0m0 20v0m0 35v0m0 48v0m0 23v0m0 57v16M1648 3089v11m0 27v1m0 58v1m0 19v17m0 20v0m0 33v0m0 45v2m0 19v0m0 28v0m0 28v0m0 25v0m0 57v0m0 19v8m0 16v4m0 23v22m0 17v35m0 22v9m0 15v9m0 15v5m0 24v0m0 18v30m0 27v8m0 41v0m0 28v8m0 15v41m0 85v0m0 15v0m0 31v0M1652 3104v0m0 90v0m0 21v0m0 16v0m0 16v5m0 64v12m0 39v0m0 40v2m0 25v0m0 13v16m0 20v8m0 23v29m0 13v22m0 13v0m0 13v7m0 69v0m0 13v46m0 22v0m0 30v18m0 13v30m0 38v9m0 18v0m0 13v0m0 28v0m0 16v0m0 21v0m0 31v0m0 31v9M1656 3283v0m0 17v7m0 71v0m0 30v4m0 13v11m0 23v0m0 31v2m0 13v5m0 22v18m0 18v7m0 16v22m0 20v12m0 22v2m0 27v9m0 13v30m0 16v0m0 26v19m0 29v0m0 18v10m0 14v8m0 17v0m0 28v11m0 31v0m0 15v10m0 39v0m0 23v0M1660 3105v10m0 15v11m0 21v0m0 29v0m0 15v0m0 14v0m0 28v0m0 13v19m0 63v22m0 13v0m0 19v4m0 27v25m0 20v4m0 14v0m0 14v0m0 26v8m0 14v37m0 15v9m0 14v0m0 19v1m0 34v7m0 28v1m0 32v44m0 13v2m0 14v0m0 21v0m0 15v7m0 15v5m0 73v0M1664 3126v4m0 37v0m0 43v0m0 37v0m0 21v14m0 26v0m0 15v0m0 20v0m0 21v3m0 35v0m0 13v1m0 20v0m0 55v25m0 23v24m0 33v0m0 19v21m0 21v21m0 16v4m0 23v26m0 28v1m0 19v34m0 16v7m0 16v1m0 35v0m0 23v0m0 21v0M1668 3226v5m0 39v0m0 83v0m0 42v3m0 22v8m0 43v0m0 39v0m0 23v7m0 15v23m0 55v0m0 14v0m0 15v3m0 17v0m0 15v16m0 15v0m0 16v2m0 13v33m0 20v9m0 19v11m0 19v0m0 21v32m0 13v1m0 74v1M1672 3274v12m0 93v0m0 21v0m0 14v0m0 49v0m0 52v20m0 16v20m0 17v0m0 26v41m0 29v29m0 23v0m0 16v24m0 22v70m0 16v13m0 37v10m0 21v0m0 16v0m0 20v13M1676 3291v3m0 57v0m0 16v7m0 64v9m0 21v0m0 18v0m0 28v27m0 21v63m0 29v5m0 15v10m0 23v0m0 20v41m0 24v0m0 22v16m0 18v16m0 23v0m0 84v0m0 25v10M1680 3373v1m0 71v0m0 20v13m0 14v15m0 33v5m0 18v41m0 13v11m0 17v10m0 19v9m0 15v51m0 18v31m0 14v17m0 13v0m0 19v0m0 14v0m0 16v0m0 18v0m0 25v4m0 70v0M1684 3323v0m0 13v5m0 63v3m0 29v0m0 13v3m0 30v0m0 19v9m0 17v22m0 19v17m0 28v0m0 17v59m0 22v0m0 20v23m0 20v17m0 37v15m0 21v24m0 15v6m0 15v4m0 15v10m0 49v0M1688 3296v0m0 82v0m0 28v0m0 14v0m0 43v18m0 13v6m0 13v0m0 16v30m0 19v54m0 20v0m0 20v7m0 28v38m0 18v77m0 21v0m0 17v0m0 14v15m0 21v0m0 22v7m0 14v0M1692 3389v0m0 26v0m0 18v7m0 28v12m0 54v0m0 30v0m0 19v0m0 31v47m0 24v5m0 15v0m0 15v28m0 17v61m0 17v45m0 13v18m0 24v0m0 14v4m0 51v0M1696 3319v0m0 119v0m0 89v12m0 18v10m0 32v0m0 25v0m0 17v11m0 22v43m0 37v35m0 21v35m0 14v36m0 17v0m0 14v3m0 15v12m0 69v0M1700 3357v0m0 25v0m0 109v0m0 32v0m0 26v15m0 26v8m0 50v2m0 23v4m0 35v7m0 16v4m0 17v22m0 15v4m0 22v75m0 19v20m0 13v11m0 22v0m0 15v12M1704 3407v0m0 18v16m0 98v0m0 13v19m0 29v2m0 39v8m0 15v30m0 15v0m0 14v45m0 14v40m0 20v100m0 61v0m0 38v0M1708 3467v0m0 16v0m0 25v0m0 35v9m0 16v10m0 18v14m0 22v0m0 20v0m0 26v8m0 29v0m0 15v45m0 13v99m0 14v10m0 14v16m0 24v0m0 18v0M1712 3455v0m0 52v0m0 115v10m0 51v0m0 33v48m0 25v20m0 15v12m0 13v3m0 14v114m0 15v7m0 16v12m0 15v0M1716 3401v10m0 18v0m0 13v2m0 44v52m0 21v6m0 30v0m0 17v21m0 45v23m0 38v7m0 14v59m0 16v42m0 21v30m0 16v2m0 15v10m0 13v1m0 25v1m0 22v0M1720 3394v0m0 114v0m0 33v0m0 39v0m0 27v0m0 31v32m0 26v0m0 13v65m0 13v49m0 19v34m0 18v33m0 20v1m0 34v0m0 26v23M1724 3418v0m0 34v10m0 30v0m0 35v0m0 35v10m0 38v4m0 15v0m0 17v0m0 21v6m0 17v145m0 15v30m0 27v0m0 17v0m0 19v0m0 18v0m0 14v0m0 23v12m0 34v0M1728 3408v0m0 50v1m0 45v0m0 19v0m0 25v0m0 34v28m0 50v7m0 24v80m0 17v3m0 25v25m0 15v0m0 16v34m0 14v0m0 28v0m0 33v46m0 13v6M1732 3444v2m0 28v0m0 48v1m0 87v0m0 35v0m0 30v105m0 15v47m0 14v25m0 17v45m0 15v4m0 15v2m0 15v34m0 21v1M1736 3556v4m0 21v0m0 37v0m0 34v0m0 22v0m0 24v0m0 19v0m0 14v0m0 29v0m0 15v0m0 15v19m0 14v0m0 14v128m0 35v0m0 14v0m0 36v1M1740 3534v12m0 20v11m0 23v30m0 17v12m0 43v24m0 20v27m0 14v1m0 18v0m0 13v27m0 15v71m0 17v1m0 24v2m0 16v12m0 26v0m0 23v11M1744 3596v0m0 29v8m0 14v11m0 14v0m0 13v41m0 23v50m0 28v0m0 16v20m0 21v51m0 15v32m0 16v1m0 14v0m0 22v11m0 21v2M1748 3689v0m0 51v0m0 19v61m0 22v44m0 15v0m0 17v81m0 13v36m0 22v0M1752 3625v7m0 32v35m0 69v0m0 22v0m0 15v4m0 19v0m0 18v0m0 16v37m0 15v124m0 20v0m0 14v0M1756 3672v0m0 20v0m0 24v18m0 27v0m0 23v23m0 13v31m0 17v40m0 14v69m0 15v19m0 13v0m0 34v0M1760 3640v0m0 105v0m0 20v5m0 13v0m0 30v8m0 20v20m0 24v160m0 24v5M1764 3644v2m0 21v8m0 25v0m0 21v0m0 21v19m0 16v91m0 13v17m0 14v10m0 24v56m0 20v11m0 44v2M1768 3599v0m0 137v4m0 15v23m0 16v86m0 14v49m0 22v32m0 20v10m0 41v0m0 16v0M1772 3641v0m0 82v22m0 13v2m0 17v10m0 14v117m0 13v29m0 20v33m0 17v25M1776 3753v6m0 31v9m0 15v47m0 17v82m0 19v47m0 19v6m0 28v0M1780 3655v0m0 23v0m0 40v0m0 24v0m0 44v41m0 16v1m0 13v38m0 15v7m0 20v87m0 22v8M1784 3655v0m0 30v17m0 44v9m0 36v26m0 14v18m0 15v130m0 27v8m0 16v11m0 15v3M1788 3771v0m0 22v86m0 17v0m0 16v105m0 13v26m0 14v11M1792 3596v0m0 45v19m0 22v21m0 17v41m0 18v2m0 17v8m0 15v20m0 16v84m0 17v30m0 22v0m0 31v0m0 39v0M1796 3605v0m0 27v0m0 46v0m0 13v1m0 22v5m0 18v0m0 21v24m0 20v0m0 18v136m0 13v5m0 17v13m0 21v0m0 25v0m0 28v0M1800 3534v9m0 14v15m0 43v8m0 14v0m0 23v14m0 17v3m0 14v14m0 18v9m0 18v27m0 13v0m0 16v72m0 18v70m0 16v13m0 30v10m0 19v0M1804 3562v1m0 39v0m0 18v0m0 76v12m0 30v10m0 22v14m0 14v14m0 31v12m0 19v2m0 13v0m0 13v116m0 29v10M1808 3650v11m0 14v0m0 45v6m0 13v34m0 15v57m0 16v0m0 18v53m0 16v3m0 16v18m0 33v0m0 13v16M1812 3300v0m0 21v0m0 62v4m0 42v0m0 15v0m0 33v18m0 50v3m0 16v0m0 15v19m0 24v17m0 14v30m0 14v0m0 15v5m0 13v32m0 13v0m0 18v0m0 24v9m0 17v11m0 21v0m0 24v18m0 13v15m0 20v0m0 28v0M1816 3283v8m0 54v4m0 19v0m0 55v0m0 65v8m0 73v16m0 40v7m0 18v2m0 21v3m0 32v25m0 23v8m0 22v26m0 13v30m0 18v19m0 21v10m0 15v17m0 20v17m0 20v0m0 35v13M1820 3266v3m0 43v10m0 37v2m0 38v8m0 72v10m0 82v60m0 17v0m0 14v0m0 13v0m0 33v2m0 15v0m0 19v14m0 16v0m0 18v15m0 19v29m0 16v7m0 21v2m0 13v71m0 41v6m0 28v0m0 17v0M1824 3420v0m0 20v7m0 22v11m0 17v0m0 39v11m0 45v5m0 37v9m0 41v91m0 14v36m0 50v53m0 19v31m0 24v9m0 67v0M1828 3445v0m0 18v8m0 37v0m0 31v10m0 37v5m0 16v4m0 17v25m0 19v47m0 17v20m0 17v40m0 30v31m0 14v8m0 15v3m0 33v9m0 25v0m0 56v0M1832 3593v0m0 46v0m0 36v0m0 16v128m0 48v65m0 13v20m0 13v4m0 29v12m0 44v0M1836 3435v0m0 107v0m0 24v0m0 66v0m0 13v15m0 16v0m0 19v6m0 29v3m0 16v115m0 20v23m0 23v30m0 16v15m0 31v0m0 22v10M1840 3454v7m0 86v0m0 34v9m0 28v10m0 39v0m0 22v0m0 15v15m0 17v0m0 22v108m0 24v37m0 14v39m0 15v15m0 67v0M1844 3572v0m0 51v22m0 19v0m0 42v1m0 21v1m0 28v9m0 22v3m0 15v51m0 13v90m0 16v0m0 22v7m0 19v9M1848 3507v0m0 46v0m0 51v0m0 26v0m0 15v0m0 26v0m0 20v3m0 41v24m0 16v0m0 14v0m0 13v165m0 14v17m0 18v32m0 24v0M1852 3457v5m0 48v2m0 49v0m0 24v0m0 70v0m0 46v0m0 23v0m0 26v37m0 14v27m0 17v0m0 13v5m0 19v103m0 25v31M1856 3423v0m0 37v0m0 27v0m0 21v0m0 23v0m0 56v0m0 61v0m0 51v0m0 18v0m0 16v0m0 82v0m0 14v37m0 18v19m0 19v90m0 13v19m0 20v11M1860 3474v0m0 81v0m0 34v0m0 22v11m0 27v11m0 53v0m0 15v21m0 16v0m0 14v4m0 17v0m0 29v4m0 14v63m0 15v70m0 22v9m0 17v0m0 18v10M1864 3470v0m0 62v0m0 22v9m0 27v0m0 37v12m0 24v0m0 25v4m0 16v56m0 16v80m0 14v4m0 17v0m0 40v0m0 20v46m0 25v0m0 16v9m0 14v13M1868 3417v1m0 87v28m0 22v0m0 25v23m0 65v0m0 16v19m0 17v99m0 30v30m0 14v0m0 21v36m0 15v7m0 16v0m0 18v2m0 25v0m0 16v0m0 18v0M1872 3507v0m0 44v0m0 112v46m0 19v4m0 19v19m0 19v32m0 18v38m0 17v58m0 14v61m0 24v0m0 28v0M1876 3409v3m0 60v0m0 31v19m0 22v0m0 27v6m0 14v5m0 41v56m0 19v8m0 23v0m0 18v38m0 20v16m0 13v8m0 13v3m0 13v6m0 17v12m0 39v18m0 16v0m0 28v0m0 29v11m0 13v0M1880 3486v10m0 53v0m0 34v0m0 18v3m0 55v11m0 25v2m0 16v0m0 32v14m0 13v0m0 13v126m0 16v6m0 13v63m0 18v11m0 15v0M1884 3487v1m0 18v0m0 31v0m0 27v0m0 31v7m0 39v24m0 36v0m0 28v3m0 15v0m0 15v11m0 28v0m0 16v37m0 24v97m0 18v24m0 14v0M1888 3486v0m0 46v0m0 54v9m0 34v0m0 14v0m0 13v48m0 27v0m0 28v0m0 15v25m0 16v2m0 14v0m0 14v1m0 32v18m0 15v104m0 21v5m0 21v6M1892 3532v0m0 31v0m0 52v3m0 36v3m0 60v0m0 14v15m0 24v3m0 20v0m0 14v0m0 16v9m0 21v156m0 22v0m0 26v0M1896 3457v0m0 83v0m0 24v26m0 63v0m0 49v0m0 14v22m0 13v44m0 16v8m0 14v143m0 24v23M1900 3399v3m0 27v0m0 40v0m0 31v0m0 39v8m0 16v12m0 18v0m0 22v0m0 31v0m0 18v1m0 20v9m0 18v11m0 21v1m0 13v12m0 16v49m0 19v13m0 20v33m0 13v37m0 25v3m0 37v0m0 23v0M1904 3404v12m0 31v5m0 41v1m0 61v0m0 21v0m0 29v21m0 13v1m0 22v50m0 19v12m0 17v15m0 16v36m0 25v3m0 15v0m0 19v20m0 32v11m0 68v0m0 20v11m0 27v1M1908 3253v0m0 24v12m0 27v21m0 27v0m0 20v4m0 14v5m0 15v0m0 18v8m0 50v0m0 15v13m0 41v26m0 57v3m0 31v13m0 13v0m0 16v0m0 33v54m0 16v0m0 30v25m0 13v19m0 19v11m0 20v0m0 19v4m0 90v0M1912 3210v0m0 23v2m0 47v5m0 49v5m0 18v0m0 14v1m0 76v5m0 15v17m0 13v9m0 42v0m0 14v0m0 14v17m0 21v0m0 15v17m0 15v17m0 22v0m0 13v52m0 18v0m0 35v82m0 16v12m0 22v0m0 13v0m0 15v13m0 21v0m0 40v0m0 24v1M1916 3249v0m0 16v0m0 55v3m0 28v3m0 34v16m0 21v15m0 13v0m0 28v8m0 18v9m0 16v1m0 14v47m0 18v3m0 14v25m0 13v98m0 66v0m0 22v0m0 15v4m0 34v0m0 52v0m0 48v0M1920 3391v0m0 13v0m0 57v8m0 19v0m0 31v11m0 13v9m0 18v32m0 21v7m0 14v0m0 14v0m0 15v11m0 13v44m0 13v0m0 18v0m0 20v5m0 15v61m0 13v0m0 45v2m0 20v6m0 15v8m0 72v8M1924 3303v0m0 26v0m0 203v0m0 46v0m0 43v0m0 92v0m0 14v15m0 14v60m0 14v0m0 14v14m0 19v21m0 14v43m0 14v19m0 21v0m0 18v9M1928 3330v0m0 123v0m0 45v0m0 72v0m0 54v0m0 33v14m0 22v8m0 16v21m0 13v0m0 30v68m0 18v19m0 13v51m0 15v18m0 14v0m0 17v11m0 30v3M1932 3424v0m0 62v0m0 43v5m0 100v0m0 23v0m0 20v4m0 19v0m0 42v0m0 13v48m0 16v31m0 15v33m0 15v64m0 23v10m0 25v0M1936 3549v8m0 29v0m0 47v12m0 15v4m0 46v0m0 18v29m0 17v43m0 14v13m0 15v18m0 20v24m0 21v57m0 14v0m0 22v0m0 13v9M1940 3484v6m0 30v0m0 53v0m0 29v12m0 15v12m0 14v7m0 16v0m0 30v2m0 33v30m0 25v22m0 14v104m0 17v11m0 14v0m0 17v24M1944 3401v0m0 69v0m0 45v0m0 46v0m0 67v0m0 39v0m0 15v43m0 19v9m0 15v79m0 15v51m0 16v2m0 15v8m0 15v7m0 22v0m0 21v0m0 28v0M1948 3406v2m0 66v0m0 13v0m0 25v2m0 45v17m0 23v36m0 14v8m0 17v10m0 21v0m0 18v40m0 15v15m0 15v20m0 15v21m0 25v28m0 21v11M1952 3398v11m0 47v7m0 41v0m0 29v8m0 13v0m0 50v9m0 15v0m0 14v3m0 37v14m0 23v10m0 18v32m0 15v23m0 23v31m0 20v0m0 17v14m0 16v0m0 24v18m0 19v0m0 13v0m0 16v0M1956 3400v10m0 52v0m0 99v0m0 22v0m0 36v0m0 26v0m0 21v52m0 17v0m0 18v53m0 29v22m0 18v0m0 30v55m0 13v5m0 28v0m0 23v0m0 13v0M1960 3401v0m0 18v0m0 18v0m0 29v0m0 33v1m0 31v0m0 21v1m0 19v0m0 24v14m0 20v0m0 16v135m0 17v0m0 19v31m0 19v16m0 33v18m0 28v22m0 31v0M1964 3536v5m0 14v0m0 27v0m0 21v12m0 14v0m0 16v0m0 13v90m0 17v38m0 15v0m0 19v0m0 15v11m0 22v33m0 29v10m0 30v0m0 25v0m0 27v3M1968 3521v12m0 13v0m0 83v0m0 76v0m0 18v7m0 27v61m0 14v51m0 30v54m0 17v0m0 15v6m0 18v0M1972 3521v0m0 95v12m0 20v39m0 37v10m0 15v34m0 17v8m0 15v1m0 14v32m0 13v39m0 13v60m0 15v7m0 43v4M1976 3409v14m0 109v0m0 43v12m0 62v12m0 29v41m0 18v10m0 19v9m0 20v6m0 18v44m0 25v10m0 18v28m0 29v7m0 14v0m0 26v11m0 21v0M1980 3386v0m0 33v0m0 150v0m0 35v0m0 49v3m0 25v0m0 14v59m0 13v17m0 16v54m0 14v10m0 14v93m0 60v0M1984 3535v0m0 86v0m0 36v6m0 27v0m0 13v48m0 17v10m0 13v10m0 23v8m0 19v45m0 15v32m0 21v29m0 18v10m0 24v0M1988 3477v0m0 32v0m0 42v11m0 18v0m0 23v18m0 44v0m0 47v9m0 13v9m0 16v15m0 13v175m0 20v14M1992 3462v0m0 13v1m0 24v0m0 40v0m0 22v0m0 32v0m0 32v6m0 35v9m0 14v0m0 13v14m0 19v5m0 24v34m0 17v4m0 14v133m0 17v26m0 23v5M1996 3416v11m0 32v0m0 47v0m0 37v9m0 28v8m0 28v2m0 14v5m0 18v32m0 15v15m0 15v66m0 14v0m0 13v16m0 19v0m0 16v22m0 20v40m0 35v5m0 38v7M2000 3411v0m0 29v0m0 19v0m0 50v0m0 46v20m0 50v0m0 13v14m0 14v3m0 22v34m0 23v32m0 18v24m0 14v76m0 16v55M2004 3391v0m0 42v0m0 22v0m0 25v0m0 49v0m0 43v0m0 13v0m0 65v6m0 13v8m0 27v123m0 17v68m0 28v0m0 49v0m0 48v0M2008 3439v0m0 59v6m0 36v0m0 21v0m0 23v22m0 17v19m0 16v2m0 17v11m0 17v13m0 18v0m0 16v5m0 21v17m0 15v90m0 36v1m0 15v0m0 21v21M2012 3510v0m0 31v7m0 71v0m0 28v0m0 27v2m0 21v8m0 13v20m0 21v24m0 14v15m0 41v91m0 15v36m0 17v0m0 44v0M2016 3350v0m0 80v0m0 64v0m0 26v0m0 13v9m0 61v0m0 17v8m0 26v0m0 28v3m0 30v0m0 13v10m0 26v8m0 13v14m0 16v42m0 14v26m0 17v51m0 14v16m0 21v8m0 16v0m0 16v0M2020 3299v7m0 15v0m0 115v0m0 29v0m0 30v0m0 61v0m0 22v1m0 29v9m0 60v2m0 27v0m0 16v4m0 20v0m0 14v6m0 13v16m0 19v117m0 15v11m0 43v4m0 16v0m0 33v0M2024 3308v1m0 28v0m0 32v3m0 19v0m0 15v0m0 30v0m0 22v0m0 18v2m0 43v29m0 16v24m0 24v90m0 17v4m0 17v0m0 14v0m0 32v5m0 21v19m0 20v9m0 50v0m0 46v24m0 21v0m0 57v3M2028 3251v3m0 34v6m0 35v0m0 50v0m0 14v26m0 21v0m0 15v0m0 18v0m0 17v7m0 15v0m0 26v5m0 23v6m0 14v67m0 19v28m0 27v4m0 20v0m0 14v10m0 15v0m0 29v0m0 31v0m0 15v11m0 18v29m0 21v0m0 50v16M2032 3270v0m0 98v3m0 36v0m0 34v5m0 22v0m0 38v24m0 14v0m0 21v1m0 13v20m0 34v43m0 16v5m0 16v57m0 27v39m0 23v25m0 13v0m0 38v0m0 25v3m0 51v0m0 40v0M2036 3252v3m0 20v0m0 130v0m0 28v0m0 36v0m0 19v17m0 18v12m0 13v15m0 21v0m0 23v19m0 16v25m0 13v39m0 13v0m0 21v0m0 13v18m0 23v6m0 24v0m0 32v8m0 30v12m0 50v1m0 44v0m0 26v0m0 15v0M2040 3255v0m0 150v0m0 38v0m0 32v12m0 45v0m0 21v0m0 37v32m0 27v60m0 27v2m0 16v43m0 27v22m0 13v45m0 16v15m0 62v0m0 68v0M2044 3301v0m0 14v0m0 19v0m0 33v10m0 17v7m0 18v0m0 38v8m0 39v0m0 13v12m0 25v0m0 25v18m0 14v0m0 13v0m0 13v82m0 16v0m0 33v12m0 22v9m0 19v18m0 19v10m0 25v0m0 25v17m0 27v8M2048 3190v13m0 26v2m0 88v5m0 25v2m0 38v12m0 15v35m0 26v0m0 20v7m0 15v0m0 13v0m0 23v0m0 35v11m0 20v30m0 14v15m0 17v0m0 33v0m0 20v3m0 19v44m0 14v37m0 19v0m0 67v0m0 18v2m0 32v0M2052 3148v0m0 14v0m0 116v0m0 92v1m0 14v0m0 28v12m0 56v18m0 16v9m0 26v0m0 40v0m0 17v68m0 19v13m0 13v16m0 29v32m0 13v1m0 19v18m0 14v5m0 13v14m0 13v6m0 23v0m0 49v15m0 41v0M2056 3001v0m0 13v0m0 98v0m0 207v0m0 66v0m0 19v0m0 92v7m0 15v0m0 26v60m0 14v8m0 15v2m0 30v10m0 15v8m0 13v16m0 16v89m0 33v19m0 14v11m0 24v0m0 20v0m0 45v11M2060 2892v0m0 28v0m0 129v0m0 61v24m0 182v13m0 45v0m0 30v0m0 35v0m0 18v0m0 20v0m0 39v0m0 33v47m0 13v26m0 21v16m0 30v0m0 20v21m0 19v8m0 21v21m0 14v24m0 54v19m0 17v0m0 20v0m0 27v0m0 28v2M2064 3028v8m0 284v0m0 89v10m0 24v8m0 37v8m0 18v0m0 25v5m0 20v0m0 82v17m0 27v10m0 19v108m0 14v13m0 17v43m0 20v24m0 34v7m0 15v2M2068 2971v0m0 33v0m0 225v0m0 17v0m0 26v0m0 70v7m0 14v0m0 18v0m0 46v13m0 29v15m0 28v0m0 44v10m0 15v0m0 18v10m0 16v0m0 17v18m0 31v0m0 24v2m0 18v60m0 18v0m0 14v19m0 21v0m0 29v0m0 24v18m0 53v10M2072 3057v0m0 49v0m0 48v0m0 38v0m0 37v0m0 35v0m0 29v0m0 53v0m0 15v0m0 19v0m0 24v3m0 56v0m0 39v0m0 14v22m0 57v0m0 20v17m0 21v18m0 27v10m0 14v32m0 16v0m0 16v0m0 17v9m0 16v6m0 22v2m0 14v21m0 28v4m0 13v21M2076 3065v0m0 69v2m0 25v2m0 15v0m0 13v11m0 22v0m0 43v0m0 47v0m0 18v0m0 60v0m0 13v0m0 16v22m0 21v11m0 28v5m0 19v0m0 21v0m0 18v0m0 13v1m0 33v0m0 13v17m0 24v6m0 13v7m0 36v25m0 18v4m0 19v6m0 31v0m0 19v21m0 14v33m0 54v0m0 24v0M2080 3045v0m0 115v0m0 83v0m0 60v0m0 51v4m0 31v8m0 47v6m0 29v0m0 30v0m0 13v13m0 19v25m0 25v0m0 15v32m0 18v13m0 16v19m0 16v0m0 21v21m0 22v0m0 31v41m0 18v7m0 18v12m0 16v3m0 51v0M2084 2998v0m0 262v0m0 29v0m0 34v0m0 66v0m0 29v5m0 16v11m0 16v0m0 26v10m0 22v0m0 32v0m0 19v10m0 23v12m0 13v0m0 14v0m0 30v0m0 15v0m0 30v0m0 15v109m0 15v32m0 31v8m0 25v11m0 21v9M2088 3083v0m0 103v2m0 47v0m0 38v0m0 77v0m0 22v0m0 24v0m0 30v0m0 39v0m0 23v0m0 15v0m0 90v17m0 29v31m0 20v15m0 15v11m0 21v41m0 18v51m0 13v40m0 43v0m0 18v0m0 20v0M2092 2917v0m0 16v0m0 13v12m0 55v0m0 66v0m0 33v0m0 62v0m0 22v0m0 45v0m0 56v0m0 30v0m0 37v8m0 14v0m0 17v0m0 16v13m0 13v4m0 13v31m0 22v0m0 23v0m0 29v1m0 13v0m0 41v0m0 49v0m0 22v37m0 26v0m0 16v0m0 27v6m0 24v4m0 26v7m0 15v11m0 16v6m0 26v0m0 56v0M2096 2741v0m0 44v0m0 173v10m0 15v1m0 55v5m0 13v0m0 25v10m0 22v0m0 31v0m0 68v0m0 19v23m0 53v8m0 33v21m0 64v18m0 15v10m0 34v30m0 19v0m0 30v19m0 20v13m0 14v14m0 36v0m0 18v10m0 29v20m0 37v17m0 17v13m0 22v5m0 24v0m0 40v8m0 23v0M2100 2988v13m0 29v0m0 98v0m0 13v0m0 49v0m0 40v2m0 22v0m0 18v0m0 14v3m0 34v0m0 22v0m0 41v1m0 20v0m0 13v8m0 20v7m0 16v6m0 18v12m0 53v11m0 18v1m0 19v0m0 55v0m0 34v7m0 29v0m0 13v69m0 25v8m0 14v21m0 13v0m0 23v6m0 14v0M2104 2981v0m0 109v0m0 81v0m0 35v0m0 53v0m0 38v0m0 56v0m0 39v0m0 15v0m0 48v0m0 74v13m0 29v0m0 14v4m0 18v0m0 25v0m0 19v0m0 18v0m0 24v9m0 16v1m0 27v6m0 16v18m0 15v39m0 18v10m0 15v6m0 32v11m0 18v2m0 13v14M2108 2917v9m0 100v0m0 79v4m0 50v0m0 20v11m0 94v7m0 53v0m0 34v1m0 16v0m0 17v1m0 17v0m0 19v44m0 51v9m0 28v0m0 15v32m0 14v0m0 24v0m0 40v21m0 23v47m0 15v11m0 25v9m0 26v1m0 26v0m0 22v0M2112 3039v0m0 63v3m0 49v0m0 33v0m0 29v23m0 41v0m0 19v66m0 36v0m0 17v7m0 23v0m0 19v5m0 35v2m0 13v3m0 28v47m0 17v3m0 19v0m0 16v0m0 13v33m0 23v0m0 32v7m0 19v0m0 35v0m0 18v0m0 13v0m0 72v0M2116 3067v1m0 62v7m0 13v0m0 68v19m0 14v0m0 14v0m0 35v11m0 19v10m0 19v42m0 13v8m0 17v34m0 30v5m0 14v0m0 55v1m0 33v23m0 42v50m0 25v17m0 20v6m0 24v0m0 34v7m0 31v0M2120 2822v0m0 21v0m0 38v0m0 20v0m0 43v7m0 201v0m0 26v0m0 25v0m0 45v0m0 26v0m0 43v2m0 16v53m0 13v9m0 19v28m0 53v0m0 25v0m0 22v12m0 21v0m0 57v13m0 25v4m0 20v0m0 39v15m0 13v23m0 21v10m0 13v12m0 28v0m0 15v10m0 27v0m0 20v12M2124 2864v1m0 31v0m0 38v10m0 57v0m0 54v0m0 32v0m0 26v0m0 14v0m0 22v0m0 80v11m0 34v5m0 27v8m0 14v8m0 36v0m0 26v16m0 13v5m0 20v0m0 23v0m0 35v0m0 23v14m0 20v11m0 27v3m0 59v8m0 24v0m0 24v35m0 32v34m0 22v1m0 15v0m0 19v0m0 20v0m0 53v0M2128 2887v0m0 129v0m0 77v0m0 32v0m0 139v0m0 29v0m0 13v16m0 13v0m0 17v0m0 13v12m0 18v5m0 31v0m0 24v47m0 61v16m0 19v9m0 15v0m0 32v16m0 22v25m0 26v17m0 36v0m0 15v0m0 25v1m0 13v0m0 34v12m0 25v0m0 17v2m0 28v0M2132 3261v0m0 34v0m0 66v0m0 67v0m0 27v47m0 52v16m0 53v9m0 30v12m0 19v19m0 13v78m0 13v26m0 24v8m0 15v5m0 68v6M2136 3049v0m0 57v0m0 161v13m0 62v0m0 29v4m0 22v7m0 23v0m0 18v0m0 17v60m0 56v0m0 21v0m0 18v0m0 53v161m0 40v0m0 32v0m0 34v0m0 24v0M2140 2915v0m0 233v10m0 17v10m0 25v14m0 15v23m0 40v0m0 16v16m0 20v14m0 13v0m0 24v5m0 24v4m0 13v1m0 50v0m0 16v0m0 17v10m0 13v11m0 39v74m0 46v0m0 59v0m0 47v0m0 14v0m0 15v0M2144 2810v0m0 36v0m0 128v0m0 61v6m0 85v0m0 135v2m0 13v0m0 34v0m0 18v0m0 25v0m0 20v66m0 37v8m0 25v6m0 15v6m0 14v8m0 29v2m0 13v17m0 23v0m0 33v15m0 25v15m0 28v2m0 25v4m0 17v9m0 57v15m0 16v0m0 16v8m0 34v0M2148 2743v1m0 17v20m0 16v11m0 31v7m0 21v12m0 28v11m0 26v0m0 32v0m0 22v5m0 86v0m0 46v0m0 68v0m0 73v0m0 27v0m0 16v0m0 30v38m0 15v56m0 14v42m0 19v24m0 22v0m0 21v0m0 21v13m0 15v15m0 15v7m0 13v16m0 37v3m0 76v11m0 117v0M2152 2803v0m0 117v0m0 66v0m0 57v0m0 44v12m0 44v0m0 16v0m0 125v0m0 44v0m0 66v0m0 21v7m0 14v0m0 28v12m0 25v14m0 15v0m0 27v33m0 27v0m0 14v14m0 18v20m0 17v5m0 35v43m0 32v12m0 18v0m0 22v0m0 18v0m0 15v10m0 18v0m0 20v0M2156 2819v0m0 36v0m0 254v0m0 14v0m0 52v2m0 79v10m0 30v0m0 63v0m0 21v0m0 22v0m0 18v3m0 16v22m0 45v0m0 28v0m0 15v4m0 19v11m0 39v13m0 16v20m0 21v20m0 15v25m0 13v35m0 25v0m0 19v4m0 16v11m0 13v12m0 16v0M2160 2920v0m0 15v0m0 46v0m0 28v0m0 104v0m0 42v0m0 24v0m0 16v0m0 18v0m0 56v0m0 27v3m0 21v0m0 14v2m0 30v14m0 55v8m0 15v0m0 41v19m0 17v4m0 33v0m0 14v9m0 14v15m0 29v12m0 15v6m0 14v31m0 13v8m0 18v33m0 32v0m0 40v10m0 17v0M2164 2888v7m0 55v0m0 62v10m0 41v0m0 88v0m0 25v9m0 17v12m0 131v0m0 14v0m0 19v1m0 49v2m0 23v0m0 38v12m0 16v0m0 16v17m0 19v1m0 37v14m0 40v24m0 25v5m0 24v3m0 38v29m0 14v0m0 18v18m0 30v0m0 15v0m0 27v0m0 18v0m0 30v0M2168 3034v0m0 80v0m0 95v8m0 53v0m0 48v0m0 35v23m0 31v11m0 35v6m0 14v11m0 14v29m0 20v0m0 20v11m0 15v14m0 19v10m0 24v55m0 17v6m0 18v0m0 79v12m0 23v1m0 14v7m0 77v0m0 17v6M2172 3057v0m0 88v9m0 33v0m0 13v0m0 24v0m0 18v7m0 62v4m0 41v11m0 25v14m0 13v11m0 33v0m0 23v7m0 16v22m0 19v8m0 18v0m0 13v17m0 14v19m0 31v0m0 32v19m0 24v18m0 20v34m0 35v12m0 27v0m0 50v1M2176 3056v0m0 92v0m0 104v0m0 20v0m0 30v0m0 58v0m0 25v8m0 26v0m0 29v20m0 28v30m0 23v45m0 23v7m0 23v28m0 24v0m0 28v0m0 14v40m0 23v29m0 14v7m0 39v7m0 86v10M2180 2948v10m0 114v0m0 38v0m0 42v5m0 30v0m0 54v3m0 206v0m0 23v0m0 38v0m0 20v7m0 20v11m0 46v9m0 13v10m0 27v0m0 21v9m0 17v10m0 27v64m0 17v2m0 16v16m0 29v10m0 13v9m0 14v0m0 14v0m0 34v1M2184 3194v0m0 115v4m0 59v0m0 18v13m0 14v0m0 16v0m0 21v4m0 18v22m0 22v0m0 24v0m0 20v0m0 20v42m0 19v0m0 20v10m0 13v7m0 22v45m0 15v15m0 13v25m0 18v19m0 27v11M2188 3110v0m0 36v9m0 32v11m0 13v4m0 35v4m0 23v0m0 16v23m0 37v0m0 26v17m0 13v0m0 37v13m0 26v23m0 28v11m0 20v17m0 16v0m0 18v10m0 13v0m0 13v22m0 28v12m0 63v73m0 58v12m0 17v0M2192 2908v3m0 46v8m0 37v11m0 36v0m0 51v0m0 20v0m0 92v10m0 14v0m0 29v33m0 18v0m0 16v0m0 21v7m0 13v22m0 38v6m0 27v20m0 15v11m0 29v0m0 16v0m0 18v1m0 17v0m0 21v0m0 15v30m0 24v0m0 16v0m0 39v6m0 21v4m0 28v9m0 19v0m0 74v10M2196 2907v35m0 90v0m0 61v0m0 187v0m0 44v0m0 17v0m0 14v44m0 19v0m0 17v33m0 15v0m0 22v0m0 23v35m0 20v2m0 13v33m0 27v7m0 21v1m0 16v12m0 13v6m0 35v0m0 13v0m0 15v0m0 15v0m0 48v23M2200 2890v0m0 74v8m0 49v0m0 18v10m0 47v0m0 32v0m0 85v2m0 48v4m0 28v9m0 24v0m0 13v1m0 19v7m0 23v0m0 15v0m0 17v6m0 55v58m0 49v0m0 14v43m0 15v0m0 47v24m0 13v0m0 17v0m0 22v4M2204 2899v0m0 110v0m0 118v0m0 62v0m0 27v0m0 78v0m0 22v2m0 47v6m0 41v14m0 22v0m0 36v9m0 16v5m0 14v21m0 26v36m0 18v5m0 18v4m0 26v14m0 16v35m0 21v8m0 13v0m0 16v14m0 21v24m0 14v0m0 17v0M2208 2961v0m0 35v0m0 72v0m0 14v0m0 38v0m0 87v0m0 34v0m0 13v0m0 21v4m0 13v0m0 15v0m0 21v0m0 16v0m0 20v24m0 15v28m0 32v26m0 22v4m0 20v0m0 34v26m0 22v11m0 34v49m0 28v0m0 14v8m0 49v5m0 21v0m0 39v0m0 67v0M2212 2936v27m0 20v0m0 33v0m0 32v0m0 22v1m0 22v0m0 15v0m0 21v0m0 71v0m0 24v0m0 27v0m0 16v2m0 20v2m0 24v78m0 52v8m0 51v9m0 73v5m0 29v12m0 35v8m0 13v15m0 15v0m0 43v12m0 20v6m0 52v0m0 42v0m0 30v0m0 38v0M2216 2825v11m0 53v3m0 43v0m0 18v0m0 24v3m0 54v0m0 16v2m0 18v12m0 27v11m0 48v13m0 17v0m0 21v5m0 19v11m0 16v29m0 14v0m0 30v0m0 17v20m0 27v0m0 42v0m0 19v0m0 18v2m0 41v0m0 25v0m0 13v0m0 17v0m0 65v2m0 13v0m0 13v0m0 20v0m0 39v3m0 80v0m0 21v7m0 119v0M2220 3036v0m0 100v0m0 98v0m0 75v0m0 13v0m0 18v10m0 16v0m0 21v21m0 13v40m0 26v12m0 18v0m0 16v2m0 16v2m0 35v22m0 16v0m0 13v7m0 17v0m0 13v0m0 31v19m0 28v7m0 13v0m0 14v10m0 14v11m0 27v21m0 35v0m0 80v2M2224 2995v0m0 20v0m0 28v0m0 72v5m0 15v0m0 183v4m0 68v0m0 20v0m0 28v6m0 24v0m0 29v21m0 28v0m0 22v0m0 13v23m0 17v60m0 43v32m0 20v33m0 14v8m0 54v0m0 41v20m0 17v0m0 20v1M2228 3169v0m0 147v0m0 36v0m0 13v2m0 40v8m0 29v0m0 101v3m0 27v0m0 20v0m0 20v0m0 15v10m0 49v7m0 14v1m0 36v55m0 29v63m0 20v0m0 16v11m0 16v13M2232 3084v0m0 137v0m0 96v4m0 38v36m0 66v0m0 14v11m0 28v9m0 38v0m0 17v36m0 39v22m0 16v0m0 25v12m0 13v31m0 24v11m0 13v34m0 34v15m0 17v0m0 29v0m0 21v0M2236 3102v0m0 45v0m0 27v3m0 55v0m0 67v3m0 49v0m0 17v30m0 44v0m0 18v3m0 24v1m0 13v34m0 20v1m0 25v0m0 23v9m0 33v19m0 13v46m0 13v17m0 42v3m0 41v11m0 41v0m0 14v6m0 19v2M2240 3008v0m0 20v0m0 88v0m0 76v3m0 13v3m0 100v1m0 42v0m0 13v14m0 45v0m0 26v41m0 17v0m0 18v0m0 30v7m0 13v43m0 23v10m0 20v0m0 13v29m0 13v24m0 26v14m0 23v0m0 41v12m0 34v0m0 32v0m0 17v6M2244 3041v6m0 86v0m0 55v0m0 30v0m0 45v11m0 35v0m0 63v18m0 29v0m0 37v19m0 26v21m0 13v21m0 27v13m0 24v25m0 24v0m0 15v9m0 32v46m0 20v14m0 13v2m0 22v0m0 24v10m0 17v4m0 14v0M2248 3032v0m0 40v0m0 30v0m0 42v0m0 25v0m0 53v0m0 85v0m0 18v5m0 33v13m0 23v9m0 14v0m0 17v6m0 41v28m0 21v6m0 15v8m0 33v0m0 16v0m0 24v7m0 21v0m0 17v48m0 23v14m0 22v0m0 16v0m0 35v9m0 23v11m0 18v11M2252 3170v9m0 31v0m0 111v0m0 32v0m0 20v11m0 14v0m0 30v6m0 15v18m0 40v6m0 17v0m0 20v0m0 13v0m0 69v0m0 14v62m0 16v2m0 19v0m0 17v29m0 15v55m0 17v27m0 71v0M2256 2955v0m0 168v0m0 46v0m0 19v0m0 48v6m0 22v0m0 25v0m0 68v0m0 35v11m0 67v11m0 20v0m0 68v2m0 19v0m0 19v0m0 24v15m0 13v52m0 34v57m0 27v8m0 45v0m0 16v4m0 33v0m0 21v17M2260 2940v0m0 90v0m0 45v0m0 58v0m0 48v0m0 168v0m0 20v10m0 20v0m0 18v1m0 21v0m0 33v0m0 19v13m0 18v0m0 24v14m0 17v9m0 19v0m0 35v10m0 13v33m0 28v61m0 18v12m0 14v13m0 13v0m0 14v5m0 20v0m0 14v10m0 16v0m0 51v0M2264 3066v5m0 61v0m0 80v0m0 62v3m0 25v0m0 45v0m0 14v5m0 71v0m0 13v0m0 62v28m0 22v0m0 20v7m0 34v0m0 15v34m0 14v2m0 25v4m0 16v10m0 15v3m0 17v13m0 18v31m0 29v18m0 14v21M2268 2870v3m0 231v0m0 64v0m0 14v0m0 44v10m0 50v10m0 32v0m0 16v5m0 26v21m0 22v4m0 14v17m0 15v7m0 14v2m0 13v26m0 19v9m0 17v7m0 34v12m0 26v25m0 36v19m0 13v11m0 24v4m0 38v4m0 78v0M2272 2725v4m0 17v8m0 56v0m0 20v0m0 15v9m0 108v0m0 24v0m0 49v0m0 27v0m0 55v0m0 58v0m0 52v0m0 25v9m0 18v0m0 43v8m0 19v0m0 58v6m0 37v7m0 25v0m0 15v21m0 14v4m0 21v7m0 14v1m0 43v6m0 14v4m0 17v22m0 21v24m0 46v16m0 40v53m0 22v0m0 51v0M2276 3065v0m0 22v0m0 20v9m0 19v11m0 37v0m0 89v0m0 20v1m0 19v0m0 22v39m0 17v0m0 19v11m0 20v67m0 21v10m0 14v23m0 13v9m0 13v0m0 38v6m0 16v6m0 18v0m0 33v0m0 22v0m0 38v0m0 37v0m0 23v7M2280 2822v0m0 118v0m0 84v0m0 26v3m0 32v0m0 44v0m0 45v0m0 35v2m0 18v0m0 13v10m0 66v11m0 27v0m0 18v18m0 43v20m0 17v0m0 18v0m0 45v2m0 21v12m0 18v12m0 18v16m0 31v0m0 14v13m0 26v30m0 14v15m0 27v0m0 28v5m0 13v4m0 39v9m0 21v1m0 35v8M2284 2906v0m0 15v0m0 290v3m0 34v0m0 22v4m0 24v1m0 62v0m0 26v0m0 18v0m0 35v17m0 25v18m0 30v1m0 29v0m0 23v1m0 18v0m0 40v69m0 18v27m0 14v0m0 18v38m0 18v0m0 23v11m0 18v6M2288 2904v0m0 64v0m0 22v0m0 69v0m0 85v5m0 55v21m0 25v0m0 16v6m0 21v9m0 29v0m0 14v0m0 14v5m0 30v4m0 23v9m0 15v4m0 60v7m0 19v0m0 13v44m0 23v0m0 43v6m0 13v16m0 16v49m0 66v10m0 22v0m0 13v12m0 18v0m0 55v0M2292 2916v0m0 40v0m0 172v0m0 36v0m0 60v0m0 74v12m0 18v13m0 23v58m0 23v0m0 17v28m0 14v21m0 13v20m0 28v17m0 37v13m0 13v5m0 22v9m0 17v5m0 29v2m0 31v4m0 24v0m0 32v0m0 22v5m0 25v0M2296 3096v0m0 82v0m0 62v6m0 14v10m0 47v0m0 19v10m0 44v17m0 21v3m0 18v19m0 19v10m0 17v4m0 31v2m0 19v38m0 19v24m0 23v7m0 20v18m0 18v1m0 24v0m0 15v16m0 25v11m0 26v7m0 13v0m0 43v0m0 58v0M2300 2970v0m0 27v4m0 192v0m0 196v0m0 28v0m0 28v18m0 16v0m0 35v2m0 13v12m0 14v19m0 25v0m0 19v26m0 22v9m0 14v5m0 14v33m0 14v7m0 31v22m0 14v17m0 13v49m0 18v12m0 26v0m0 20v0m0 15v0M2304 2987v0m0 60v0m0 29v0m0 176v5m0 50v0m0 39v0m0 15v0m0 20v12m0 21v4m0 50v23m0 21v0m0 23v40m0 16v9m0 27v22m0 19v33m0 20v0m0 14v20m0 19v0m0 27v38m0 21v13m0 14v0m0 30v0M2308 3070v0m0 61v3m0 89v8m0 30v0m0 17v0m0 18v4m0 44v7m0 56v0m0 24v0m0 38v20m0 22v13m0 25v67m0 13v0m0 19v4m0 14v1m0 36v3m0 34v6m0 17v37m0 28v22m0 36v0m0 23v17m0 17v0m0 39v0m0 15v2M2312 2993v0m0 31v0m0 147v10m0 58v0m0 65v8m0 27v6m0 33v22m0 33v0m0 14v32m0 17v19m0 17v20m0 15v30m0 13v0m0 38v25m0 16v17m0 13v13m0 15v0m0 13v7m0 23v14m0 91v0m0 49v1M2316 3071v0m0 58v0m0 25v7m0 39v0m0 92v23m0 18v8m0 17v33m0 30v8m0 15v18m0 25v5m0 45v2m0 16v16m0 29v1m0 13v30m0 27v21m0 24v0m0 36v24m0 19v0m0 38v2m0 29v0m0 40v0m0 17v0m0 28v0m0 47v0M2320 2858v0m0 74v0m0 14v14m0 50v0m0 93v8m0 100v1m0 28v38m0 51v23m0 22v2m0 20v33m0 19v6m0 27v0m0 36v0m0 16v0m0 40v0m0 19v2m0 16v23m0 17v0m0 13v0m0 13v0m0 29v0m0 14v13m0 15v0m0 15v1m0 13v7m0 14v0m0 33v0m0 14v4m0 33v9m0 33v0m0 23v7m0 42v0M2324 2849v0m0 45v0m0 22v2m0 70v0m0 28v0m0 15v0m0 24v0m0 44v8m0 30v9m0 21v0m0 28v0m0 58v18m0 37v7m0 29v0m0 34v10m0 25v10m0 27v10m0 16v31m0 35v28m0 23v0m0 53v0m0 31v0m0 18v0m0 18v7m0 13v16m0 15v0m0 20v1m0 71v0m0 60v0m0 69v0M2328 2939v0m0 86v0m0 103v0m0 60v0m0 28v0m0 26v0m0 39v0m0 28v0m0 47v0m0 24v0m0 41v11m0 19v10m0 15v0m0 15v16m0 13v0m0 14v12m0 13v2m0 35v14m0 13v2m0 16v0m0 24v87m0 31v26m0 47v5m0 20v4m0 17v0m0 19v0m0 16v0M2332 2953v0m0 137v0m0 37v0m0 16v3m0 29v0m0 23v0m0 20v0m0 47v0m0 13v9m0 20v6m0 41v0m0 29v0m0 13v8m0 15v0m0 28v0m0 16v0m0 15v0m0 16v13m0 21v0m0 19v60m0 20v22m0 20v26m0 13v19m0 21v7m0 35v0m0 76v8m0 17v0m0 33v0m0 27v11m0 19v1M2336 3051v0m0 14v0m0 13v0m0 78v0m0 50v0m0 27v0m0 23v0m0 13v0m0 31v0m0 17v19m0 17v33m0 31v0m0 25v0m0 28v15m0 27v0m0 13v6m0 20v1m0 14v2m0 24v40m0 18v0m0 54v34m0 18v0m0 44v0m0 21v16m0 67v0m0 13v1m0 34v18M2340 2978v1m0 32v0m0 172v0m0 45v3m0 36v7m0 19v6m0 22v11m0 68v5m0 29v9m0 31v0m0 14v0m0 35v0m0 49v11m0 14v11m0 22v20m0 38v23m0 22v51m0 18v25m0 35v0m0 25v0m0 22v0m0 37v2m0 13v10m0 21v0M2344 2970v1m0 16v8m0 113v6m0 20v0m0 23v3m0 24v0m0 52v0m0 27v4m0 21v0m0 33v8m0 17v9m0 31v0m0 18v52m0 20v13m0 26v0m0 23v11m0 82v4m0 32v3m0 13v0m0 29v11m0 15v9m0 16v7m0 43v9m0 18v0m0 25v0m0 69v0M2348 2985v0m0 13v17m0 26v0m0 13v0m0 67v12m0 20v27m0 24v34m0 40v17m0 15v29m0 19v0m0 41v0m0 22v6m0 24v21m0 34v17m0 14v0m0 25v1m0 19v15m0 27v6m0 41v0m0 67v18m0 37v0m0 94v0m0 18v0m0 56v0M2352 2892v7m0 32v0m0 19v11m0 19v1m0 14v25m0 13v0m0 18v0m0 20v39m0 23v6m0 24v22m0 14v13m0 24v0m0 26v12m0 44v0m0 17v0m0 20v0m0 26v0m0 17v1m0 17v16m0 36v0m0 18v0m0 25v0m0 25v0m0 26v0m0 15v7m0 74v14m0 17v0m0 55v0m0 33v0m0 66v0M2356 2786v0m0 30v0m0 14v7m0 13v0m0 32v0m0 22v20m0 24v0m0 17v0m0 32v0m0 65v5m0 14v18m0 15v11m0 20v14m0 23v15m0 14v16m0 52v0m0 17v0m0 15v7m0 24v12m0 38v4m0 29v16m0 26v17m0 14v4m0 40v0m0 13v14m0 50v5m0 25v0m0 30v9m0 17v7m0 38v0M2360 2737v7m0 116v0m0 34v4m0 43v19m0 55v1m0 23v0m0 33v0m0 22v0m0 28v4m0 28v0m0 17v28m0 13v21m0 14v1m0 16v23m0 97v8m0 65v5m0 13v0m0 15v51m0 22v0m0 74v19m0 21v11m0 22v0m0 99v0m0 17v8m0 34v3m0 50v1M2364 2721v3m0 67v0m0 18v0m0 159v0m0 36v0m0 34v0m0 35v0m0 20v7m0 73v0m0 41v0m0 31v2m0 77v0m0 28v0m0 25v16m0 40v9m0 16v9m0 52v5m0 13v26m0 16v14m0 21v44m0 18v0m0 20v0m0 41v15m0 27v4m0 22v7m0 37v8m0 59v10m0 13v1M2368 2517v11m0 41v7m0 200v0m0 19v0m0 46v0m0 24v11m0 50v31m0 30v4m0 31v0m0 22v0m0 36v9m0 86v0m0 24v0m0 19v10m0 63v0m0 14v11m0 21v22m0 21v0m0 31v3m0 43v0m0 23v12m0 24v0m0 13v0m0 17v7m0 13v22m0 16v1m0 34v0m0 23v0m0 30v0m0 19v7m0 16v23m0 20v5m0 13v0m0 31v0m0 32v0m0 13v0m0 29v0m0 47v8M2372 2510v0m0 29v1m0 14v77m0 63v6m0 16v8m0 23v24m0 37v9m0 21v0m0 14v0m0 15v5m0 20v0m0 25v11m0 30v11m0 32v8m0 35v2m0 47v26m0 24v8m0 33v0m0 20v23m0 29v8m0 23v12m0 37v14m0 25v7m0 21v12m0 30v12m0 63v0m0 35v6m0 29v3m0 43v12m0 21v1m0 13v11m0 37v5m0 18v0m0 265v0M2376 2777v10m0 65v0m0 40v0m0 82v0m0 15v0m0 23v0m0 27v0m0 27v10m0 27v11m0 36v12m0 23v20m0 13v8m0 17v0m0 34v0m0 24v15m0 18v30m0 29v0m0 69v3m0 26v13m0 22v0m0 48v0m0 14v0m0 22v0m0 24v7m0 13v31m0 33v1m0 30v0m0 13v0m0 16v0m0 26v0m0 21v0m0 27v0m0 28v0m0 34v0m0 30v8M2380 2650v2m0 146v0m0 100v0m0 65v0m0 203v0m0 62v9m0 35v0m0 85v12m0 49v24m0 37v10m0 33v0m0 16v16m0 15v0m0 22v0m0 24v0m0 41v14m0 16v7m0 45v59m0 18v7m0 14v0m0 22v3m0 17v15m0 30v13m0 16v0m0 72v14M2384 3062v0m0 83v0m0 65v2m0 49v7m0 18v0m0 96v4m0 26v0m0 13v0m0 20v0m0 28v0m0 17v0m0 42v2m0 17v0m0 37v0m0 17v15m0 24v5m0 14v13m0 23v57m0 29v42m0 14v0m0 16v6m0 17v16m0 17v0m0 31v0m0 27v10M2388 2968v0m0 171v0m0 19v0m0 31v0m0 59v3m0 14v0m0 16v0m0 22v6m0 18v14m0 25v0m0 22v7m0 37v2m0 14v23m0 17v25m0 17v0m0 24v12m0 19v12m0 18v25m0 18v13m0 15v0m0 27v0m0 13v26m0 33v0m0 30v0m0 20v0m0 14v0m0 16v0m0 14v12m0 45v0m0 80v0M2392 2828v0m0 61v0m0 153v0m0 39v4m0 30v0m0 15v10m0 53v0m0 35v0m0 24v49m0 15v12m0 29v1m0 22v36m0 15v30m0 29v0m0 25v18m0 24v8m0 17v3m0 18v18m0 18v1m0 37v0m0 100v4m0 18v0m0 59v6M2396 3010v0m0 61v0m0 26v0m0 50v12m0 36v1m0 14v0m0 29v0m0 26v7m0 16v26m0 21v40m0 18v0m0 39v0m0 20v0m0 21v0m0 19v1m0 19v0m0 19v5m0 58v15m0 17v0m0 37v2m0 20v0m0 27v4m0 17v12m0 24v0m0 14v11m0 23v7m0 13v16m0 21v21m0 71v0m0 13v6m0 26v1M2400 2897v0m0 76v0m0 167v0m0 15v1m0 50v0m0 31v0m0 38v5m0 31v37m0 13v19m0 17v13m0 63v22m0 24v2m0 14v0m0 21v9m0 15v0m0 14v2m0 14v20m0 43v4m0 15v0m0 19v19m0 15v2m0 16v0m0 33v18m0 14v0m0 159v0m0 20v0M2404 2924v0m0 34v0m0 53v0m0 58v0m0 94v14m0 28v0m0 29v0m0 31v8m0 48v0m0 30v11m0 17v47m0 48v27m0 18v0m0 22v11m0 13v0m0 13v0m0 36v0m0 20v32m0 15v14m0 33v11m0 15v0m0 31v7m0 28v10m0 30v0m0 24v0m0 29v0m0 40v7M2408 3048v0m0 108v0m0 68v5m0 13v4m0 45v22m0 14v0m0 15v1m0 56v0m0 37v8m0 16v11m0 32v12m0 16v0m0 15v0m0 15v3m0 15v0m0 15v35m0 25v50m0 22v9m0 23v47m0 17v9m0 46v7m0 14v0m0 54v0M2412 2950v0m0 96v0m0 56v16m0 43v14m0 40v3m0 23v0m0 51v4m0 23v0m0 44v24m0 30v4m0 54v7m0 25v0m0 22v5m0 18v0m0 15v11m0 45v31m0 13v0m0 14v46m0 23v12m0 18v32m0 48v6m0 51v0M2416 3046v0m0 43v0m0 28v16m0 55v0m0 20v0m0 62v2m0 21v0m0 59v0m0 15v0m0 18v0m0 19v12m0 32v25m0 45v0m0 13v0m0 20v32m0 18v0m0 13v4m0 16v25m0 14v22m0 15v2m0 54v0m0 23v2m0 37v10m0 15v0m0 46v0m0 16v11M2420 2893v0m0 240v0m0 127v4m0 17v0m0 15v0m0 42v0m0 44v0m0 15v8m0 18v8m0 31v10m0 15v0m0 14v19m0 17v26m0 35v44m0 19v48m0 25v3m0 44v24m0 18v26m0 16v0m0 40v0M2424 2759v8m0 80v0m0 65v0m0 126v0m0 211v0m0 40v0m0 17v0m0 17v11m0 25v2m0 38v0m0 20v2m0 14v0m0 16v24m0 39v12m0 19v2m0 18v36m0 15v9m0 17v17m0 20v18m0 17v13m0 16v10m0 15v8m0 19v13m0 30v0m0 27v0m0 30v0m0 16v0M2428 2847v0m0 196v1m0 42v0m0 29v0m0 17v3m0 24v7m0 36v0m0 19v0m0 25v0m0 18v2m0 14v0m0 13v37m0 17v11m0 19v35m0 28v9m0 20v7m0 19v0m0 15v0m0 14v9m0 23v0m0 31v0m0 13v20m0 36v36m0 41v0m0 30v0m0 29v4m0 24v0m0 44v0m0 19v0M2432 2664v0m0 36v8m0 36v0m0 31v15m0 27v50m0 53v0m0 32v0m0 108v0m0 43v0m0 20v0m0 33v0m0 15v3m0 53v54m0 37v36m0 15v0m0 15v5m0 24v8m0 44v6m0 13v7m0 28v0m0 24v2m0 23v6m0 19v7m0 24v9m0 24v0m0 13v3m0 26v0m0 65v0m0 21v16m0 30v5m0 31v1M2436 2669v11m0 15v0m0 18v0m0 25v0m0 30v0m0 20v0m0 22v0m0 56v0m0 15v5m0 16v0m0 33v0m0 48v0m0 22v0m0 70v22m0 80v0m0 22v0m0 18v26m0 25v7m0 72v0m0 28v21m0 19v3m0 17v0m0 13v5m0 27v9m0 14v21m0 13v21m0 14v1m0 33v0m0 15v0m0 34v0m0 38v11m0 13v0m0 22v3m0 22v0m0 82v0m0 92v0M2440 2809v1m0 174v6m0 17v0m0 14v0m0 77v0m0 49v0m0 46v1m0 20v0m0 43v13m0 13v6m0 24v35m0 34v16m0 13v2m0 14v0m0 31v24m0 36v22m0 18v21m0 14v9m0 30v2m0 26v40m0 27v21m0 19v0m0 17v0m0 54v0m0 60v0m0 47v0M2444 2891v11m0 58v11m0 42v0m0 25v28m0 18v12m0 31v2m0 25v18m0 18v0m0 15v51m0 16v8m0 17v0m0 21v0m0 14v0m0 20v26m0 35v0m0 13v0m0 24v30m0 16v0m0 33v7m0 61v0m0 31v1m0 27v10m0 92v0M2448 2864v3m0 38v0m0 25v12m0 16v0m0 60v0m0 24v18m0 84v6m0 19v27m0 23v22m0 14v0m0 20v0m0 21v42m0 28v0m0 31v0m0 19v20m0 15v29m0 20v6m0 14v23m0 22v23m0 41v0m0 41v16m0 39v0m0 43v0m0 25v0m0 40v0m0 33v0M2452 2756v0m0 75v0m0 71v0m0 26v0m0 54v9m0 27v0m0 41v0m0 13v3m0 23v16m0 21v3m0 55v7m0 15v0m0 17v0m0 30v26m0 21v0m0 21v10m0 27v0m0 23v4m0 17v1m0 56v20m0 35v61m0 27v0m0 15v0m0 20v2m0 31v0m0 32v0m0 13v11m0 13v7m0 32v3m0 20v0M2456 2729v0m0 20v10m0 60v0m0 23v20m0 15v0m0 17v7m0 68v0m0 46v0m0 36v0m0 33v4m0 23v0m0 89v0m0 50v0m0 14v11m0 17v0m0 63v0m0 26v33m0 14v16m0 18v21m0 24v0m0 18v18m0 30v40m0 23v0m0 17v3m0 22v0m0 16v23m0 43v18m0 17v4m0 31v0m0 19v0m0 53v0M2460 2908v0m0 213v0m0 105v0m0 26v6m0 22v0m0 56v0m0 15v17m0 15v10m0 13v9m0 21v8m0 37v27m0 15v8m0 14v41m0 18v19m0 18v0m0 29v0m0 17v32m0 31v1m0 17v18m0 19v0m0 21v12m0 25v19m0 28v0M2464 2983v0m0 27v0m0 37v0m0 63v0m0 16v11m0 14v0m0 17v9m0 25v2m0 22v3m0 61v29m0 17v0m0 32v0m0 14v17m0 20v6m0 17v0m0 16v3m0 15v0m0 36v1m0 20v0m0 15v0m0 20v0m0 19v14m0 16v0m0 21v10m0 17v0m0 24v11m0 15v0m0 39v17m0 44v3m0 46v3m0 85v0M2468 2604v0m0 84v0m0 297v0m0 70v0m0 60v2m0 16v5m0 21v20m0 37v11m0 25v10m0 28v0m0 23v0m0 21v9m0 15v0m0 14v6m0 33v90m0 30v0m0 16v12m0 16v2m0 22v0m0 42v21m0 18v6m0 25v14m0 19v0m0 14v12m0 14v0m0 35v0m0 39v0m0 17v0m0 25v0m0 63v0M2472 2488v0m0 36v17m0 54v1m0 16v34m0 13v11m0 15v10m0 13v16m0 22v0m0 17v0m0 84v5m0 41v6m0 38v0m0 23v0m0 45v0m0 36v0m0 31v10m0 96v0m0 22v8m0 38v0m0 37v0m0 23v0m0 20v0m0 14v0m0 15v0m0 36v7m0 26v6m0 15v0m0 24v10m0 14v19m0 14v0m0 16v9m0 33v0m0 30v3m0 64v1m0 76v19m0 18v0m0 16v1m0 63v0m0 65v0M2476 2605v0m0 44v0m0 46v4m0 21v0m0 41v0m0 48v1m0 16v4m0 14v0m0 101v0m0 24v0m0 21v9m0 14v15m0 24v13m0 23v5m0 59v30m0 26v0m0 17v1m0 17v4m0 19v0m0 21v9m0 22v10m0 15v0m0 34v3m0 121v7m0 49v24m0 15v23m0 21v6m0 62v23m0 53v0m0 55v0m0 18v0M2480 2395v5m0 17v25m0 36v7m0 27v16m0 21v30m0 17v0m0 17v11m0 17v4m0 30v0m0 37v0m0 44v0m0 27v0m0 15v0m0 41v6m0 49v3m0 69v6m0 36v0m0 13v0m0 13v7m0 21v13m0 13v0m0 16v0m0 16v0m0 44v0m0 20v0m0 14v3m0 17v10m0 42v0m0 59v10m0 15v0m0 24v9m0 42v22m0 29v0m0 37v10m0 61v17m0 47v24m0 39v0m0 24v0m0 19v0m0 62v0m0 34v0m0 19v0m0 37v10M2484 2402v0m0 55v0m0 23v7m0 22v5m0 14v1m0 21v0m0 35v21m0 19v12m0 23v5m0 20v11m0 25v7m0 47v20m0 28v27m0 25v17m0 23v1m0 15v3m0 39v0m0 21v2m0 19v0m0 14v0m0 26v0m0 24v4m0 17v2m0 40v0m0 58v0m0 14v0m0 31v0m0 16v0m0 17v6m0 50v0m0 18v1m0 24v1m0 25v0m0 30v0m0 16v4m0 44v0m0 13v9m0 30v0m0 38v0m0 47v0m0 60v0m0 30v0m0 28v0m0 19v0m0 42v0m0 55v0m0 23v0M2488 2439v0m0 150v0m0 23v0m0 134v0m0 16v0m0 24v8m0 99v14m0 22v0m0 48v15m0 32v0m0 49v8m0 13v0m0 13v8m0 36v0m0 16v0m0 15v0m0 13v10m0 18v16m0 40v3m0 31v1m0 33v0m0 22v3m0 26v0m0 21v0m0 17v19m0 15v51m0 44v21m0 31v2m0 16v0m0 66v0m0 183v0M2492 2439v2m0 39v30m0 15v0m0 64v15m0 16v0m0 28v20m0 18v0m0 14v3m0 66v0m0 30v5m0 24v0m0 48v0m0 52v0m0 22v0m0 28v14m0 42v0m0 24v0m0 57v17m0 30v0m0 28v0m0 19v13m0 23v3m0 32v10m0 33v0m0 31v0m0 67v28m0 22v0m0 34v15m0 35v10m0 41v21m0 21v27m0 21v0m0 31v0m0 28v0m0 61v9m0 26v0M2496 2452v0m0 17v22m0 26v12m0 17v0m0 23v0m0 31v18m0 35v0m0 16v19m0 15v0m0 45v0m0 17v2m0 79v0m0 51v3m0 63v0m0 19v0m0 22v0m0 17v0m0 23v0m0 15v54m0 40v32m0 15v0m0 49v0m0 13v1m0 74v3m0 29v15m0 19v11m0 18v0m0 72v8m0 29v0m0 16v21m0 77v0m0 14v16m0 67v0m0 131v0M2500 2477v0m0 21v11m0 68v0m0 46v0m0 31v13m0 22v0m0 52v7m0 19v0m0 71v19m0 15v0m0 24v5m0 16v19m0 21v6m0 13v0m0 27v10m0 13v0m0 38v11m0 38v14m0 14v12m0 13v9m0 20v8m0 17v0m0 19v0m0 21v0m0 13v7m0 63v0m0 21v5m0 50v21m0 30v0m0 59v0m0 78v9m0 51v16m0 76v0M2504 2513v8m0 320v0m0 20v0m0 75v0m0 21v0m0 31v0m0 57v14m0 45v2m0 17v0m0 54v0m0 16v5m0 31v12m0 20v0m0 16v0m0 37v0m0 24v26m0 22v7m0 29v0m0 30v12m0 13v16m0 22v0m0 14v3m0 26v0m0 13v1m0 40v11m0 35v0m0 15v8m0 39v0m0 37v42m0 13v20m0 18v0M2508 2537v12m0 325v0m0 17v0m0 43v9m0 15v2m0 13v0m0 117v0m0 14v0m0 91v0m0 26v0m0 27v4m0 30v3m0 75v18m0 15v0m0 16v6m0 31v3m0 18v0m0 40v0m0 19v3m0 16v0m0 14v0m0 13v0m0 24v0m0 27v9m0 19v38m0 23v32m0 15v6m0 22v0m0 45v0m0 13v23m0 59v0M2512 2647v0m0 41v0m0 14v0m0 199v0m0 80v6m0 49v0m0 15v10m0 39v12m0 15v19m0 17v37m0 24v12m0 20v0m0 15v1m0 18v9m0 23v6m0 31v20m0 15v39m0 20v0m0 14v1m0 22v11m0 42v8m0 31v18m0 22v0m0 36v12m0 40v0m0 151v0m0 92v0M2516 2574v2m0 13v18m0 24v7m0 19v12m0 32v0m0 24v0m0 27v31m0 71v0m0 20v0m0 71v38m0 18v10m0 17v0m0 40v5m0 19v3m0 17v10m0 27v8m0 19v0m0 13v0m0 22v0m0 18v15m0 15v15m0 15v4m0 51v16m0 67v3m0 26v23m0 33v9m0 26v0m0 30v0m0 18v18m0 72v0m0 96v5m0 95v10m0 35v0m0 101v0M2520 2762v0m0 100v0m0 102v0m0 130v8m0 13v4m0 27v0m0 25v6m0 47v7m0 43v63m0 14v0m0 27v27m0 61v0m0 52v2m0 34v0m0 14v0m0 15v18m0 14v15m0 14v0m0 24v0m0 30v0m0 15v10m0 52v4m0 17v0m0 14v45m0 70v0m0 18v0m0 72v0M2524 2723v0m0 99v0m0 155v0m0 15v0m0 30v0m0 67v0m0 19v20m0 65v0m0 31v0m0 29v4m0 54v0m0 22v0m0 33v11m0 32v0m0 15v6m0 14v54m0 33v8m0 17v4m0 32v0m0 34v10m0 38v24m0 37v1m0 21v52m0 17v8m0 17v5m0 28v1m0 65v4m0 59v0M2528 2713v0m0 41v8m0 31v0m0 59v0m0 147v0m0 66v11m0 58v0m0 41v0m0 22v4m0 22v0m0 15v0m0 98v12m0 34v9m0 57v0m0 23v0m0 19v0m0 25v0m0 42v4m0 21v0m0 17v0m0 27v12m0 21v14m0 16v10m0 24v73m0 23v31m0 17v0m0 41v1m0 34v7m0 50v2M2532 2749v1m0 44v0m0 44v0m0 44v30m0 110v0m0 60v0m0 63v0m0 16v0m0 24v0m0 41v0m0 36v0m0 39v0m0 21v0m0 29v11m0 21v6m0 29v0m0 29v8m0 42v8m0 43v3m0 22v0m0 26v10m0 20v14m0 16v0m0 15v0m0 21v0m0 20v2m0 16v9m0 15v18m0 15v22m0 30v0m0 14v24m0 15v0m0 47v0m0 31v0m0 27v0M2536 2823v8m0 55v0m0 56v0m0 151v0m0 59v0m0 16v0m0 14v21m0 75v0m0 32v0m0 19v0m0 24v0m0 20v0m0 30v16m0 17v30m0 26v0m0 14v4m0 22v0m0 19v5m0 14v0m0 34v0m0 26v6m0 19v0m0 23v33m0 16v10m0 20v20m0 18v7m0 24v6m0 47v0m0 71v0m0 16v0m0 37v1M2540 2981v0m0 33v0m0 47v0m0 24v0m0 74v31m0 15v0m0 41v0m0 52v12m0 25v12m0 27v14m0 38v0m0 16v0m0 24v0m0 22v1m0 30v21m0 17v1m0 17v2m0 15v1m0 14v37m0 16v53m0 28v27m0 22v0m0 43v0m0 41v0M2544 2786v0m0 29v0m0 53v0m0 35v0m0 68v0m0 61v6m0 154v32m0 18v18m0 16v0m0 14v3m0 57v6m0 106v26m0 31v2m0 13v10m0 14v9m0 13v9m0 28v7m0 19v0m0 28v2m0 27v3m0 17v0m0 29v14m0 20v20m0 13v5m0 13v3m0 37v6m0 97v0M2548 2967v0m0 22v0m0 61v0m0 72v0m0 21v0m0 23v0m0 17v0m0 70v6m0 21v7m0 13v0m0 23v0m0 14v13m0 16v0m0 17v3m0 60v17m0 59v38m0 16v18m0 16v0m0 45v25m0 26v0m0 18v18m0 32v3m0 24v0m0 24v18m0 25v26m0 31v0m0 29v0m0 19v0m0 22v4M2552 2794v0m0 61v0m0 120v0m0 35v0m0 27v0m0 26v0m0 20v0m0 24v0m0 23v26m0 75v0m0 14v0m0 47v0m0 66v13m0 28v3m0 40v0m0 22v0m0 13v0m0 15v5m0 22v24m0 21v33m0 14v6m0 39v6m0 22v15m0 27v0m0 16v7m0 14v0m0 41v14m0 29v0m0 27v29m0 70v0M2556 2819v0m0 60v12m0 30v9m0 217v0m0 16v0m0 21v11m0 26v0m0 34v0m0 61v11m0 14v45m0 14v14m0 21v8m0 17v0m0 23v0m0 31v0m0 18v8m0 13v26m0 37v0m0 19v0m0 17v28m0 43v9m0 14v33m0 15v0m0 24v0m0 19v0m0 18v0m0 25v0m0 28v0m0 65v1M2560 2835v9m0 21v0m0 66v0m0 47v0m0 16v0m0 51v7m0 43v0m0 21v0m0 31v7m0 20v0m0 23v4m0 29v0m0 25v4m0 15v3m0 38v12m0 19v6m0 23v14m0 26v4m0 14v0m0 13v7m0 14v16m0 27v2m0 24v8m0 43v18m0 16v9m0 39v19m0 30v24m0 25v0m0 71v0m0 24v0m0 75v6M2564 2842v0m0 13v0m0 58v0m0 13v0m0 123v0m0 29v0m0 32v0m0 25v0m0 29v0m0 13v0m0 17v0m0 22v0m0 38v8m0 37v0m0 26v0m0 20v0m0 25v0m0 14v7m0 28v2m0 32v10m0 13v2m0 31v0m0 20v0m0 22v33m0 36v41m0 15v0m0 19v24m0 15v5m0 13v0m0 35v0m0 17v0m0 28v33m0 34v0m0 77v0M2568 2927v0m0 160v0m0 127v0m0 22v2m0 31v8m0 18v34m0 18v1m0 27v9m0 16v1m0 19v0m0 26v16m0 30v1m0 18v0m0 15v1m0 28v0m0 17v29m0 21v17m0 23v19m0 15v6m0 18v12m0 22v9m0 32v22m0 13v17m0 16v12m0 13v0M2572 2912v0m0 132v0m0 49v1m0 29v0m0 25v0m0 21v5m0 16v0m0 60v0m0 13v31m0 14v9m0 34v45m0 16v30m0 28v9m0 24v0m0 20v0m0 51v0m0 13v4m0 18v0m0 25v0m0 19v22m0 38v0m0 19v14m0 58v10m0 86v0m0 31v3m0 27v0m0 49v0M2576 3103v10m0 33v0m0 23v16m0 40v11m0 17v1m0 13v0m0 20v5m0 20v1m0 15v0m0 36v0m0 13v53m0 16v4m0 13v7m0 27v0m0 19v0m0 24v6m0 18v7m0 21v5m0 21v25m0 24v10m0 24v0m0 25v0m0 19v11m0 32v0m0 36v11m0 32v0m0 13v0m0 28v0m0 25v0m0 60v0m0 14v3M2580 2980v0m0 79v0m0 75v0m0 16v15m0 44v0m0 57v0m0 13v0m0 18v0m0 13v2m0 35v0m0 20v10m0 13v18m0 21v46m0 17v20m0 14v0m0 23v12m0 16v0m0 18v11m0 29v5m0 15v0m0 24v0m0 41v11m0 27v0m0 16v2m0 15v0m0 18v5m0 75v0m0 16v0m0 33v0m0 38v0m0 34v0M2584 2793v0m0 93v0m0 269v0m0 16v0m0 13v0m0 63v7m0 59v0m0 32v0m0 18v0m0 49v0m0 23v4m0 20v0m0 26v0m0 44v0m0 23v8m0 29v9m0 27v28m0 24v31m0 16v9m0 13v13m0 17v6m0 15v15m0 21v0m0 15v3m0 31v0m0 29v1m0 15v2m0 79v3M2588 2887v12m0 70v16m0 21v0m0 58v2m0 31v0m0 41v0m0 134v12m0 14v0m0 13v3m0 17v2m0 21v5m0 17v0m0 13v38m0 13v41m0 47v5m0 18v5m0 15v0m0 13v0m0 14v11m0 20v0m0 15v13m0 40v0m0 31v15m0 20v0m0 27v5m0 57v18m0 62v0m0 44v0m0 35v0M2592 2747v0m0 63v0m0 98v0m0 18v0m0 97v0m0 22v0m0 24v0m0 20v0m0 23v0m0 19v0m0 33v0m0 33v0m0 22v0m0 35v0m0 27v5m0 13v5m0 16v6m0 15v8m0 17v13m0 25v0m0 26v7m0 37v0m0 68v12m0 22v11m0 15v15m0 14v20m0 16v3m0 47v0m0 14v0m0 16v0m0 29v5m0 29v0m0 59v6m0 34v0m0 27v4m0 14v0m0 59v0M2596 2690v1m0 13v0m0 230v0m0 36v5m0 35v0m0 70v11m0 51v19m0 22v16m0 28v29m0 23v5m0 25v1m0 38v0m0 86v12m0 15v23m0 27v0m0 18v0m0 20v34m0 21v5m0 14v9m0 34v0m0 26v0m0 56v1m0 87v0m0 23v4m0 41v2m0 79v11M2600 2550v0m0 49v0m0 18v0m0 21v11m0 52v0m0 27v0m0 13v5m0 39v0m0 21v2m0 32v0m0 50v0m0 17v0m0 14v16m0 21v0m0 74v0m0 29v11m0 13v0m0 28v0m0 33v17m0 27v3m0 30v1m0 36v1m0 19v0m0 25v0m0 36v39m0 18v16m0 19v1m0 23v0m0 20v5m0 34v0m0 55v0m0 16v0m0 41v5m0 14v0m0 22v0m0 21v4m0 16v12m0 19v0m0 33v0m0 25v0m0 15v0m0 28v3m0 120v0M2604 2778v0m0 20v0m0 89v0m0 39v0m0 108v0m0 35v5m0 22v0m0 15v0m0 29v0m0 17v0m0 49v36m0 83v0m0 77v0m0 20v5m0 18v21m0 34v0m0 60v0m0 31v18m0 14v0m0 23v0m0 30v0m0 15v12m0 25v12m0 18v23m0 13v15m0 14v15m0 32v2m0 16v0m0 16v0m0 83v0M2608 3217v0m0 50v0m0 83v0m0 90v0m0 33v2m0 24v0m0 28v5m0 18v0m0 26v0m0 18v5m0 22v6m0 13v0m0 31v26m0 41v6m0 31v3m0 15v0m0 14v94m0 23v42m0 14v0M2612 2956v0m0 73v0m0 46v10m0 122v0m0 53v9m0 20v0m0 29v6m0 42v0m0 38v0m0 48v2m0 42v18m0 19v0m0 16v0m0 35v10m0 13v4m0 13v14m0 22v24m0 21v7m0 19v0m0 17v73m0 15v2m0 27v0m0 21v19m0 16v0M2616 2929v0m0 38v0m0 216v0m0 17v0m0 54v0m0 26v39m0 27v30m0 36v15m0 22v9m0 13v4m0 23v0m0 28v14m0 33v0m0 20v3m0 26v36m0 25v40m0 26v0m0 18v0m0 14v0m0 14v0m0 46v5m0 96v0m0 18v0m0 21v0M2620 3126v0m0 30v0m0 22v0m0 16v0m0 87v8m0 30v6m0 16v0m0 17v0m0 18v0m0 35v0m0 29v0m0 22v19m0 16v5m0 19v36m0 32v9m0 19v0m0 17v0m0 18v24m0 14v19m0 19v6m0 14v0m0 28v1m0 16v3m0 14v14m0 92v0m0 13v0m0 40v0m0 15v0M2624 3069v0m0 117v0m0 48v0m0 35v0m0 20v0m0 57v0m0 14v6m0 36v0m0 20v33m0 22v25m0 14v8m0 19v44m0 14v0m0 39v46m0 17v0m0 14v11m0 30v0m0 20v0m0 22v19m0 34v0m0 30v0m0 42v0M2628 3032v0m0 216v0m0 40v5m0 24v0m0 80v0m0 27v41m0 26v12m0 18v11m0 23v13m0 16v11m0 20v10m0 21v8m0 14v0m0 13v32m0 33v17m0 23v4m0 32v6m0 24v0m0 69v5m0 14v0M2632 3122v2m0 141v0m0 38v0m0 66v0m0 18v5m0 18v0m0 17v0m0 22v0m0 43v81m0 14v6m0 16v43m0 25v12m0 15v6m0 15v11m0 51v0m0 18v0m0 18v0m0 73v0m0 15v0m0 45v0m0 52v0M2636 3115v0m0 22v0m0 51v0m0 161v0m0 44v25m0 29v33m0 31v16m0 16v20m0 54v11m0 20v28m0 16v16m0 14v0m0 15v0m0 16v18m0 20v9m0 23v22m0 17v0m0 18v4m0 15v17m0 13v0m0 20v0m0 24v10M2640 3076v0m0 32v0m0 257v6m0 58v0m0 51v24m0 57v10m0 19v11m0 22v77m0 15v32m0 16v33m0 27v10m0 14v42m0 14v6m0 46v0m0 14v1M2644 3137v0m0 105v0m0 39v0m0 47v0m0 14v0m0 67v23m0 32v0m0 25v0m0 20v0m0 42v5m0 17v23m0 37v35m0 19v37m0 17v8m0 21v39m0 28v18m0 18v0m0 25v0m0 19v14m0 47v13m0 16v21M2648 3108v0m0 23v0m0 142v13m0 21v14m0 17v0m0 44v4m0 21v0m0 14v16m0 43v1m0 25v10m0 13v0m0 16v8m0 20v21m0 14v0m0 17v24m0 21v30m0 35v33m0 15v40m0 19v5m0 18v3m0 29v10m0 45v0M2652 3395v10m0 31v0m0 16v7m0 31v35m0 31v0m0 30v29m0 31v32m0 33v0m0 15v2m0 14v18m0 19v6m0 13v7m0 15v6m0 16v3m0 16v68m0 19v20m0 14v0M2656 3132v0m0 50v0m0 92v0m0 31v0m0 39v0m0 23v3m0 48v16m0 21v0m0 32v15m0 32v7m0 29v44m0 16v42m0 13v12m0 18v17m0 14v0m0 19v7m0 14v44m0 20v0m0 14v0m0 25v21m0 40v0m0 43v1m0 27v19M2660 3193v0m0 15v7m0 37v0m0 45v5m0 52v0m0 24v0m0 13v11m0 31v0m0 79v0m0 43v17m0 26v4m0 30v0m0 15v0m0 15v6m0 41v0m0 14v0m0 36v0m0 14v23m0 20v54m0 18v0m0 13v8m0 13v18m0 15v17m0 30v6M2664 3170v0m0 28v0m0 158v0m0 47v1m0 37v0m0 17v0m0 23v0m0 66v13m0 13v17m0 27v31m0 15v33m0 13v34m0 16v0m0 24v0m0 17v9m0 15v0m0 31v4m0 19v62m0 25v24m0 20v0m0 54v0M2668 3267v0m0 89v0m0 46v20m0 20v20m0 22v1m0 27v16m0 30v11m0 28v8m0 21v42m0 19v12m0 21v0m0 14v0m0 35v0m0 46v6m0 14v79m0 17v0m0 30v8m0 21v9m0 25v16m0 28v0M2672 3235v5m0 49v0m0 63v8m0 61v0m0 27v12m0 25v0m0 15v47m0 18v0m0 35v0m0 14v8m0 29v27m0 30v7m0 30v0m0 21v0m0 15v25m0 20v70m0 32v2m0 28v8m0 44v0m0 13v0m0 31v0M2676 3307v5m0 65v0m0 79v12m0 30v6m0 20v25m0 23v0m0 52v0m0 19v2m0 16v31m0 30v25m0 15v72m0 17v9m0 14v29m0 37v41m0 78v0M2680 3221v0m0 32v0m0 28v0m0 22v0m0 98v0m0 51v6m0 44v0m0 13v5m0 36v4m0 18v5m0 45v0m0 17v2m0 13v11m0 14v42m0 16v17m0 36v60m0 16v0m0 22v6m0 20v5m0 21v3m0 33v0m0 24v9m0 14v15m0 14v2m0 27v0M2684 3428v0m0 95v0m0 39v5m0 32v10m0 13v2m0 24v23m0 27v0m0 15v8m0 17v67m0 14v65m0 15v17m0 17v20m0 13v8m0 14v3m0 14v0m0 15v0m0 24v11m0 34v0M2688 3218v0m0 16v0m0 70v0m0 16v0m0 80v0m0 27v0m0 95v0m0 59v3m0 19v0m0 14v10m0 20v0m0 18v5m0 31v36m0 18v65m0 18v11m0 24v0m0 17v21m0 16v38m0 13v0m0 26v20m0 18v0m0 15v0m0 15v0m0 18v0M2692 3347v3m0 93v0m0 92v0m0 26v0m0 17v0m0 17v5m0 16v0m0 19v0m0 50v0m0 21v0m0 22v0m0 16v51m0 19v11m0 17v16m0 24v68m0 18v15m0 13v12m0 63v0m0 21v0M2696 3302v9m0 39v1m0 28v0m0 14v0m0 35v0m0 25v0m0 60v5m0 35v0m0 27v0m0 60v0m0 60v1m0 20v28m0 23v7m0 21v0m0 14v82m0 19v55m0 14v32m0 34v0M2700 3450v0m0 76v10m0 13v0m0 24v0m0 40v0m0 50v12m0 15v1m0 35v0m0 20v0m0 13v11m0 23v15m0 33v2m0 18v59m0 13v112m0 35v0m0 14v0M2704 3344v0m0 137v0m0 90v0m0 27v22m0 19v3m0 35v0m0 28v30m0 13v12m0 18v103m0 28v8m0 14v15m0 17v22m0 27v12m0 24v2m0 20v0M2708 3352v0m0 46v0m0 17v0m0 26v0m0 42v7m0 16v7m0 80v0m0 14v15m0 23v0m0 14v6m0 38v17m0 14v4m0 18v24m0 19v0m0 18v1m0 31v0m0 17v28m0 13v36m0 22v0m0 15v32m0 13v2m0 19v12m0 48v0M2712 3379v0m0 26v0m0 47v0m0 28v9m0 65v0m0 13v0m0 40v40m0 18v0m0 36v0m0 30v55m0 16v4m0 13v28m0 19v9m0 16v0m0 13v43m0 24v22m0 21v0m0 58v4M2716 3453v0m0 58v0m0 26v0m0 18v0m0 23v0m0 17v5m0 33v0m0 16v0m0 47v0m0 69v77m0 26v0m0 19v33m0 25v143M2720 3597v9m0 105v0m0 42v0m0 30v0m0 13v22m0 15v3m0 15v9m0 19v0m0 16v0m0 57v0m0 15v23m0 22v78M2724 3717v0m0 99v8m0 25v2m0 86v0m0 20v2m0 16v124M2728 3844v0m0 29v3m0 30v0m0 30v7m0 27v4m0 30v90M2732 4010v91M2736 4039v65M2740 4029v77M2744 4042v64M2748 4041v64M2752 4033v67M2756 4055v49M2760 4040v63M2764 4040v66M2768 4027v75M2772 4039v67M2776 4042v64M2780 4031v75M2784 4028v71M2788 4039v59M2792 4042v50M2796 4053v53M2800 4042v62M2804 4028v76M2808 4027v68M2812 4028v0m0 14v65M2816 4036v71M2820 4031v68M2824 4019v81M2828 4024v75M2832 4028v78M2836 3986v5m0 17v0m0 20v78M2840 3970v3m0 24v10m0 13v88M2844 3971v30m0 16v89M2848 3907v0m0 22v0m0 21v0m0 19v1m0 17v114M2852 3961v24m0 15v111M2856 3878v7m0 22v0m0 21v0m0 13v104m0 13v39M2860 3834v0m0 35v12m0 16v22m0 18v161M2864 3876v11m0 17v193M2868 3944v166M2872 3951v0m0 13v124M2876 3968v7m0 21v104M2880 4007v93M2884 4038v63M2888 4041v64M2892 4040v57M2896 4044v62M2900 4038v67M2904 4045v60M2908 4043v62M2912 4054v49M2916 4042v61M2920 4042v61M2924 4036v64M2928 4035v68M2932 4041v60M2936 4043v51M2940 4049v54M2944 4054v53M2948 4049v54M2952 4041v0m0 23v36M2956 4059v43M2960 4065v36M2964 4064v38M2968 4067v32M2972 4070v32M2976 4075v27M2980 4079v26M2984 4079v27M2988 4080v26M2992 4083v24M2996 4089v18M3000 4086v23M3004 4088v25M3008 4091v21M3012 4093v19M3016 4094v16M3020 4094v16M3024 4074v32M3028 4034v0m0 13v54M3032 4018v6m0 15v59M3036 3888v8m0 22v0m0 14v3m0 15v119m0 17v2M3040 3768v0m0 32v0m0 17v3m0 14v0m0 14v21m0 22v168m0 26v0M3044 3669v0m0 14v0m0 25v0m0 20v0m0 17v6m0 24v60m0 18v38m0 15v118m0 36v0M3048 3651v0m0 20v88m0 21v106m0 16v17m0 27v0m0 21v17m0 16v0m0 14v2M3052 3609v1m0 23v30m0 17v99m0 13v1m0 22v23m0 23v0m0 13v8m0 30v33m0 14v10m0 45v2m0 50v0M3056 3426v0m0 31v0m0 53v10m0 23v8m0 21v3m0 17v129m0 29v2m0 17v0m0 35v0m0 21v1m0 36v0m0 35v31M3060 3331v0m0 18v4m0 55v0m0 24v0m0 22v8m0 21v14m0 24v0m0 16v101m0 44v6m0 28v0m0 18v0m0 20v11m0 27v0m0 14v0m0 15v0m0 14v0m0 27v10m0 15v17m0 24v8m0 22v21m0 17v16m0 35v0M3064 3182v0m0 22v0m0 34v0m0 88v0m0 57v0m0 37v4m0 13v10m0 20v0m0 14v16m0 15v12m0 24v17m0 13v11m0 14v29m0 29v54m0 19v14m0 16v0m0 13v65m0 38v9m0 63v7m0 30v10m0 17v0M3068 2953v0m0 28v0m0 145v0m0 17v0m0 159v33m0 23v79m0 15v124m0 15v38m0 24v0m0 34v32m0 16v0m0 83v35m0 47v14m0 44v0m0 45v0m0 41v1M3072 3302v0m0 53v0m0 13v0m0 13v0m0 24v0m0 30v1m0 16v14m0 23v36m0 18v19m0 19v15m0 13v10m0 13v11m0 13v0m0 20v15m0 15v0m0 15v46m0 20v0m0 15v4m0 16v2m0 14v17m0 32v9m0 24v0m0 14v7m0 35v0m0 23v0m0 40v0M3076 3338v3m0 14v0m0 30v18m0 17v0m0 13v0m0 24v0m0 23v15m0 32v0m0 13v0m0 25v5m0 13v62m0 15v41m0 13v15m0 16v9m0 27v7m0 18v0m0 24v12m0 29v12m0 22v18m0 23v0m0 20v0m0 51v0M3080 3313v20m0 20v20m0 26v38m0 18v42m0 16v25m0 17v2m0 19v33m0 13v7m0 29v0m0 14v73m0 17v5m0 14v37m0 13v4m0 20v46m0 22v5m0 24v13m0 21v9M3084 3323v0m0 23v0m0 107v8m0 54v0m0 30v4m0 45v10m0 17v53m0 15v11m0 15v0m0 29v75m0 29v18m0 16v104m0 26v0m0 16v0M3088 3415v0m0 124v0m0 44v31m0 13v0m0 17v0m0 13v0m0 20v0m0 24v33m0 15v0m0 18v10m0 15v28m0 20v43m0 15v13m0 19v19m0 14v30m0 15v0m0 13v3M3092 3342v0m0 180v0m0 36v11m0 16v0m0 15v0m0 28v0m0 38v0m0 30v0m0 31v0m0 16v13m0 30v21m0 25v28m0 14v106m0 14v20M3096 3398v0m0 112v12m0 15v0m0 59v5m0 23v0m0 13v0m0 14v29m0 15v0m0 39v29m0 21v2m0 22v16m0 14v71m0 18v11m0 21v22m0 15v14m0 22v0M3100 3503v0m0 78v0m0 15v0m0 17v8m0 17v10m0 23v12m0 13v10m0 15v49m0 18v21m0 14v24m0 21v9m0 22v4m0 16v9m0 13v14m0 13v17m0 19v0m0 30v1M3104 3587v5m0 15v0m0 87v0m0 18v4m0 28v0m0 25v6m0 17v9m0 18v183m0 19v11M3108 3565v0m0 37v0m0 158v12m0 16v2m0 37v3m0 21v33m0 15v2m0 20v107M3112 3542v0m0 63v0m0 25v0m0 35v0m0 13v21m0 15v11m0 13v0m0 22v5m0 19v19m0 13v15m0 19v0m0 14v151m0 23v8M3116 3355v3m0 18v0m0 48v14m0 13v0m0 21v0m0 50v1m0 27v9m0 15v26m0 13v0m0 26v3m0 27v35m0 38v33m0 23v14m0 33v45m0 16v5m0 16v3m0 35v18m0 37v0m0 19v1M3120 3286v0m0 42v25m0 27v0m0 34v0m0 13v0m0 23v26m0 39v86m0 17v0m0 13v4m0 19v38m0 13v0m0 29v2m0 16v16m0 30v0m0 13v53m0 13v12m0 55v0m0 32v12m0 20v0m0 32v0M3124 3309v8m0 28v6m0 18v1m0 16v32m0 18v14m0 26v20m0 13v14m0 15v65m0 14v57m0 17v10m0 44v10m0 31v0m0 19v20m0 15v5m0 20v0m0 16v0m0 40v7m0 76v0m0 25v0M3128 3367v0m0 63v0m0 86v0m0 26v2m0 15v12m0 18v5m0 15v16m0 14v4m0 15v0m0 20v4m0 14v21m0 21v0m0 26v79m0 29v1m0 32v2m0 13v20m0 14v33m0 29v19m0 24v0M3132 3604v5m0 37v9m0 17v0m0 18v8m0 14v4m0 36v1m0 28v6m0 19v8m0 13v27m0 16v18m0 16v57m0 19v51m0 29v0M3136 3588v0m0 22v0m0 38v0m0 16v1m0 24v12m0 14v0m0 48v0m0 26v77m0 13v8m0 13v21m0 13v80m0 26v23M3140 3698v0m0 29v0m0 17v20m0 28v0m0 13v0m0 13v8m0 25v8m0 19v41m0 13v11m0 15v77M3144 3831v0m0 20v152m0 19v32m0 14v0M3148 3877v5m0 13v7m0 20v118m0 18v10M3152 3845v224M3156 3737v0m0 16v0m0 65v0m0 15v16m0 36v22m0 13v144M3160 3758v0m0 40v0m0 25v4m0 14v0m0 34v29m0 23v38m0 16v0m0 13v76M3164 3757v0m0 33v15m0 15v197m0 13v3m0 18v0m0 21v0M3168 3751v6m0 17v0m0 15v0m0 17v0m0 26v76m0 22v95m0 16v17M3172 3660v0m0 14v0m0 44v12m0 64v13m0 15v69m0 13v75m0 14v10m0 45v1m0 30v0M3176 3774v0m0 15v0m0 14v0m0 22v220m0 21v18M3180 3633v12m0 15v15m0 24v16m0 19v38m0 16v102m0 17v37m0 13v41m0 16v11m0 56v5M3184 3643v0m0 19v24m0 46v34m0 17v63m0 23v14m0 16v31m0 18v13m0 22v19m0 31v18m0 21v0m0 15v2M3188 3722v21m0 54v3m0 15v20m0 15v3m0 14v39m0 19v139m0 14v8M3192 3811v0m0 21v4m0 17v0m0 13v180m0 15v0m0 33v0M3196 3799v18m0 13v196m0 13v41m0 15v4M3200 3711v0m0 13v0m0 28v0m0 41v0m0 13v6m0 15v12m0 13v135m0 14v12m0 48v0m0 15v24M3204 3774v115m0 22v45m0 13v8m0 13v0m0 18v37m0 13v0m0 20v27M3208 3819v34m0 14v70m0 13v68m0 23v48M3212 3876v201m0 13v0m0 17v0M3216 3874v0m0 53v141m0 17v14M3220 3900v9m0 16v0m0 17v12m0 18v134M3224 3905v3m0 17v21m0 30v120M3228 3874v0m0 23v0m0 20v12m0 15v21m0 14v120M3232 3795v0m0 23v0m0 23v0m0 17v0m0 44v186M3236 3731v6m0 45v9m0 18v12m0 30v58m0 22v15m0 13v91M3240 3735v0m0 26v6m0 43v0m0 16v88m0 13v112m0 21v0m0 17v16M3244 3693v21m0 16v22m0 25v12m0 13v24m0 16v12m0 13v53m0 13v54m0 20v39m0 37v3M3248 3687v0m0 53v0m0 18v13m0 14v5m0 23v0m0 18v0m0 14v6m0 19v0m0 21v0m0 33v48m0 15v103M3252 3684v0m0 85v0m0 25v0m0 25v0m0 64v0m0 15v15m0 19v0m0 21v2m0 20v6m0 19v88M3256 3770v0m0 31v0m0 21v0m0 61v15m0 15v55m0 13v33m0 15v64M3260 3929v154M3264 3899v18m0 16v157M3268 3923v0m0 27v7m0 17v116M3272 3896v0m0 28v12m0 17v12m0 17v0m0 14v94M3276 3864v0m0 22v30m0 26v145M3280 3928v153M3284 3900v0m0 43v37m0 25v73M3288 3908v7m0 15v21m0 14v95m0 14v0M3292 3941v143M3296 3975v111M3300 3945v0m0 27v0m0 14v99M3304 3969v114M3308 3928v18m0 13v4m0 14v9m0 15v81M3312 3933v0m0 19v0m0 15v11m0 17v87M3316 3929v17m0 13v115M3320 3970v111M3324 3915v6m0 18v142M3328 3927v7m0 20v106M3332 3953v108m0 16v3M3336 3929v139M3340 3928v3m0 13v135M3344 3859v0m0 57v16m0 16v39m0 18v74M3348 3842v0m0 82v10m0 21v107m0 13v6M3352 3921v0m0 24v138M3356 3832v0m0 76v0m0 32v142M3360 3932v154M3364 3949v0m0 19v2m0 13v100M3368 3955v10m0 20v104M3372 3937v0m0 40v115M3376 3918v0m0 27v0m0 16v0m0 17v112M3380 3958v28m0 14v96M3384 3968v0m0 17v0m0 14v97M3388 3965v131M3392 3939v1m0 19v0m0 13v2m0 14v1m0 21v88M3396 3919v18m0 18v142M3400 3900v2m0 16v0m0 37v137M3404 3897v0m0 15v1m0 15v80m0 15v53m0 18v0M3408 3844v0m0 18v0m0 13v0m0 14v26m0 13v120m0 23v0M3412 3872v5m0 22v0m0 13v143M3416 3820v0m0 92v164m0 13v0M3420 3894v1m0 17v0m0 15v141m0 13v0M3424 3889v10m0 20v0m0 18v120m0 20v9M3428 3907v3m0 34v0m0 13v120M3432 3891v13m0 14v0m0 17v144m0 15v0M3436 3924v145M3440 3915v22m0 15v131M3444 3927v6m0 27v117M3448 3961v0m0 13v115M3452 3997v91M3456 3992v0m0 21v75M3460 3989v0m0 15v2m0 15v72M3464 3979v112M3468 3993v97M3472 3989v0m0 14v3m0 13v79M3476 3936v0m0 36v2m0 13v15m0 13v80M3480 3972v0m0 36v91M3484 3960v0m0 14v0m0 33v93M3488 3976v9m0 17v87M3492 3982v1m0 16v1m0 16v86M3496 3950v0m0 14v0m0 17v18m0 13v89M3500 3990v108M3504 3983v4m0 15v98M3508 3989v109M3512 3988v108M3516 3981v27m0 14v75M3520 3972v9m0 23v85M3524 3952v0m0 18v119M3528 3967v128M3532 3961v128M3536 3953v13m0 22v107M3540 3947v148M3544 3972v0m0 23v0m0 16v87M3548 3977v121M3552 3980v1m0 24v83M3556 3995v96M3560 4004v94M3564 3989v108M3568 4000v8m0 13v79M3572 3981v112M3576 3963v0m0 22v12m0 16v86M3580 3981v0m0 15v0m0 24v81M3584 4013v22m0 20v46M3588 4026v0m0 13v63M3592 4038v61M3596 4049v53M3600 4042v61M3604 4038v64M3608 4037v67M3612 4035v66M3616 4032v72M3620 4033v70M3624 4018v0m0 25v63M3628 4012v95M3632 3997v18m0 19v69M3636 4000v19m0 16v72M3640 3980v52m0 13v61M3644 3969v8m0 21v0m0 14v97M3648 3957v140M3652 3958v0m0 17v99m0 15v6M3656 3952v9m0 14v130M3660 3965v20m0 25v97M3664 4006v1m0 13v87M3668 4014v93M3672 4029v78M3676 4005v100M3680 4029v80M3684 3980v0m0 19v0m0 33v79M3688 4001v111M3692 4002v0m0 15v95M3696 4022v91M3700 4023v90M3704 4016v16m0 13v67M3708 4030v1m0 21v60M3712 4035v79M3716 4033v74M3720 4024v89M3724 4024v89M3728 4016v97M3732 4014v96M3736 4037v0m0 18v63M3740 4034v0m0 21v59M3744 4041v78M3748 4021v98M3752 4002v0m0 23v81M3756 3991v130M3760 3962v5m0 21v129M3764 3997v114M3768 4022v0m0 18v74M3772 4041v77M3776 4044v70M3780 4042v72M3784 4023v96M3788 4046v67M3792 4055v65M3796 4043v77M3800 4051v68M3804 4058v61M3808 4075v44M3812 4076v43M3816 4077v43M3820 4082v36M3824 4074v46M3828 4083v37M3832 4086v34M3836 4081v37M3840 4082v37M3844 4084v34M3848 4085v35M3852 4095v25M3856 4094v26M3860 4091v29M3864 4088v32M3868 4092v25M3872 4085v35M3876 4089v28M3880 4089v32M3884 4090v31M3888 4088v31M3892 4087v34M3896 4089v33M3900 4086v36M3904 4086v36M3908 4084v38M3912 4087v30M3916 4084v37M3920 4084v35M3924 4084v37M3928 4088v34M3932 4087v33M3936 4086v36M3940 4087v35M3944 4095v25M3948 4091v32M3952 4096v27M3956 4093v29M3960 4093v30M3964 4098v25M3968 4098v25M3972 4095v27M3976 4097v23M3980 4095v27M3984 4098v24M3988 4095v25M3992 4097v26M3996 4096v27M4000 4099v23M4004 4096v27M4008 4098v25M4012 4095v28M4016 4097v26M4020 4094v28M4024 4100v22M4028 4095v28M4032 4096v26M4036 4095v27M4040 4095v24M4044 4095v27M4048 4096v25M4052 4096v25M4056 4095v27M4060 4095v25M4064 4098v22M4068 4095v28M4072 4098v24M4076 4095v28M4080 4102v21M4084 4098v25M4088 4097v26M4092 4098v24M4096 4097v26M4100 4095v28M4104 4096v27M4108 4097v25M4112 4096v25M4116 4097v25M4120 4096v25M4124 4095v24M4128 4096v24M4132 4100v21M4136 4094v28M4140 4094v28M4144 4095v24M4148 4096v25M4152 4095v26M4156 4096v25M4160 4094v27M4164 4099v22M4168 4099v22M4172 4095v23M4176 4095v22M4180 4095v22M4184 4098v22M4188 4095v25M4192 4095v22M4196 4094v23M4200 4094v25M4204 4093v26M4208 4093v26M4212 4092v29M4216 4092v29M4220 4093v28M4224 4090v28M4228 4093v29M4232 4091v32M4236 4091v32M4240 4091v32M4244 4089v34M4248 4089v35M4252 4086v36M4256 4077v47M4260 4079v40M4264 4083v38M4268 4064v61M4272 4083v44M4276 4086v40M4280 4097v31M4284 4099v28M4288 4101v28M4292 4098v32M4296 4096v35M4300 4097v33M4304 4094v36M4308 4094v36M4312 4093v36M4316 4095v28M4320 4092v36M4324 4091v37M4328 4088v37M4332 4092v35M4336 4091v35M4340 4092v34M4344 4095v31M4348 4095v31M4352 4098v25M4356 4096v27M4360 4101v24M4364 4100v25M4368 4098v25M4372 4099v26M4376 4100v25M4380 4099v25M4384 4100v24M4388 4098v25M4392 4098v22M4396 4096v27M4400 4101v22M4404 4099v21M4408 4098v23M4412 4097v27M4416 4098v24M4420 4097v26M4424 4094v30M4428 4094v28M4432 4093v31M4436 4096v28M4440 4095v29M4444 4094v30M4448 4095v27M4452 4092v32M4456 4094v27M4460 4093v32M4464 4094v31M4468 4092v33M4472 4094v31M4476 4092v31M4480 4092v33M4484 4096v26M4488 4095v27M4492 4101v24M4496 4094v26M4500 4093v30M4504 4088v37M4508 4090v35M4512 4093v28M4516 4091v34M4520 4090v35M4524 4090v36M4528 4093v33M4532 4091v29M4536 4085v41M4540 4095v31M4544 4095v31M4548 4091v33M4552 4091v35M4556 4093v33M4560 4090v34M4564 4086v35M4568 4089v34M4572 4092v34M4576 4089v37M4580 4095v32M4584 4088v38M4588 4089v38M4592 4091v36M4596 4090v35M4600 4091v37M4604 4093v36M4608 4095v29M4612 4094v36M4616 4094v36M4620 4096v34M4624 4097v31M4628 4086v42M4632 4097v33M4636 4097v34M4640 4094v37M4644 4093v37M4648 4093v29M4652 4093v36M4656 4094v31M4660 4096v29M4664 4099v26M4668 4096v26M4672 4097v26M4676 4096v27M4680 4099v24M4684 4094v29M4688 4097v25M4692 4095v27M4696 4096v19M4700 4094v24M4704 4094v27M4708 4095v27M4712 4095v27M4716 4095v26M4720 4094v26M4724 4094v27M4728 4092v29M4732 4092v29M4736 4092v30M4740 4091v30M4744 4091v31M4748 4091v31M4752 4091v31M4756 4095v26M4760 4093v26M4764 4099v22M4768 4091v30M4772 4089v32M4776 4089v32M4780 4095v23M4784 4090v29M4788 4091v31M4792 4085v37M4796 4092v30M4800 4091v31M4804 4090v32M4808 4090v30M4812 4090v30M4816 4092v30M4820 4092v27M4824 4090v27M4828 4093v27M4832 4089v30M4836 4087v35M4840 4094v27M4844 4091v31M4848 4089v33M4852 4089v30M4856 4084v37M4860 4089v33M4864 4087v35M4868 4088v34M4872 4087v37M4876 4089v33M4880 4087v37M4884 4087v32M4888 4087v37M4892 4090v34M4896 4090v34M4900 4088v37M4904 4087v38M4908 4089v32M4912 4088v37M4916 4089v36M4920 4094v31M4924 4087v35M4928 4095v27M4932 4088v34M4936 4090v30M4940 4089v33M4944 4086v36M4948 4090v36M4952 4090v36M4956 4088v37M4960 4080v44M4964 4082v43M4968 4085v41M4972 4083v43M4976 4077v49M4980 4082v43M4984 4090v34M4988 4081v44M4992 4080v45M4996 4084v40M5000 4085v40M5004 4083v42M5008 4078v46M5012 4075v50M5016 4085v40M5020 4084v41M5024 4082v43M5028 4084v42M5032 4086v40M5036 4088v38M5040 4088v35M5044 4088v37M5048 4087v39M5052 4086v38M5056 4091v36M5060 4087v40M5064 4081v46M5068 4077v50M5072 4080v47M5076 4075v49M5080 4077v49M5084 4072v47M5088 4068v55M5092 4068v58M5096 4073v52M5100 4077v49M5104 4068v54M5108 4068v58M5112 4059v64M5116 4067v59M5120 4068v58M5124 4079v47M5128 4070v57M5132 4067v54M5136 4067v58M5140 4079v46M5144 4070v57M5148 4063v58M5152 4057v69M5156 4075v51M5160 4075v47M5164 4070v55M5168 4076v48M5172 4084v40M5176 4085v37M5180 4086v41M5184 4090v32M5188 4085v39M5192 4086v41M5196 4089v37M5200 4085v41M5204 4087v40M5208 4083v38M5212 4085v42M5216 4084v43M5220 4088v37M5224 4086v41M5228 4085v36M5232 4088v36M5236 4088v37M5240 4095v27M5244 4089v35M5248 4083v41M5252 4083v41M5256 4085v37M5260 4085v38M5264 4087v31M5268 4089v35M5272 4088v34M5276 4085v38M5280 4084v39M5284 4081v42M5288 4079v44M5292 4088v32M5296 4074v49M5300 4082v41M5304 4070v53M5308 4070v53M5312 4068v56M5316 4070v55M5320 4077v45M5324 4066v59M5328 4067v60M5332 4065v60M5336 4062v64M5340 4064v56M5344 4063v63M5348 4061v67M5352 4057v58M5356 4059v66M5360 4046v82M5364 4049v72M5368 4043v78M5372 4043v84M5376 4038v86M5380 4034v93M5384 4030v98M5388 4032v82M5392 4022v93m0 13v0M5396 4031v84M5400 4024v99M5404 4036v84M5408 4023v103M5412 4015v109M5416 4026v100M5420 4014v1m0 21v90M5424 4015v110M5428 4028v93M5432 4024v102M5436 4013v108M5440 4022v99M5444 4043v75M5448 4034v85M5452 4028v91M5456 4033v96M5460 4024v99M5464 4020v108M5468 4000v0m0 17v13m0 16v78M5472 4025v99M5476 4013v10m0 17v81M5480 3999v0m0 16v108M5484 4029v94M5488 4010v115M5492 4017v108M5496 3996v129M5500 3991v121m0 13v0M5504 3993v2m0 19v101M5508 4017v103M5512 4010v103M5516 4013v95M5520 4025v88M5524 4000v13m0 20v80M5528 4019v94M5532 4024v74m0 13v2M5536 4010v5m0 14v82M5540 4023v1m0 16v71M5544 4036v75M5548 3996v0m0 21v94M5552 4009v103M5556 4003v0m0 14v95M5560 4004v108M5564 3976v0m0 22v111M5568 4019v91M5572 3992v1m0 13v106M5576 3986v0m0 15v98m0 13v0M5580 4013v97M5584 4007v104M5588 4026v85M5592 4015v96M5596 4011v100M5600 4006v2m0 15v88M5604 4000v8m0 14v81M5608 3993v13m0 14v82M5612 4001v110M5616 4000v111M5620 4007v98M5624 4014v93M5628 4003v6m0 23v75M5632 4008v0m0 17v82M5636 4011v31m0 13v48M5640 4007v0m0 20v83M5644 4002v108M5648 3985v9m0 21v80M5652 3985v14m0 18v84M5656 3982v17m0 13v96M5660 3984v122M5664 3987v0m0 15v99M5668 3994v3m0 33v76M5672 4013v94M5676 4005v0m0 14v88M5680 4030v74M5684 4005v0m0 21v81M5688 4021v88M5692 4020v89M5696 3997v105M5700 3986v0m0 14v0m0 17v83M5704 3992v0m0 19v97M5708 3989v119M5712 3987v12m0 13v95M5716 3986v99M5720 3983v5m0 13v101M5724 3990v0m0 16v92M5728 3978v10m0 14v97M5732 3982v115M5736 3975v113M5740 3967v0m0 15v123M5744 3911v0m0 15v24m0 15v139M5748 3970v1m0 23v110M5752 3915v5m0 50v139M5756 3913v3m0 15v0m0 24v0m0 16v116m0 17v7M5760 3960v7m0 13v127M5764 3948v5m0 13v134M5768 3897v0m0 23v0m0 18v162M5772 3929v171M5776 3907v0m0 13v0m0 13v17m0 23v112M5780 3947v12m0 14v120M5784 3915v0m0 15v34m0 14v104M5788 3898v0m0 25v152M5792 3892v2m0 45v147M5796 3921v167M5800 3867v0m0 23v10m0 28v160M5804 3905v0m0 29v19m0 14v103m0 14v4M5808 3894v21m0 29v144M5812 3943v21m0 14v19m0 13v81M5816 3966v118M5820 3873v0m0 29v2m0 44v19m0 13v111M5824 3902v0m0 37v14m0 14v107m0 17v0M5828 3913v29m0 15v40m0 13v71M5832 3912v0m0 20v0m0 23v135M5836 3955v128M5840 3925v11m0 23v122M5844 3897v0m0 16v0m0 20v6m0 16v135M5848 3934v0m0 15v47m0 13v67m0 13v0M5852 4030v30m0 17v11" stroke="#1f77b4" stroke-width="22.24" stroke-linecap="round" fill="none"/>
<polyline points="116.5,1006.3 117.5,1009.5 118.5,1011.0 119.5,1010.6 120.5,1008.6 121.5,1005.8 122.5,1000.5 123.5,993.2 124.5,990.1 125.5,995.6 126.5,1003.9 127.5,1007.2 128.5,1008.0 129.5,1008.2 130.5,1001.1 131.5,995.7 132.5,999.1 133.5,1004.0 134.5,1005.5 135.5,1005.1 136.5,1004.4 137.5,1003.5 138.5,1002.6 139.5,1000.8 140.5,999.0 141.5,998.6 142.5,1000.6 143.5,1003.2 144.5,1004.8 145.5,1006.1 146.5,1006.8 147.5,1003.0 148.5,991.7 149.5,984.6 150.5,979.4 151.5,976.3 152.5,977.6 153.5,983.2 154.5,989.5 155.5,994.7 156.5,999.8 157.5,1002.8 158.5,1004.3 159.5,1005.2 160.5,1005.3 161.5,1002.8 162.5,999.1 163.5,997.1 164.5,997.8 165.5,999.2 166.5,999.7 167.5,991.0 168.5,978.4 169.5,975.9 170.5,988.0 171.5,995.6 172.5,987.6 173.5,981.8 174.5,987.6 175.5,996.0 176.5,998.2 177.5,994.6 178.5,990.7 179.5,993.1 180.5,1004.8 181.5,1005.1 182.5,997.0 183.5,990.4 184.5,992.0 185.5,996.3 186.5,996.1 187.5,991.7 188.5,990.7 189.5,997.2 190.5,999.6 191.5,996.0 192.5,990.8 193.5,986.2 194.5,980.7 195.5,975.7 196.5,973.3 197.5,978.2 198.5,984.5 199.5,975.6 200.5,955.4 201.5,937.8 202.5,922.4 203.5,913.2 204.5,924.7 205.5,949.5 206.5,980.3 207.5,986.6 208.5,983.3 209.5,980.5 210.5,980.5 211.5,981.2 212.5,981.7 213.5,979.5 214.5,973.1 215.5,962.5 216.5,920.0 217.5,896.8 218.5,910.8 219.5,922.9 220.5,906.3 221.5,887.9 222.5,908.6 223.5,944.4 224.5,967.9 225.5,988.7 226.5,998.5 227.5,995.3 228.5,988.2 229.5,982.5 230.5,978.8 231.5,975.6 232.5,971.9 233.5,967.5 234.5,963.5 235.5,960.6 236.5,958.0 237.5,956.6 238.5,958.2 239.5,963.2 240.5,966.3 241.5,961.6 242.5,951.0 243.5,926.7 244.5,917.9 245.5,939.1 246.5,954.3 247.5,961.5 248.5,967.2 249.5,972.7 250.5,974.5 251.5,967.6 252.5,964.3 253.5,980.3 254.5,983.0 255.5,974.9 256.5,966.3 257.5,962.1 258.5,958.9 259.5,957.9 260.5,958.9 261.5,960.6 262.5,965.7 263.5,973.1 264.5,975.9 265.5,967.9 266.5,960.7 267.5,963.9 268.5,970.4 269.5,973.3 270.5,971.6 271.5,970.6 272.5,975.8 273.5,982.7 274.5,983.8 275.5,978.0 276.5,974.8 277.5,978.1 278.5,980.2 279.5,977.1 280.5,973.0 281.5,971.9 282.5,971.9 283.5,971.9 284.5,974.0 285.5,981.8 286.5,984.5 287.5,984.5 288.5,984.5 289.5,984.5 290.5,984.8 291.5,985.6 292.5,986.8 293.5,988.7 294.5,992.0 295.5,992.1 296.5,986.3 297.5,983.3 298.5,991.8 299.5,997.0 300.5,994.8 301.5,990.4 302.5,984.4 303.5,973.4 304.5,971.6 305.5,979.9 306.5,988.6 307.5,991.1 308.5,992.3 309.5,992.9 310.5,992.0 311.5,989.9 312.5,988.7 313.5,990.9 314.5,995.2 315.5,999.0 316.5,998.9 317.5,990.0 318.5,977.7 319.5,966.7 320.5,955.3 321.5,954.8 322.5,974.9 323.5,980.8 324.5,974.1 325.5,970.6 326.5,974.9 327.5,978.9 328.5,974.1 329.5,971.1 330.5,982.6 331.5,991.5 332.5,984.4 333.5,981.3 334.5,993.0 335.5,1003.6 336.5,1001.0 337.5,993.2 338.5,988.7 339.5,992.7 340.5,1000.1 341.5,1004.5 342.5,1006.3 343.5,1005.3 344.5,977.6 345.5,956.5 346.5,976.5 347.5,1002.6 348.5,1000.5 349.5,990.3 350.5,983.2 351.5,981.6 352.5,980.6 353.5,980.4 354.5,983.9 355.5,985.3 356.5,973.7 357.5,968.2 358.5,975.9 359.5,981.7 360.5,976.6 361.5,966.9 362.5,956.3 363.5,947.0 364.5,949.3 365.5,955.7 366.5,959.3 367.5,954.5 368.5,947.9 369.5,943.7 370.5,941.2 371.5,947.4 372.5,960.1 373.5,958.3 374.5,945.7 375.5,949.5 376.5,967.3 377.5,973.1 378.5,975.6 379.5,971.5 380.5,941.1 381.5,926.0 382.5,936.1 383.5,951.9 384.5,976.4 385.5,988.0 386.5,990.2 387.5,991.3 388.5,989.0 389.5,972.9 390.5,957.9 391.5,963.6 392.5,984.5 393.5,989.0 394.5,980.0 395.5,968.4 396.5,959.4 397.5,950.5 398.5,945.4 399.5,950.5 400.5,960.6 401.5,960.5 402.5,953.7 403.5,948.3 404.5,959.0 405.5,978.2 406.5,963.9 407.5,927.3 408.5,907.6 409.5,936.9 410.5,962.0 411.5,938.5 412.5,910.5 413.5,905.5 414.5,902.8 415.5,901.9 416.5,914.9 417.5,930.6 418.5,926.3 419.5,917.6 420.5,919.4 421.5,925.9 422.5,934.4 423.5,951.3 424.5,962.0 425.5,952.9 426.5,942.8 427.5,948.7 428.5,960.4 429.5,959.8 430.5,950.2 431.5,942.8 432.5,949.7 433.5,968.3 434.5,978.9 435.5,977.3 436.5,974.4 437.5,973.4 438.5,976.6 439.5,980.7 440.5,979.7 441.5,967.1 442.5,964.9 443.5,974.5 444.5,983.6 445.5,981.5 446.5,970.4 447.5,962.3 448.5,965.8 449.5,974.4 450.5,978.8 451.5,965.0 452.5,948.7 453.5,953.8 454.5,958.1 455.5,958.8 456.5,951.4 457.5,948.5 458.5,954.0 459.5,961.8 460.5,967.3 461.5,971.5 462.5,975.8 463.5,980.4 464.5,980.5 465.5,966.0 466.5,949.6 467.5,948.5 468.5,958.3 469.5,966.6 470.5,973.3 471.5,978.1 472.5,976.3 473.5,959.5 474.5,942.4 475.5,937.6 476.5,935.2 477.5,926.1 478.5,912.6 479.5,922.6 480.5,949.5 481.5,959.1 482.5,962.9 483.5,964.8 484.5,963.4 485.5,958.0 486.5,951.4 487.5,943.4 488.5,936.1 489.5,938.6 490.5,949.1 491.5,956.4 492.5,953.2 493.5,946.1 494.5,942.6 495.5,953.8 496.5,962.0 497.5,954.7 498.5,944.2 499.5,941.3 500.5,943.3 501.5,946.5 502.5,950.2 503.5,955.4 504.5,959.1 505.5,943.8 506.5,910.9 507.5,915.0 508.5,928.7 509.5,929.6 510.5,921.0 511.5,913.6 512.5,914.3 513.5,918.5 514.5,922.7 515.5,925.9 516.5,928.3 517.5,923.6 518.5,907.5 519.5,896.5 520.5,911.4 521.5,931.2 522.5,908.7 523.5,882.4 524.5,911.0 525.5,950.9 526.5,936.9 527.5,892.0 528.5,871.9 529.5,861.5 530.5,856.1 531.5,866.1 532.5,899.8 533.5,922.6 534.5,894.9 535.5,858.7 536.5,864.1 537.5,877.4 538.5,891.1 539.5,907.3 540.5,913.9 541.5,895.6 542.5,879.6 543.5,892.4 544.5,917.5 545.5,928.1 546.5,906.2 547.5,875.6 548.5,868.1 549.5,880.1 550.5,892.9 551.5,889.0 552.5,860.2 553.5,836.2 554.5,852.1 555.5,902.4 556.5,934.0 557.5,931.6 558.5,924.9 559.5,915.6 560.5,891.5 561.5,872.7 562.5,900.6 563.5,935.4 564.5,931.3 565.5,921.0 566.5,910.1 567.5,895.7 568.5,890.0 569.5,906.2 570.5,920.1 571.5,906.0 572.5,885.4 573.5,891.8 574.5,912.6 575.5,916.3 576.5,908.8 577.5,896.8 578.5,867.8 579.5,848.7 580.5,866.9 581.5,890.7 582.5,875.4 583.5,853.3 584.5,898.4 585.5,907.5 586.5,837.1 587.5,799.8 588.5,803.3 589.5,810.3 590.5,833.5 591.5,855.7 592.5,812.8 593.5,821.3 594.5,906.8 595.5,933.5 596.5,896.5 597.5,862.6 598.5,845.6 599.5,834.7 600.5,841.6 601.5,879.4 602.5,910.2 603.5,906.0 604.5,887.6 605.5,867.5 606.5,846.4 607.5,833.4 608.5,851.5 609.5,858.5 610.5,832.8 611.5,826.6 612.5,854.0 613.5,882.5 614.5,883.0 615.5,866.2 616.5,849.5 617.5,843.4 618.5,839.5 619.5,820.1 620.5,770.3 621.5,775.0 622.5,818.6 623.5,807.8 624.5,785.9 625.5,846.1 626.5,894.9 627.5,858.1 628.5,807.4 629.5,817.8 630.5,859.4 631.5,895.7 632.5,924.7 633.5,913.0 634.5,887.6 635.5,887.9 636.5,903.7 637.5,904.3 638.5,865.1 639.5,856.4 640.5,890.3 641.5,896.9 642.5,873.2 643.5,861.7 644.5,870.5 645.5,878.1 646.5,875.0 647.5,867.1 648.5,843.6 649.5,825.0 650.5,880.1 651.5,947.7 652.5,940.6 653.5,914.7 654.5,898.5 655.5,885.7 656.5,878.5 657.5,888.4 658.5,913.8 659.5,922.0 660.5,924.7 661.5,925.7 662.5,922.9 663.5,920.1 664.5,937.4 665.5,958.4 666.5,951.4 667.5,930.7 668.5,918.7 669.5,930.3 670.5,946.6 671.5,949.3 672.5,950.4 673.5,961.8 674.5,978.4 675.5,966.1 676.5,941.8 677.5,946.7 678.5,979.6 679.5,1000.7 680.5,1011.9 681.5,1016.3 682.5,1018.0 683.5,1019.1 684.5,1020.0 685.5,1021.0 686.5,1021.7 687.5,1022.2 688.5,1022.2 689.5,1021.7 690.5,1021.0 691.5,1020.1 692.5,1019.3 693.5,1018.5 694.5,1017.6 695.5,1016.9 696.5,1016.7 697.5,1017.1 698.5,1017.8 699.5,1018.1 700.5,1017.8 701.5,1017.3 702.5,1016.9 703.5,1016.7 704.5,1016.9 705.5,1017.3 706.5,1017.8 707.5,1018.1 708.5,1018.0 709.5,1017.8 710.5,1017.5 711.5,1016.9 712.5,1013.5 713.5,1003.6 714.5,998.3 715.5,995.7 716.5,1001.6 717.5,1009.7 718.5,1014.0 719.5,1017.2 720.5,1018.0 721.5,1016.9 722.5,1015.6 723.5,1015.6 724.5,1018.1 725.5,1020.6 726.5,1020.9 727.5,1020.9 728.5,1020.9 729.5,1020.9 730.5,1020.8 731.5,1020.1 732.5,1019.2 733.5,1018.3 734.5,1018.1 735.5,1018.9 736.5,1020.4 737.5,1021.7 738.5,1022.3 739.5,1022.3 740.5,1022.3 741.5,1022.4 742.5,1022.7 743.5,1023.0 744.5,1023.3 745.5,1023.6 746.5,1024.1 747.5,1024.7 748.5,1025.4 749.5,1026.0 750.5,1026.4 751.5,1026.5 752.5,1026.3 753.5,1026.0 754.5,1025.6 755.5,1025.0 756.5,1022.9 757.5,1018.9 758.5,1013.2 759.5,1002.0 760.5,987.5 761.5,968.4 762.5,948.9 763.5,928.3 764.5,912.7 765.5,906.4 766.5,903.3 767.5,907.5 768.5,916.9 769.5,928.3 770.5,941.8 771.5,955.3 772.5,968.1 773.5,967.6 774.5,953.9 775.5,959.8 776.5,995.9 777.5,992.2 778.5,952.0 779.5,919.2 780.5,897.9 781.5,916.3 782.5,949.9 783.5,976.7 784.5,987.8 785.5,988.8 786.5,989.4 787.5,991.5 788.5,996.7 789.5,1000.9 790.5,999.3 791.5,991.7 792.5,982.6 793.5,972.4 794.5,961.9 795.5,961.7 796.5,981.5 797.5,992.8 798.5,986.6 799.5,977.3 800.5,964.9 801.5,965.5 802.5,984.3 803.5,1002.1 804.5,1018.5 805.5,1019.2 806.5,1011.7 807.5,1005.1 808.5,1000.1 809.5,995.2 810.5,988.9 811.5,986.3 812.5,1005.7 813.5,1017.6 814.5,1004.6 815.5,992.9 816.5,1002.9 817.5,1018.1 818.5,1016.6 819.5,1008.4 820.5,1003.3 821.5,1000.0 822.5,1003.2 823.5,1010.8 824.5,1012.9 825.5,1013.6 826.5,1013.9 827.5,1012.6 828.5,1008.3 829.5,1004.2 830.5,1001.5 831.5,998.9 832.5,997.3 833.5,998.7 834.5,1004.8 835.5,1006.2 836.5,999.6 837.5,995.7 838.5,999.4 839.5,1005.4 840.5,1008.9 841.5,1010.8 842.5,1012.0 843.5,1012.8 844.5,1013.5 845.5,1013.9 846.5,1013.7 847.5,1012.7 848.5,1011.2 849.5,1006.9 850.5,1000.1 851.5,997.1 852.5,997.3 853.5,997.8 854.5,998.3 855.5,999.0 856.5,999.8 857.5,1000.8 858.5,1002.0 859.5,1003.7 860.5,1006.2 861.5,1009.0 862.5,1012.3 863.5,1016.1 864.5,1018.1 865.5,1016.2 866.5,1012.6 867.5,1011.2 868.5,1014.2 869.5,1018.3 870.5,1018.5 871.5,1010.8 872.5,1008.7 873.5,1012.2 874.5,1016.0 875.5,1017.1 876.5,1017.6 877.5,1017.9 878.5,1018.1 879.5,1016.6 880.5,1013.0 881.5,1009.2 882.5,1007.0 883.5,1007.4 884.5,1009.3 885.5,1011.5 886.5,1013.1 887.5,1014.6 888.5,1015.9 889.5,1016.6 890.5,1015.9 891.5,1013.8 892.5,1012.5 893.5,1013.7 894.5,1016.4 895.5,1018.8 896.5,1019.4 897.5,1019.0 898.5,1018.4 899.5,1018.1 900.5,1018.8 901.5,1020.3 902.5,1020.9 903.5,1020.8 904.5,1020.6 905.5,1020.4 906.5,1020.3 907.5,1020.7 908.5,1021.4 909.5,1022.1 910.5,1021.7 911.5,1015.4 912.5,1009.9 913.5,1011.0 914.5,1014.7 915.5,1017.7 916.5,1018.6 917.5,1019.1 918.5,1019.4 919.5,1019.4 920.5,1019.1 921.5,1018.6 922.5,1018.2 923.5,1018.1 924.5,1018.9 925.5,1020.3 926.5,1021.6 927.5,1022.3 928.5,1021.3 929.5,1019.1 930.5,1016.7 931.5,1015.3 932.5,1016.9 933.5,1021.2 934.5,1023.7 935.5,1023.2 936.5,1022.1 937.5,1020.5 938.5,1017.0 939.5,1013.3 940.5,1013.1 941.5,1018.0 942.5,1023.0 943.5,1023.5 944.5,1022.6 945.5,1021.3 946.5,1020.1 947.5,1019.5 948.5,1020.2 949.5,1022.3 950.5,1024.4 951.5,1025.1 952.5,1024.9 953.5,1024.6 954.5,1024.4 955.5,1024.2 956.5,1024.3 957.5,1024.6 958.5,1025.0 959.5,1025.4 960.5,1025.7 961.5,1026.0 962.5,1026.3 963.5,1026.6 964.5,1026.9 965.5,1027.2 966.5,1027.5 967.5,1027.7 968.5,1027.8 969.5,1027.9 970.5,1027.8 971.5,1027.6 972.5,1027.3 973.5,1027.0 974.5,1026.6 975.5,1026.3 976.5,1026.1 977.5,1025.9 978.5,1025.9 979.5,1026.1 980.5,1026.4 981.5,1026.7 982.5,1027.0 983.5,1027.4 984.5,1027.6 985.5,1027.8 986.5,1027.9 987.5,1027.9 988.5,1027.9 989.5,1027.9 990.5,1027.9 991.5,1027.9 992.5,1027.9 993.5,1027.9 994.5,1027.9 995.5,1027.9 996.5,1028.0 997.5,1028.1 998.5,1028.2 999.5,1028.4 1000.5,1028.5 1001.5,1028.6 1002.5,1028.7 1003.5,1028.7 1004.5,1028.6 1005.5,1028.4 1006.5,1028.1 1007.5,1027.8 1008.5,1027.5 1009.5,1027.3 1010.5,1027.1 1011.5,1027.0 1012.5,1027.1 1013.5,1027.3 1014.5,1027.5 1015.5,1027.8 1016.5,1028.1 1017.5,1028.4 1018.5,1028.6 1019.5,1028.7 1020.5,1028.7 1021.5,1028.7 1022.5,1028.6 1023.5,1028.6 1024.5,1028.5 1025.5,1028.4 1026.5,1028.3 1027.5,1028.2 1028.5,1028.1 1029.5,1028.0 1030.5,1027.9 1031.5,1027.8 1032.5,1027.8 1033.5,1027.7 1034.5,1027.6 1035.5,1027.6 1036.5,1027.5 1037.5,1027.5 1038.5,1027.4 1039.5,1027.3 1040.5,1027.2 1041.5,1027.1 1042.5,1027.0 1043.5,1026.8 1044.5,1026.5 1045.5,1026.2 1046.5,1025.9 1047.5,1025.6 1048.5,1025.3 1049.5,1025.2 1050.5,1025.1 1051.5,1025.2 1052.5,1025.4 1053.5,1025.8 1054.5,1026.1 1055.5,1026.4 1056.5,1026.5 1057.5,1026.4 1058.5,1026.3 1059.5,1026.2 1060.5,1026.1 1061.5,1026.0 1062.5,1025.9 1063.5,1026.0 1064.5,1026.6 1065.5,1027.1 1066.5,1027.5 1067.5,1028.0 1068.5,1028.4 1069.5,1028.7 1070.5,1028.9 1071.5,1029.0 1072.5,1029.1 1073.5,1028.9 1074.5,1028.5 1075.5,1028.1 1076.5,1027.6 1077.5,1027.1 1078.5,1026.7 1079.5,1026.4 1080.5,1026.4 1081.5,1026.4 1082.5,1026.4 1083.5,1026.5 1084.5,1026.6 1085.5,1026.7 1086.5,1026.9 1087.5,1027.0 1088.5,1027.1 1089.5,1027.1 1090.5,1027.2 1091.5,1027.2 1092.5,1027.2 1093.5,1027.2 1094.5,1027.2 1095.5,1027.2 1096.5,1027.2 1097.5,1027.2 1098.5,1027.2 1099.5,1027.2 1100.5,1027.2 1101.5,1027.2 1102.5,1027.2 1103.5,1027.2 1104.5,1027.2 1105.5,1027.2 1106.5,1027.1 1107.5,1027.1 1108.5,1027.1 1109.5,1027.0 1110.5,1027.0 1111.5,1026.9 1112.5,1026.8 1113.5,1026.8 1114.5,1026.7 1115.5,1026.7 1116.5,1026.7 1117.5,1026.6 1118.5,1026.6 1119.5,1026.6 1120.5,1026.6 1121.5,1026.6 1122.5,1026.7 1123.5,1026.7 1124.5,1026.7 1125.5,1026.7 1126.5,1026.7 1127.5,1026.7 1128.5,1026.8 1129.5,1026.8 1130.5,1026.8 1131.5,1026.9 1132.5,1027.0 1133.5,1027.2 1134.5,1027.6 1135.5,1027.9 1136.5,1028.2 1137.5,1028.3 1138.5,1027.7 1139.5,1026.8 1140.5,1025.9 1141.5,1025.5 1142.5,1025.8 1143.5,1026.3 1144.5,1026.9 1145.5,1027.2 1146.5,1027.3 1147.5,1027.3 1148.5,1027.4 1149.5,1027.5 1150.5,1027.5 1151.5,1027.6 1152.5,1027.6 1153.5,1027.7 1154.5,1027.7 1155.5,1027.7 1156.5,1027.7 1157.5,1027.7 1158.5,1027.5 1159.5,1026.6 1160.5,1025.7 1161.5,1025.0 1162.5,1025.2 1163.5,1026.0 1164.5,1027.0 1165.5,1027.6 1166.5,1027.7 1167.5,1027.6 1168.5,1027.3 1169.5,1027.0 1170.5,1026.7 1171.5,1026.3 1172.5,1026.0 1173.5,1025.8 1174.5,1025.6 1175.5,1025.5 1176.5,1025.6 1177.5,1025.8 1178.5,1026.1 1179.5,1026.4 1180.5,1026.7 1181.5,1026.9 1182.5,1027.1 1183.5,1027.2 1184.5,1027.2 1185.5,1027.2 1186.5,1027.1 1187.5,1027.1 1188.5,1027.1 1189.5,1027.0 1190.5,1027.0 1191.5,1026.9 1192.5,1026.9 1193.5,1026.8 1194.5,1026.8 1195.5,1026.7 1196.5,1026.7 1197.5,1026.7 1198.5,1026.6 1199.5,1026.6 1200.5,1026.6 1201.5,1026.6 1202.5,1026.7 1203.5,1026.7 1204.5,1026.7 1205.5,1026.8 1206.5,1026.8 1207.5,1026.9 1208.5,1026.9 1209.5,1027.0 1210.5,1027.0 1211.5,1027.1 1212.5,1027.1 1213.5,1027.1 1214.5,1027.2 1215.5,1027.2 1216.5,1027.2 1217.5,1027.1 1218.5,1027.1 1219.5,1027.0 1220.5,1026.9 1221.5,1026.7 1222.5,1026.6 1223.5,1026.5 1224.5,1026.3 1225.5,1026.2 1226.5,1026.1 1227.5,1026.1 1228.5,1026.0 1229.5,1025.9 1230.5,1025.9 1231.5,1025.8 1232.5,1025.8 1233.5,1025.7 1234.5,1025.7 1235.5,1025.6 1236.5,1025.6 1237.5,1025.6 1238.5,1025.6 1239.5,1025.5 1240.5,1025.5 1241.5,1025.6 1242.5,1025.6 1243.5,1025.7 1244.5,1025.8 1245.5,1025.9 1246.5,1026.0 1247.5,1026.1 1248.5,1026.2 1249.5,1026.3 1250.5,1026.4 1251.5,1026.5 1252.5,1026.6 1253.5,1026.6 1254.5,1026.6 1255.5,1026.6 1256.5,1026.6 1257.5,1026.6 1258.5,1026.6 1259.5,1026.6 1260.5,1026.5 1261.5,1026.5 1262.5,1026.5 1263.5,1026.4 1264.5,1026.4 1265.5,1026.3 1266.5,1026.0 1267.5,1025.5 1268.5,1025.0 1269.5,1024.6 1270.5,1024.5 1271.5,1024.5 1272.5,1024.5 1273.5,1024.5 1274.5,1024.6 1275.5,1024.6 1276.5,1024.7 1277.5,1024.7 1278.5,1024.8 1279.5,1024.9 1280.5,1024.9 1281.5,1025.0 1282.5,1025.1 1283.5,1025.2 1284.5,1025.3 1285.5,1025.4 1286.5,1025.6 1287.5,1025.7 1288.5,1025.8 1289.5,1026.0 1290.5,1026.1 1291.5,1026.2 1292.5,1026.3 1293.5,1026.3 1294.5,1026.4 1295.5,1026.4 1296.5,1026.3 1297.5,1026.3 1298.5,1026.2 1299.5,1026.1 1300.5,1026.0 1301.5,1025.8 1302.5,1025.7 1303.5,1025.4 1304.5,1024.5 1305.5,1023.7 1306.5,1024.1 1307.5,1025.6 1308.5,1026.6 1309.5,1026.6 1310.5,1026.6 1311.5,1026.6 1312.5,1026.5 1313.5,1026.4 1314.5,1026.4 1315.5,1026.3 1316.5,1026.2 1317.5,1026.1 1318.5,1026.0 1319.5,1025.9 1320.5,1025.7 1321.5,1025.6 1322.5,1025.5 1323.5,1025.3 1324.5,1025.1 1325.5,1024.9 1326.5,1024.6 1327.5,1024.4 1328.5,1024.1 1329.5,1023.8 1330.5,1023.6 1331.5,1023.3 1332.5,1023.0 1333.5,1022.7 1334.5,1022.4 1335.5,1022.3 1336.5,1022.5 1337.5,1023.1 1338.5,1023.9 1339.5,1024.4 1340.5,1024.3 1341.5,1023.9 1342.5,1023.2 1343.5,1022.5 1344.5,1021.9 1345.5,1021.1 1346.5,1020.4 1347.5,1019.6 1348.5,1019.2 1349.5,1019.0 1350.5,1019.6 1351.5,1020.5 1352.5,1021.4 1353.5,1021.7 1354.5,1021.0 1355.5,1019.5 1356.5,1018.0 1357.5,1017.4 1358.5,1017.7 1359.5,1018.5 1360.5,1019.5 1361.5,1020.3 1362.5,1020.9 1363.5,1020.8 1364.5,1020.1 1365.5,1019.0 1366.5,1017.9 1367.5,1017.1 1368.5,1016.9 1369.5,1017.6 1370.5,1019.1 1371.5,1020.4 1372.5,1020.9 1373.5,1020.2 1374.5,1018.8 1375.5,1017.5 1376.5,1016.8 1377.5,1017.3 1378.5,1018.2 1379.5,1019.1 1380.5,1019.6 1381.5,1019.4 1382.5,1018.8 1383.5,1018.1 1384.5,1017.4 1385.5,1016.9 1386.5,1016.9 1387.5,1017.5 1388.5,1018.3 1389.5,1018.9 1390.5,1018.9 1391.5,1018.0 1392.5,1016.8 1393.5,1015.7 1394.5,1015.7 1395.5,1017.5 1396.5,1019.3 1397.5,1019.5 1398.5,1019.0 1399.5,1018.2 1400.5,1017.4 1401.5,1016.7 1402.5,1016.3 1403.5,1016.0 1404.5,1015.7 1405.5,1015.5 1406.5,1015.5 1407.5,1016.0 1408.5,1016.9 1409.5,1017.8 1410.5,1018.2 1411.5,1017.5 1412.5,1015.9 1413.5,1014.3 1414.5,1013.6 1415.5,1014.0 1416.5,1014.9 1417.5,1016.2 1418.5,1017.3 1419.5,1018.3 1420.5,1019.4 1421.5,1020.4 1422.5,1020.9 1423.5,1020.2 1424.5,1018.1 1425.5,1015.7 1426.5,1014.2 1427.5,1014.2 1428.5,1014.7 1429.5,1015.1 1430.5,1015.5 1431.5,1014.8 1432.5,1012.1 1433.5,1008.6 1434.5,1006.3 1435.5,1006.3 1436.5,1007.8 1437.5,1009.7 1438.5,1011.2 1439.5,1011.3 1440.5,1010.6 1441.5,1009.6 1442.5,1008.8 1443.5,1009.2 1444.5,1012.1 1445.5,1010.4 1446.5,1000.0 1447.5,997.1 1448.5,1003.3 1449.5,1007.6 1450.5,1008.9 1451.5,1009.7 1452.5,1010.1 1453.5,1008.9 1454.5,1006.3 1455.5,1004.4 1456.5,1003.0 1457.5,1002.1 1458.5,1002.0 1459.5,1002.6 1460.5,1004.0 1461.5,1006.0 1462.5,1008.7" fill="none" stroke="#ff7f0e" stroke-width="2.1" stroke-linejoin="round"/></g>
<path d="M116.5 1054.5v5.3M284.5 1054.5v5.3M453.5 1054.5v5.3M621.5 1054.5v5.3M789.5 1054.5v5.3M957.5 1054.5v5.3M1126.5 1054.5v5.3M1294.5 1054.5v5.3M116.5 1034.5h-5.3M116.5 929.5h-5.3M116.5 823.5h-5.3M116.5 718.5h-5.3M116.5 612.5h-5.3" stroke="#000" stroke-width="1.1" fill="none"/>
<rect x="116.5" y="575.5" width="1346.0" height="479.0" fill="none" stroke="#000" stroke-width="1.1"/>
<text x="105.4" y="1042.1" font-size="23.4" text-anchor="end" textLength="39.0" lengthAdjust="spacingAndGlyphs">0.0</text>
<text x="105.4" y="937.1" font-size="23.4" text-anchor="end" textLength="39.0" lengthAdjust="spacingAndGlyphs">0.2</text>
<text x="105.4" y="831.1" font-size="23.4" text-anchor="end" textLength="39.0" lengthAdjust="spacingAndGlyphs">0.4</text>
<text x="105.4" y="726.1" font-size="23.4" text-anchor="end" textLength="39.0" lengthAdjust="spacingAndGlyphs">0.6</text>
<text x="105.4" y="620.1" font-size="23.4" text-anchor="end" textLength="39.0" lengthAdjust="spacingAndGlyphs">0.8</text>
<text transform="translate(56.6,815.0) rotate(-90)" font-size="23.4" text-anchor="middle" textLength="209.5" lengthAdjust="spacingAndGlyphs">Peak Voltage [V]</text>
<text x="115.5" y="566.9" font-size="28.2" textLength="43.5" lengthAdjust="spacingAndGlyphs">(b)</text>
<text x="784.70" y="29.8" font-size="28.2" text-anchor="middle" textLength="301" lengthAdjust="spacingAndGlyphs">10.0 MHz N0000007</text>
<text transform="translate(112.6,1077.7) rotate(-30)" font-size="23.4" text-anchor="end" textLength="109.7" lengthAdjust="spacingAndGlyphs">08-30 00</text>
<text transform="translate(280.6,1077.7) rotate(-30)" font-size="23.4" text-anchor="end" textLength="109.7" lengthAdjust="spacingAndGlyphs">08-30 03</text>
<text transform="translate(449.6,1077.7) rotate(-30)" font-size="23.4" text-anchor="end" textLength="109.7" lengthAdjust="spacingAndGlyphs">08-30 06</text>
<text transform="translate(617.6,1077.7) rotate(-30)" font-size="23.4" text-anchor="end" textLength="109.7" lengthAdjust="spacingAndGlyphs">08-30 09</text>
<text transform="translate(785.6,1077.7) rotate(-30)" font-size="23.4" text-anchor="end" textLength="109.7" lengthAdjust="spacingAndGlyphs">08-30 12</text>
<text transform="translate(953.6,1077.7) rotate(-30)" font-size="23.4" text-anchor="end" textLength="109.7" lengthAdjust="spacingAndGlyphs">08-30 15</text>
<text transform="translate(1122.6,1077.7) rotate(-30)" font-size="23.4" text-anchor="end" textLength="109.7" lengthAdjust="spacingAndGlyphs">08-30 18</text>
<text transform="translate(1290.6,1077.7) rotate(-30)" font-size="23.4" text-anchor="end" textLength="109.7" lengthAdjust="spacingAndGlyphs">08-30 21</text>
<text x="788.90" y="1158.3" font-size="23.4" text-anchor="middle" textLength="49.5" lengthAdjust="spacingAndGlyphs">UTC</text>
<rect x="1047.4" y="48.4" width="406.6" height="79.8" rx="2.8" fill="#fff" fill-opacity="0.8" stroke="#ccc" stroke-width="1.1"/>
<circle cx="1073.6" cy="63.5" r="2.78" fill="#1f77b4"/>
<path d="M1053.4 101.7H1091.6" stroke="#ff7f0e" stroke-width="2.1"/>
<text x="1105.8" y="68.7" font-size="19.4" textLength="98.2" lengthAdjust="spacingAndGlyphs">Raw Data</text>
<text x="1105.8" y="95.7" font-size="19.4" textLength="269.6" lengthAdjust="spacingAndGlyphs">Butterworth Filtered Data</text>
<text x="1106.6" y="117.5" font-size="19.4" textLength="338.2" lengthAdjust="spacingAndGlyphs">(N=6, Tc=3.3333 min, Type: low)</text>
<rect x="1047.4" y="584.8" width="406.6" height="79.8" rx="2.8" fill="#fff" fill-opacity="0.8" stroke="#ccc" stroke-width="1.1"/>
<circle cx="1073.6" cy="599.9" r="2.78" fill="#1f77b4"/>
<path d="M1053.4 638.1H1091.6" stroke="#ff7f0e" stroke-width="2.1"/>
<text x="1105.8" y="605.1" font-size="19.4" textLength="98.2" lengthAdjust="spacingAndGlyphs">Raw Data</text>
<text x="1105.8" y="632.1" font-size="19.4" textLength="269.6" lengthAdjust="spacingAndGlyphs">Butterworth Filtered Data</text>
<text x="1106.6" y="653.9" font-size="19.4" textLength="338.2" lengthAdjust="spacingAndGlyphs">(N=6, Tc=3.3333 min, Type: low)</text>
</svg>
</body></html>
